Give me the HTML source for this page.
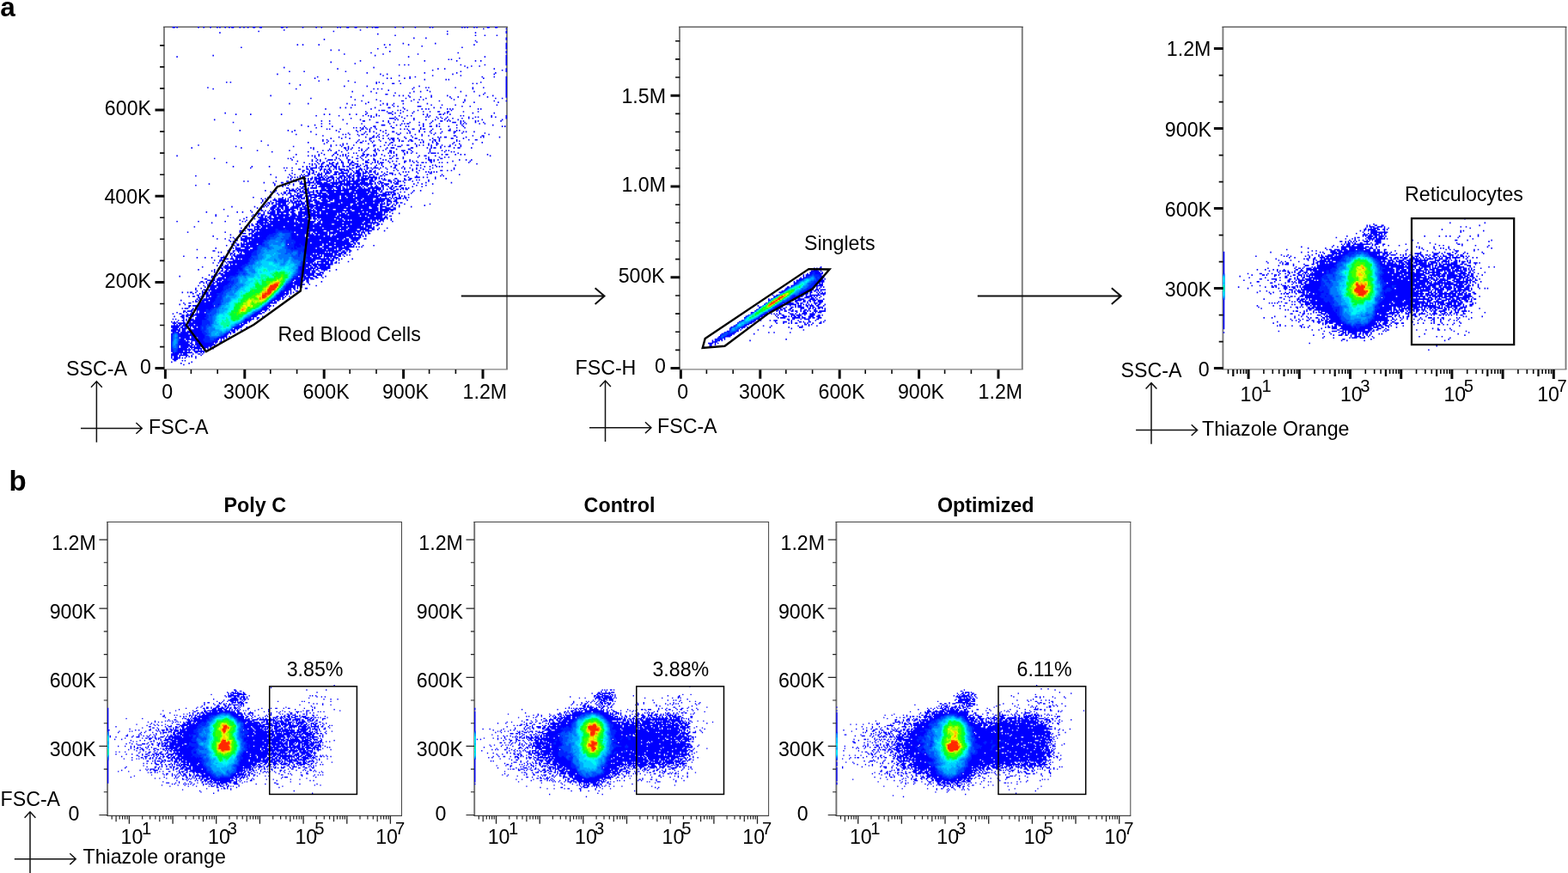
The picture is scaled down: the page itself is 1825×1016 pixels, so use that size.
<!DOCTYPE html>
<html lang="en"><head><meta charset="utf-8"><title>Flow cytometry gating</title>
<style>html,body{margin:0;padding:0;background:#fff}svg{display:block}text{font-family:"Liberation Sans",Arial,Helvetica,sans-serif;fill:#000}</style></head>
<body>
<svg width="1825" height="1016" viewBox="0 0 1825 1016">
<rect width="1825" height="1016" fill="#fff"/>
<path d="M191.0 31.1L191.0 429.9" stroke="#7c7c7c" stroke-width="1.9" fill="none"/>
<path d="M590.0 31.1L590.0 429.9" stroke="#7c7c7c" stroke-width="1.9" fill="none"/>
<path d="M190.1 31.3L590.9 31.3" stroke="#4c4c4c" stroke-width="1.2" fill="none"/>
<path d="M190.1 429.8L590.9 429.8" stroke="#808080" stroke-width="1.2" fill="none"/>
<g transform="translate(191.30 31.88) scale(1.5578 1.5578)" fill="none" stroke-width="1.04">
<path stroke="#0000ff" d="M6 0h2m1 0h1m15 0h1m3 0h1m4 0h1m4 0h1m1 0h1m3 0h1m2 0h1m1 0h2m4 0h1m2 0h1m2 0h1m3 0h2m3 0h2m14 0h2m2 0h1m11 0h1m9 0h1m3 0h1m11 0h1m1 0h1m4 0h2m4 0h2m7 0h1m3 0h1m1 0h3m12 0h1m5 0h1m8 0h1m10 0h1m1 0h1m21 0h1m1 0h1m1 0h1m4 0h1m1 0h1m7 0h2m4 0h2m-11 1h1m16 0h1m-167 1h1m56 0h1m-77 1h1m55 0h1m84 0h1m43 0h1m-215 1h1m190 0h1m22 0h1m-97 1h1m51 0h1m-40 1h1m59 0h1m6 0h1m8 0h1m-63 2h1m8 0h1m59 0h1m-137 1h1m135 0h1m-24 1h1m0 1h1m-56 1h1m23 0h1m52 0h1m-157 1h1m3 0h1m11 0h1m48 0h1m3 0h1m13 0h1m48 0h1m23 0h1m-64 1h1m62 0h1m-199 1h1m107 0h1m56 0h1m32 0h1m-97 1h1m95 0h1m-132 1h1m5 0h1m37 1h1m86 0h1m-102 1h1m64 0h1m35 0h1m-122 1h1m28 0h1m25 0h1m-154 1h1m120 0h1m97 0h1m-247 1h1m172 0h1m56 0h1m15 0h1m-36 1h1m34 0h1m-44 1h1m1 0h1m40 0h1m-110 1h1m47 0h1m23 0h1m13 0h1m3 0h1m18 0h1m-132 1h1m130 0h1m-114 1h1m112 0h1m-81 1h1m3 0h1m2 0h1m38 0h1m17 0h1m15 0h1m-32 1h1m4 0h1m5 0h1m-147 1h1m66 0h1m69 0h1m-98 1h1m74 0h1m4 0h1m36 0h1m8 0h1m-56 1h1m51 0h1m2 0h1m-163 1h1m10 0h1m30 0h1m85 0h1m33 0h1m-105 1h1m42 0h1m23 0h1m28 0h1m-164 1h1m76 0h1m4 0h1m48 0h1m30 0h1m-84 1h1m11 0h1m24 0h1m20 0h1m-108 1h1m68 0h1m3 0h1m49 0h1m8 0h1m8 0h1m-144 1h1m53 0h1m2 0h1m9 0h1m3 0h1m54 0h1m16 0h1m-134 1h1m71 0h1m15 0h1m1 0h1m42 0h1m-141 1h1m21 0h1m37 0h1m79 0h1m-210 1h1m2 0h1m92 0h1m15 0h1m1 0h1m75 0h1m18 0h1m-163 1h1m64 0h1m4 0h1m6 0h2m4 0h1m53 0h1m2 0h1m21 0h1m-155 1h1m153 0h1m-122 1h1m16 0h1m38 0h1m64 0h1m-224 1h1m153 0h1m8 0h1m1 0h1m19 0h1m12 0h1m7 0h1m16 0h1m-220 1h1m61 0h1m57 0h1m2 0h1m2 0h1m22 0h1m44 0h1m24 0h1m-89 1h1m28 0h1m58 0h1m-116 1h1m13 0h1m31 0h1m4 0h1m6 0h1m22 0h1m9 0h1m23 0h1m-98 1h1m13 0h1m10 0h1m55 0h1m15 0h1m-91 1h2m71 0h1m16 0h1m-177 1h1m68 0h1m22 0h1m3 0h1m2 0h1m3 0h1m16 0h1m11 0h1m13 0h1m9 0h1m9 0h1m9 0h1m-117 1h1m43 0h1m7 0h1m7 0h1m13 0h1m5 0h1m21 0h1m13 0h1m-147 1h1m70 0h1m14 0h1m18 0h1m32 0h1m4 0h1m-111 1h1m15 0h1m27 0h1m3 0h1m2 0h1m22 0h1m7 0h1m-78 1h1m13 0h1m15 0h2m5 0h1m20 0h1m18 0h1m21 0h1m8 0h1m-104 1h1m36 0h1m33 0h1m7 0h1m17 0h1m-157 1h1m13 0h1m28 0h1m13 0h1m12 0h1m2 0h1m4 0h1m6 0h1m17 0h1m-57 1h1m1 0h1m18 0h1m4 0h1m3 0h1m28 0h1m7 0h1m9 0h1m30 0h1m-78 1h1m2 0h1m14 0h3m30 0h1m5 0h1m-98 1h1m3 0h1m3 0h1m17 0h1m9 0h2m9 0h1m22 0h1m4 0h1m-87 1h1m33 0h1m24 0h1m12 0h1m2 0h1m1 0h1m13 0h1m1 0h1m1 0h1m18 0h1m1 0h1m-77 1h1m1 0h3m9 0h1m1 0h1m4 0h1m7 0h1m24 0h1m-65 1h1m15 0h1m3 0h1m7 0h1m7 0h1m6 0h1m4 0h1m5 0h2m5 0h2m10 0h1m10 0h1m-190 1h1m105 0h1m15 0h3m2 0h1m3 0h1m8 0h1m23 0h1m1 0h1m18 0h1m15 0h1m-194 1h1m10 0h1m22 0h1m31 0h1m3 0h1m14 0h1m4 0h1m6 0h1m7 0h1m11 0h1m22 0h1m2 0h1m8 0h2m1 0h1m4 0h1m-101 1h1m16 0h1m17 0h1m3 0h1m1 0h1m3 0h1m1 0h1m14 0h1m5 0h1m2 0h1m11 0h1m1 0h1m22 0h1m1 0h1m20 0h1m10 0h1m-102 1h1m1 0h1m15 0h1m4 0h1m17 0h1m1 0h1m5 0h1m2 0h1m4 0h1m15 0h1m4 0h1m1 0h1m9 0h1m2 0h1m7 0h1m-117 1h1m28 0h4m1 0h1m5 0h1m6 0h1m17 0h1m2 0h1m2 0h1m4 0h1m6 0h1m4 0h1m2 0h1m24 0h1m-219 1h1m95 0h1m12 0h1m6 0h1m18 0h1m1 0h1m11 0h1m8 0h1m6 0h1m6 0h1m2 0h1m6 0h1m17 0h1m14 0h1m-136 1h1m5 0h1m24 0h2m13 0h1m3 0h1m10 0h1m21 0h1m5 0h2m3 0h1m1 0h1m7 0h1m1 0h1m8 0h1m1 0h1m16 0h1m-201 1h1m106 0h2m7 0h1m3 0h1m11 0h1m6 0h1m8 0h1m15 0h3m3 0h1m2 0h1m7 0h1m5 0h1m-122 1h1m5 0h1m12 0h1m10 0h1m20 0h1m8 0h1m1 0h1m1 0h2m10 0h1m4 0h1m6 0h1m15 0h1m1 0h1m1 0h1m9 0h1m3 0h1m-138 1h1m9 0h1m49 0h3m8 0h1m2 0h1m13 0h1m2 0h1m9 0h1m14 0h1m3 0h1m22 0h1m-139 1h1m9 0h1m7 0h1m23 0h1m6 0h2m11 0h1m10 0h1m1 0h1m10 0h1m4 0h2m3 0h1m1 0h1m6 0h1m10 0h1m28 0h1m1 0h1m-142 1h1m27 0h1m1 0h1m2 0h1m1 0h1m1 0h1m3 0h1m2 0h1m12 0h2m19 0h1m26 0h1m5 0h1m-104 1h1m1 0h1m7 0h1m15 0h2m2 0h1m1 0h1m4 0h1m17 0h1m2 0h1m1 0h1m3 0h2m4 0h1m1 0h2m5 0h1m5 0h1m6 0h1m-158 1h1m35 0h1m4 0h1m30 0h1m14 0h1m2 0h1m6 0h1m7 0h1m3 0h1m16 0h1m7 0h1m8 0h1m12 0h2m4 0h1m1 0h1m-126 1h1m13 0h1m20 0h1m13 0h1m5 0h1m2 0h1m2 0h1m6 0h1m6 0h2m11 0h1m6 0h1m3 0h1m3 0h1m8 0h1m8 0h2m5 0h1m1 0h1m5 0h1m-95 1h1m11 0h1m8 0h1m6 0h1m7 0h1m2 0h1m4 0h1m1 0h1m15 0h1m2 0h1m3 0h1m9 0h1m5 0h1m16 0h1m-142 1h1m14 0h1m19 0h1m1 0h1m2 0h1m5 0h1m2 0h2m2 0h1m8 0h1m6 0h1m6 0h2m11 0h1m4 0h1m8 0h1m40 0h1m-125 1h1m26 0h1m10 0h1m2 0h1m3 0h1m2 0h1m17 0h1m7 0h1m4 0h1m18 0h2m12 0h1m6 0h2m-109 1h1m4 0h1m14 0h1m4 0h2m1 0h1m1 0h1m18 0h1m5 0h1m18 0h1m1 0h1m2 0h2m7 0h1m6 0h1m10 0h1m1 0h1m11 0h1m-127 1h1m7 0h1m5 0h1m14 0h2m8 0h1m3 0h1m1 0h3m2 0h1m5 0h1m6 0h2m11 0h1m4 0h1m8 0h2m7 0h1m-106 1h1m2 0h1m23 0h1m7 0h1m6 0h1m7 0h1m1 0h2m3 0h1m7 0h2m5 0h1m1 0h1m5 0h1m2 0h2m2 0h1m12 0h1m8 0h1m4 0h2m-162 1h1m45 0h1m3 0h1m3 0h1m17 0h1m3 0h1m1 0h1m3 0h1m1 0h1m4 0h1m9 0h1m3 0h1m1 0h2m3 0h1m1 0h2m7 0h1m6 0h1m1 0h1m2 0h1m12 0h1m1 0h1m-114 1h1m13 0h1m21 0h1m2 0h2m7 0h1m9 0h1m3 0h2m20 0h1m1 0h1m6 0h1m2 0h1m12 0h1m20 0h1m-119 1h1m13 0h1m2 0h1m15 0h1m15 0h1m18 0h1m9 0h1m5 0h2m10 0h1m4 0h1m9 0h1m-206 1h1m51 0h1m46 0h1m3 0h1m2 0h1m1 0h1m7 0h1m14 0h2m6 0h1m2 0h1m2 0h1m1 0h1m4 0h1m3 0h2m5 0h1m1 0h1m2 0h1m3 0h1m1 0h1m3 0h1m3 0h1m5 0h1m3 0h1m3 0h1m-169 1h1m42 0h1m27 0h1m7 0h1m4 0h1m18 0h1m4 0h1m12 0h3m11 0h1m10 0h1m6 0h1m2 0h1m2 0h2m7 0h1m-202 1h1m36 0h1m51 0h1m1 0h1m22 0h2m1 0h1m2 0h1m4 0h1m6 0h1m13 0h1m2 0h3m12 0h2m10 0h1m2 0h1m1 0h2m3 0h1m9 0h1m2 0h2m8 0h1m-119 1h1m11 0h1m11 0h1m1 0h1m1 0h1m7 0h1m3 0h1m5 0h1m1 0h1m5 0h1m7 0h1m8 0h2m14 0h1m-130 1h1m23 0h1m24 0h1m3 0h1m1 0h1m5 0h1m5 0h1m8 0h1m1 0h1m2 0h1m5 0h2m2 0h1m2 0h1m4 0h2m7 0h3m4 0h1m13 0h1m8 0h1m2 0h1m1 0h1m-133 1h1m26 0h1m6 0h1m13 0h1m3 0h1m16 0h1m7 0h1m10 0h2m1 0h1m6 0h1m2 0h1m3 0h1m12 0h1m10 0h1m4 0h1m1 0h1m-100 1h1m9 0h2m8 0h1m3 0h1m1 0h1m4 0h1m9 0h1m8 0h1m1 0h1m1 0h1m7 0h1m1 0h1m2 0h1m3 0h1m8 0h1m1 0h4m1 0h1m14 0h1m-122 1h1m16 0h1m3 0h1m6 0h1m2 0h1m3 0h1m1 0h1m12 0h2m1 0h2m3 0h1m1 0h1m3 0h1m10 0h1m5 0h1m27 0h1m2 0h2m5 0h1m3 0h1m2 0h1m16 0h1m-233 1h1m97 0h1m2 0h1m1 0h1m2 0h1m9 0h1m5 0h1m1 0h1m1 0h1m1 0h1m6 0h1m2 0h2m2 0h1m2 0h1m1 0h2m6 0h1m3 0h1m2 0h1m1 0h1m16 0h1m3 0h2m6 0h1m40 0h1m-148 1h1m15 0h1m15 0h1m7 0h1m3 0h1m5 0h1m3 0h1m19 0h1m7 0h1m10 0h1m7 0h1m7 0h1m3 0h1m2 0h1m-176 1h1m54 0h1m1 0h1m18 0h1m6 0h1m7 0h1m1 0h1m5 0h1m6 0h2m2 0h1m8 0h1m4 0h1m6 0h2m3 0h2m3 0h1m16 0h1m1 0h1m8 0h2m-113 1h1m14 0h1m3 0h1m1 0h1m5 0h4m1 0h1m3 0h1m5 0h2m9 0h1m3 0h1m3 0h2m5 0h1m1 0h1m17 0h1m13 0h3m1 0h1m2 0h1m15 0h1m4 0h1m3 0h1m-131 1h1m10 0h1m2 0h1m2 0h1m4 0h1m10 0h1m4 0h1m2 0h1m3 0h1m5 0h2m5 0h1m1 0h1m7 0h1m2 0h1m2 0h1m5 0h2m2 0h1m1 0h1m2 0h1m9 0h2m1 0h1m13 0h1m12 0h1m-183 1h1m57 0h1m9 0h1m3 0h2m3 0h1m1 0h2m2 0h1m2 0h2m3 0h1m1 0h3m8 0h3m2 0h1m1 0h1m1 0h1m1 0h3m4 0h1m10 0h1m6 0h1m2 0h1m2 0h2m1 0h1m3 0h1m5 0h1m1 0h1m3 0h1m15 0h1m-130 1h1m9 0h1m1 0h1m1 0h1m2 0h1m1 0h2m4 0h3m2 0h2m3 0h1m4 0h2m2 0h3m3 0h1m5 0h1m5 0h1m1 0h1m8 0h1m3 0h1m57 0h1m-124 1h1m2 0h1m3 0h1m3 0h2m2 0h2m1 0h1m4 0h1m4 0h1m1 0h2m2 0h1m1 0h1m3 0h2m6 0h1m3 0h1m9 0h2m10 0h1m3 0h2m1 0h1m8 0h1m1 0h1m14 0h1m-167 1h1m13 0h1m12 0h1m24 0h1m2 0h1m1 0h1m4 0h1m2 0h3m1 0h1m1 0h1m1 0h1m1 0h3m1 0h1m2 0h2m1 0h2m5 0h3m3 0h1m1 0h1m5 0h1m5 0h1m5 0h1m2 0h1m5 0h1m15 0h1m3 0h1m4 0h1m1 0h1m1 0h1m-144 1h1m24 0h1m1 0h1m3 0h1m10 0h1m2 0h5m1 0h1m1 0h1m5 0h1m3 0h2m1 0h1m7 0h1m1 0h2m1 0h1m2 0h1m4 0h2m1 0h1m1 0h4m1 0h1m3 0h1m5 0h2m4 0h1m1 0h1m3 0h1m4 0h1m2 0h1m8 0h1m15 0h1m-117 1h2m4 0h2m1 0h2m5 0h2m1 0h2m1 0h2m2 0h1m1 0h1m1 0h5m1 0h1m1 0h2m5 0h3m1 0h1m1 0h1m3 0h1m4 0h1m5 0h1m6 0h1m5 0h1m5 0h1m2 0h1m4 0h1m4 0h1m17 0h1m-127 1h1m4 0h1m7 0h2m3 0h1m1 0h2m4 0h1m2 0h1m1 0h1m1 0h2m6 0h2m1 0h4m2 0h1m2 0h3m1 0h1m2 0h1m2 0h2m2 0h1m13 0h1m2 0h1m10 0h1m4 0h1m15 0h2m3 0h1m2 0h1m-112 1h1m2 0h1m1 0h1m2 0h1m1 0h1m5 0h1m1 0h2m1 0h1m2 0h3m2 0h2m3 0h1m3 0h1m1 0h3m2 0h1m1 0h2m1 0h2m1 0h2m4 0h1m3 0h1m11 0h1m1 0h1m1 0h1m5 0h1m6 0h1m1 0h1m1 0h1m1 0h1m1 0h1m-109 1h1m11 0h2m1 0h2m3 0h1m1 0h1m2 0h4m3 0h2m1 0h7m2 0h1m2 0h5m1 0h3m1 0h1m4 0h1m1 0h1m4 0h1m3 0h3m4 0h1m13 0h1m8 0h2m-121 1h1m13 0h1m3 0h1m4 0h1m1 0h1m2 0h2m3 0h1m1 0h4m2 0h1m5 0h3m1 0h1m2 0h1m2 0h1m1 0h2m1 0h1m2 0h3m1 0h1m4 0h3m2 0h2m3 0h1m1 0h2m3 0h1m1 0h1m3 0h1m4 0h1m14 0h1m10 0h1m12 0h1m-198 1h1m70 0h1m6 0h1m1 0h1m1 0h3m6 0h2m1 0h1m1 0h1m1 0h1m2 0h2m5 0h4m1 0h3m1 0h2m1 0h4m1 0h4m1 0h1m2 0h1m4 0h2m1 0h1m14 0h2m7 0h1m17 0h1m1 0h1m-126 1h1m8 0h1m2 0h1m1 0h1m1 0h1m1 0h1m1 0h1m6 0h1m1 0h2m1 0h4m1 0h1m1 0h5m1 0h1m1 0h3m1 0h2m1 0h3m1 0h1m2 0h2m1 0h2m1 0h1m1 0h7m1 0h1m21 0h1m4 0h4m2 0h1m2 0h1m5 0h1m-109 1h1m6 0h1m1 0h3m1 0h1m1 0h2m1 0h5m1 0h2m1 0h2m2 0h2m2 0h2m1 0h1m1 0h1m1 0h1m1 0h1m1 0h2m2 0h2m1 0h6m1 0h2m1 0h2m1 0h1m1 0h1m1 0h1m7 0h2m5 0h1m3 0h2m17 0h1m7 0h1m-117 1h1m1 0h1m1 0h1m8 0h1m1 0h1m2 0h2m1 0h7m1 0h2m1 0h1m1 0h1m1 0h1m2 0h4m1 0h1m1 0h2m1 0h9m1 0h3m1 0h1m5 0h3m1 0h2m2 0h1m2 0h1m4 0h2m1 0h2m4 0h1m1 0h1m6 0h1m-139 1h1m2 0h1m20 0h1m7 0h2m2 0h1m1 0h2m1 0h1m1 0h1m4 0h2m2 0h1m1 0h4m4 0h3m2 0h1m1 0h1m1 0h5m1 0h10m1 0h3m3 0h4m3 0h2m5 0h3m2 0h1m1 0h3m1 0h1m6 0h1m11 0h1m-124 1h1m6 0h1m5 0h2m12 0h2m2 0h7m1 0h5m1 0h3m2 0h9m1 0h1m1 0h3m2 0h4m1 0h6m1 0h2m2 0h1m1 0h1m1 0h3m5 0h1m1 0h1m1 0h2m4 0h1m9 0h1m5 0h1m18 0h1m-182 1h1m48 0h1m10 0h1m2 0h1m4 0h5m2 0h1m3 0h1m1 0h10m1 0h5m1 0h25m1 0h1m2 0h1m1 0h1m1 0h4m4 0h3m11 0h1m5 0h1m7 0h1m-178 1h1m58 0h1m4 0h2m1 0h1m1 0h1m3 0h1m7 0h2m1 0h2m1 0h2m1 0h1m2 0h11m1 0h1m1 0h3m1 0h5m1 0h2m1 0h3m1 0h1m1 0h4m1 0h1m3 0h1m3 0h2m1 0h2m3 0h1m5 0h2m1 0h1m8 0h1m6 0h1m-112 1h1m3 0h1m12 0h1m1 0h3m4 0h1m2 0h1m1 0h17m1 0h1m2 0h1m1 0h9m1 0h1m2 0h1m2 0h2m1 0h3m2 0h2m3 0h1m1 0h2m1 0h2m1 0h2m8 0h1m6 0h1m-110 1h1m7 0h2m6 0h1m2 0h2m1 0h1m1 0h1m1 0h5m3 0h3m1 0h5m2 0h4m1 0h2m1 0h1m1 0h6m1 0h3m1 0h1m2 0h10m1 0h1m4 0h2m1 0h1m5 0h2m1 0h1m1 0h1m-90 1h1m1 0h2m1 0h1m1 0h2m2 0h4m9 0h4m1 0h3m1 0h1m2 0h3m1 0h10m1 0h10m1 0h2m1 0h4m1 0h1m2 0h1m2 0h2m2 0h2m1 0h1m1 0h1m1 0h2m-107 1h1m7 0h1m7 0h1m1 0h5m1 0h1m1 0h1m1 0h1m2 0h2m3 0h1m1 0h2m1 0h22m2 0h14m1 0h4m1 0h1m1 0h1m8 0h2m13 0h1m4 0h1m-113 1h1m1 0h2m6 0h2m2 0h1m3 0h2m2 0h5m1 0h5m1 0h2m1 0h2m3 0h6m1 0h4m2 0h4m1 0h3m1 0h8m1 0h7m2 0h2m2 0h7m4 0h1m2 0h1m5 0h1m-102 1h1m2 0h1m1 0h2m1 0h3m4 0h2m3 0h5m2 0h1m2 0h7m1 0h31m1 0h6m3 0h3m1 0h1m1 0h1m1 0h2m1 0h1m9 0h1m15 0h1m-116 1h1m2 0h1m2 0h1m2 0h1m2 0h1m1 0h1m1 0h3m2 0h1m1 0h6m1 0h2m1 0h4m1 0h18m1 0h1m1 0h8m1 0h4m1 0h1m1 0h9m1 0h3m2 0h1m6 0h1m-89 1h3m1 0h5m2 0h5m2 0h19m1 0h3m1 0h7m1 0h17m1 0h4m4 0h1m4 0h1m1 0h1m1 0h1m-114 1h1m10 0h3m8 0h1m4 0h2m1 0h1m2 0h4m1 0h1m2 0h1m1 0h5m2 0h15m1 0h4m1 0h4m1 0h18m1 0h1m3 0h1m2 0h1m1 0h1m1 0h2m1 0h2m2 0h2m1 0h1m-111 1h1m2 0h1m6 0h1m2 0h4m1 0h1m1 0h1m3 0h3m1 0h1m1 0h3m2 0h1m1 0h1m2 0h1m2 0h2m1 0h3m1 0h9m1 0h16m1 0h7m2 0h10m1 0h1m1 0h1m1 0h4m1 0h1m1 0h1m-108 1h1m2 0h1m4 0h3m1 0h6m1 0h1m1 0h1m1 0h1m2 0h1m1 0h1m4 0h4m1 0h3m3 0h5m1 0h3m1 0h16m1 0h3m1 0h8m1 0h8m1 0h3m3 0h2m7 0h1m-109 1h1m1 0h1m3 0h1m3 0h10m1 0h2m1 0h6m2 0h6m1 0h4m2 0h6m3 0h17m1 0h19m2 0h4m1 0h3m-102 1h1m4 0h2m1 0h2m1 0h1m1 0h6m2 0h1m1 0h4m1 0h1m1 0h3m1 0h3m3 0h10m2 0h8m1 0h10m1 0h6m1 0h5m1 0h4m1 0h1m1 0h1m1 0h1m2 0h1m3 0h2m1 0h2m-102 1h1m1 0h1m1 0h1m2 0h4m1 0h3m1 0h1m3 0h1m1 0h7m1 0h5m2 0h17m1 0h8m2 0h7m1 0h11m1 0h4m1 0h3m2 0h1m1 0h1m5 0h1m18 0h1m-124 1h1m1 0h1m3 0h3m1 0h7m4 0h1m1 0h4m1 0h1m1 0h2m1 0h7m1 0h23m1 0h4m1 0h15m1 0h2m3 0h2m2 0h1m1 0h1m2 0h1m18 0h1m-145 1h1m16 0h1m5 0h2m1 0h1m3 0h4m1 0h4m1 0h3m2 0h6m2 0h3m1 0h5m1 0h6m1 0h16m1 0h16m1 0h5m2 0h5m3 0h2m4 0h1m8 0h1m-116 1h1m2 0h1m6 0h4m1 0h2m1 0h2m1 0h3m1 0h6m1 0h2m1 0h4m1 0h2m1 0h10m1 0h30m2 0h5m1 0h2m2 0h4m2 0h2m-129 1h1m27 0h1m6 0h3m1 0h4m1 0h1m1 0h7m2 0h1m1 0h9m1 0h1m1 0h5m2 0h6m2 0h6m2 0h3m1 0h7m1 0h12m1 0h12m-109 1h1m7 0h2m1 0h1m2 0h1m1 0h3m1 0h3m2 0h5m1 0h3m3 0h2m2 0h8m1 0h26m2 0h18m1 0h7m1 0h2m-140 1h1m22 0h1m3 0h1m6 0h1m8 0h1m2 0h1m1 0h4m1 0h9m1 0h3m3 0h10m1 0h5m1 0h16m2 0h1m1 0h11m1 0h2m1 0h6m1 0h4m1 0h3m1 0h1m-100 1h3m2 0h1m2 0h6m1 0h2m1 0h2m2 0h2m2 0h3m2 0h8m1 0h4m1 0h2m1 0h4m1 0h7m1 0h1m1 0h3m1 0h9m1 0h7m1 0h9m1 0h1m5 0h1m4 0h1m-138 1h1m27 0h1m3 0h1m1 0h3m4 0h15m1 0h4m1 0h3m1 0h25m1 0h7m1 0h27m1 0h1m-129 1h1m8 0h1m17 0h1m3 0h1m2 0h2m1 0h2m1 0h2m1 0h3m1 0h8m1 0h11m1 0h2m1 0h19m1 0h17m1 0h3m1 0h6m1 0h5m2 0h1m2 0h2m-109 1h1m4 0h1m3 0h4m1 0h1m1 0h3m2 0h7m1 0h8m1 0h4m2 0h5m1 0h2m1 0h17m1 0h20m1 0h10m1 0h3m-108 1h1m7 0h1m3 0h6m1 0h29m1 0h2m1 0h3m1 0h1m1 0h10m1 0h5m1 0h31m1 0h1m2 0h1m-114 1h1m4 0h1m8 0h8m1 0h1m1 0h4m1 0h11m1 0h11m3 0h1m1 0h1m1 0h13m1 0h4m1 0h2m1 0h1m1 0h14m1 0h3m1 0h1m1 0h3m5 0h1m-161 1h1m15 0h1m19 0h1m12 0h1m1 0h1m8 0h5m1 0h2m1 0h14m1 0h4m1 0h1m1 0h13m2 0h2m1 0h31m1 0h4m1 0h1m1 0h1m2 0h2m1 0h1m6 0h1m-136 1h1m33 0h9m1 0h21m1 0h2m1 0h8m2 0h3m1 0h15m1 0h14m1 0h11m-104 1h1m8 0h1m2 0h2m1 0h3m1 0h1m1 0h34m1 0h13m2 0h12m1 0h12m2 0h1m1 0h1m2 0h2m1 0h1m-100 1h1m1 0h2m2 0h2m1 0h8m1 0h16m1 0h18m1 0h16m1 0h2m1 0h10m1 0h1m1 0h5m3 0h2m-138 1h1m37 0h2m1 0h1m3 0h5m1 0h16m1 0h59m1 0h5m1 0h1m-100 1h1m2 0h2m5 0h1m1 0h2m1 0h4m1 0h25m1 0h8m1 0h6m1 0h12m1 0h5m1 0h13m1 0h5m3 0h1m5 0h1m-105 1h4m1 0h40m1 0h21m1 0h6m1 0h7m2 0h7m2 0h2m2 0h1m-104 1h2m2 0h1m2 0h1m1 0h3m1 0h1m1 0h48m2 0h3m2 0h5m1 0h1m1 0h13m1 0h1m1 0h5m9 0h1m-148 1h1m27 0h1m10 0h1m8 0h2m1 0h29m1 0h9m1 0h1m2 0h2m1 0h8m1 0h20m1 0h2m1 0h3m2 0h1m-95 1h3m2 0h3m1 0h42m1 0h1m1 0h10m1 0h5m1 0h11m1 0h3m1 0h1m1 0h1m1 0h1m2 0h2m-105 1h1m13 0h1m1 0h34m1 0h5m1 0h6m1 0h2m1 0h6m1 0h1m2 0h1m1 0h20m2 0h1m-115 1h1m19 0h1m1 0h4m3 0h5m1 0h34m1 0h13m1 0h4m1 0h16m1 0h1m2 0h2m1 0h1m1 0h1m-102 1h1m1 0h1m2 0h1m2 0h1m2 0h6m1 0h40m1 0h28m2 0h9m-108 1h1m5 0h1m6 0h1m4 0h72m1 0h4m1 0h3m1 0h7m3 0h2m-103 1h1m4 0h2m2 0h5m1 0h1m1 0h51m1 0h16m1 0h4m2 0h5m-96 1h1m1 0h1m7 0h3m1 0h60m1 0h14m1 0h3m1 0h1m-93 1h1m1 0h1m3 0h1m1 0h1m1 0h48m1 0h17m1 0h11m2 0h2m1 0h2m-96 1h1m3 0h2m1 0h12m1 0h22m1 0h25m1 0h2m1 0h19m1 0h1m2 0h1m-100 1h1m5 0h1m1 0h2m1 0h3m1 0h2m1 0h54m1 0h8m1 0h7m1 0h4m1 0h1m6 0h1m7 0h1m-107 1h1m2 0h1m3 0h59m2 0h5m2 0h8m1 0h8m1 0h1m1 0h1m1 0h1m-110 1h1m10 0h1m1 0h1m1 0h4m3 0h4m2 0h47m1 0h4m1 0h10m1 0h8m-114 1h1m23 0h1m4 0h10m1 0h57m1 0h5m1 0h1m1 0h3m2 0h4m5 0h1m-109 1h2m9 0h2m2 0h2m1 0h78m1 0h2m1 0h1m1 0h2m-100 1h1m1 0h1m5 0h1m2 0h1m3 0h1m1 0h1m1 0h61m1 0h1m1 0h1m1 0h5m2 0h4m2 0h1m-90 1h2m1 0h1m3 0h2m2 0h51m1 0h1m1 0h12m1 0h2m1 0h3m1 0h2m-90 1h1m2 0h1m1 0h2m1 0h62m1 0h1m1 0h7m1 0h5m1 0h1m2 0h1m1 0h1m-125 1h1m25 0h1m3 0h1m5 0h1m1 0h57m1 0h4m1 0h3m1 0h9m2 0h2m2 0h1m-111 1h1m5 0h1m4 0h1m6 0h4m4 0h1m2 0h57m1 0h6m2 0h1m1 0h2m1 0h1m1 0h4m-88 1h1m2 0h3m1 0h3m1 0h2m1 0h1m1 0h66m1 0h2m1 0h1m1 0h1m1 0h1m7 0h1m-104 1h1m3 0h4m6 0h62m4 0h4m1 0h5m3 0h1m-90 1h1m3 0h1m1 0h65m2 0h9m1 0h2m2 0h1m8 0h1m-102 1h1m3 0h1m2 0h1m2 0h1m1 0h58m1 0h4m1 0h1m1 0h1m2 0h2m1 0h3m1 0h2m1 0h2m1 0h1m-88 1h1m3 0h1m1 0h1m1 0h2m1 0h55m1 0h16m-87 1h1m3 0h1m1 0h3m1 0h61m1 0h3m1 0h6m1 0h2m-96 1h1m13 0h1m1 0h64m1 0h2m1 0h3m1 0h8m-84 1h1m1 0h2m1 0h61m1 0h6m1 0h10m-99 1h1m11 0h1m2 0h1m2 0h1m2 0h2m1 0h61m1 0h1m1 0h2m2 0h5m6 0h1m-94 1h1m1 0h1m1 0h1m2 0h2m1 0h2m1 0h61m1 0h3m2 0h1m3 0h1m3 0h1m-87 1h1m3 0h1m2 0h65m1 0h3m3 0h3m-79 1h4m1 0h67m1 0h4m1 0h1m-86 1h1m3 0h1m1 0h1m2 0h63m1 0h6m2 0h4m-107 1h1m23 0h2m1 0h1m4 0h57m1 0h5m1 0h2m2 0h3m3 0h1m2 0h1m-93 1h1m6 0h1m1 0h1m2 0h5m1 0h57m1 0h7m2 0h2m3 0h1m-89 1h2m5 0h1m1 0h64m1 0h4m1 0h3m-80 1h3m1 0h2m1 0h4m1 0h53m1 0h7m1 0h2m-81 1h2m2 0h1m2 0h3m1 0h2m1 0h1m1 0h53m1 0h7m2 0h2m9 0h1m-92 1h1m2 0h1m1 0h1m1 0h1m2 0h2m1 0h63m5 0h1m-76 1h1m2 0h2m2 0h57m1 0h5m1 0h2m3 0h1m-84 1h1m3 0h1m2 0h66m1 0h4m10 0h1m-84 1h1m1 0h1m1 0h5m1 0h58m1 0h1m1 0h2m-80 1h1m3 0h1m6 0h4m1 0h56m1 0h2m1 0h1m5 0h2m-84 1h1m5 0h2m1 0h63m2 0h1m-74 1h1m3 0h1m1 0h2m1 0h1m1 0h58m1 0h1m3 0h2m-87 1h1m3 0h1m1 0h2m2 0h1m4 0h5m1 0h56m1 0h2m1 0h1m1 0h1m-76 1h1m4 0h1m1 0h1m1 0h3m1 0h59m1 0h1m-71 1h2m2 0h2m1 0h59m1 0h1m-74 1h1m2 0h2m2 0h1m1 0h3m1 0h3m1 0h54m1 0h1m2 0h1m-69 1h2m1 0h1m2 0h1m1 0h54m1 0h2m-66 1h1m1 0h2m1 0h58m1 0h1m-77 1h1m10 0h1m1 0h1m2 0h5m1 0h49m1 0h2m-65 1h1m1 0h2m2 0h3m1 0h50m1 0h2m-70 1h1m3 0h2m6 0h58m-73 1h1m3 0h1m9 0h54m-61 1h2m1 0h16m1 0h42m1 0h1m-64 1h1m4 0h1m1 0h52m1 0h1m-66 1h1m1 0h3m3 0h1m1 0h55m-58 1h2m2 0h53m1 0h1m-65 1h2m1 0h4m1 0h1m1 0h1m1 0h47m2 0h1m-67 1h1m4 0h1m1 0h1m3 0h1m3 0h1m1 0h4m1 0h41m1 0h2m-69 1h1m4 0h2m4 0h1m1 0h3m1 0h50m-60 1h2m1 0h54m-63 1h1m4 0h3m1 0h2m1 0h3m2 0h45m4 0h1m-61 1h2m3 0h2m3 0h42m1 0h1m2 0h2m-65 1h1m1 0h1m5 0h1m1 0h1m1 0h4m1 0h44m2 0h1m-60 1h1m2 0h2m1 0h1m1 0h47m-60 1h1m1 0h1m1 0h1m4 0h1m2 0h3m1 0h41m1 0h1m-58 1h3m1 0h6m1 0h41m1 0h3m-55 1h1m1 0h1m1 0h2m1 0h3m1 0h4m1 0h33m1 0h3m-55 1h7m1 0h3m1 0h42m-54 1h6m1 0h2m1 0h3m1 0h1m1 0h3m1 0h33m3 0h2m-57 1h4m1 0h1m1 0h4m1 0h2m2 0h29m1 0h4m-51 1h7m1 0h3m3 0h34m1 0h1m2 0h1m-53 1h4m1 0h2m1 0h3m1 0h32m1 0h3m-47 1h5m1 0h38m1 0h2m-48 1h13m1 0h29m1 0h1m-45 1h42m-42 1h14m1 0h27m1 0h1m-44 1h6m1 0h7m1 0h3m2 0h20m1 0h1m-42 1h10m1 0h25m1 0h1m1 0h1m2 0h1m-43 1h11m1 0h1m2 0h20m2 0h1m-38 1h14m1 0h1m2 0h2m1 0h14m1 0h2m-38 1h13m1 0h2m2 0h14m1 0h1m-34 1h14m1 0h2m1 0h15m-33 1h6m1 0h9m1 0h1m1 0h12m1 0h2m-34 1h6m1 0h6m1 0h8m2 0h4m1 0h1m-30 1h12m1 0h1m1 0h1m1 0h6m1 0h2m1 0h1m3 0h1m-32 1h15m1 0h2m2 0h1m1 0h1m-23 1h9m1 0h2m1 0h1m3 0h8m-24 1h15m2 0h2m2 0h1m1 0h1m-25 1h6m1 0h1m1 0h3m4 0h1m3 0h2m1 0h1m-24 1h5m1 0h7m2 0h1m6 0h1m-23 1h1m1 0h3m1 0h1m4 0h1m1 0h1m1 0h1m2 0h1m-19 1h1m1 0h5m1 0h1m1 0h1m7 0h1m-18 1h4m-3 1h2m4 0h1m1 0h1m-11 1h1m14 0h1m-9 1h1m5 0h1m-5 1h1"/>
<path stroke="#0023ff" d="M83 151h2m5 0h1m-8 1h10m1 0h1m-12 1h13m-15 1h14m-17 1h17m-18 1h18m-19 1h19m-19 1h19m-21 1h23m-23 1h24m-25 1h25m-25 1h19m1 0h4m4 0h1m-32 1h27m5 0h1m2 0h1m-37 1h28m1 0h1m3 0h4m-37 1h26m1 0h1m2 0h7m-37 1h35m-37 1h37m-38 1h39m-40 1h41m-41 1h42m-42 1h42m-43 1h42m-43 1h44m-44 1h44m-44 1h43m-44 1h43m-45 1h44m-46 1h45m-46 1h44m-43 1h43m-46 1h1m2 0h43m-46 1h47m-48 1h48m-47 1h46m-48 1h47m-51 1h50m-51 1h50m-51 1h49m-49 1h48m-46 1h46m-47 1h46m-47 1h46m-48 1h47m-48 1h47m-47 1h46m-46 1h46m-47 1h46m-47 1h45m-48 1h47m-46 1h45m-46 1h45m-45 1h45m-46 1h44m-44 1h43m-44 1h42m-43 1h42m-42 1h4m1 0h37m-40 1h38m-39 1h37m-39 1h38m-42 1h2m1 0h38m-41 1h39m-39 1h38m-38 1h36m-36 1h35m-35 1h34m-35 1h34m-33 1h30m-33 1h32m-32 1h31m-31 1h30m-30 1h28m-29 1h28m-28 1h26m-26 1h24m-24 1h23m-22 1h21m-42 1h3m18 0h20m-42 1h4m19 0h17m-40 1h5m19 0h15m-39 1h5m19 0h13m-37 1h5m19 0h10m-34 1h6m17 0h10m-33 1h5m18 0h9m-32 1h5m19 0h6m-31 1h6m-6 1h6m-6 1h6m-6 1h6m-5 1h4m-4 1h4m-4 1h4m-3 1h1"/>
<path stroke="#004bff" d="M85 153h3m-4 1h10m-11 1h11m-12 1h12m-15 1h14m-14 1h14m-16 1h14m-16 1h16m-17 1h17m4 0h1m-21 1h16m-20 1h1m3 0h16m-21 1h22m-22 1h22m-22 1h24m-25 1h26m1 0h4m-31 1h31m2 0h1m-34 1h31m2 0h2m-35 1h31m1 0h3m-39 1h35m1 0h3m-38 1h39m-40 1h1m1 0h38m-41 1h40m-40 1h38m-39 1h39m-39 1h39m-41 1h41m-42 1h40m-41 1h41m-41 1h41m-41 1h41m-44 1h44m-44 1h3m1 0h39m-44 1h44m-45 1h43m-46 1h45m-46 1h45m-45 1h1m1 0h43m-43 1h42m-42 1h41m-44 1h1m1 0h40m-43 1h1m1 0h41m-41 1h40m-42 1h42m-44 1h43m-44 1h42m-43 1h42m-42 1h42m-43 1h41m-44 1h1m2 0h41m-41 1h40m-40 1h38m-39 1h38m-38 1h37m-37 1h36m-36 1h35m-36 1h34m-35 1h34m-37 1h36m-37 1h36m-37 1h35m-36 1h34m-36 1h35m-34 1h1m1 0h30m-32 1h31m-31 1h30m-31 1h28m-27 1h27m-26 1h25m-25 1h23m-25 1h1m1 0h22m-25 1h23m-26 1h1m2 0h21m-24 1h1m2 0h20m-20 1h19m-20 1h19m-18 1h16m-40 1h3m22 0h13m-39 1h4m21 0h13m-38 1h4m23 0h9m-36 1h5m23 0h5m-33 1h5m23 0h3m-31 1h5m-5 1h4m-4 1h4m-4 1h4m-4 1h4m-4 1h4m-4 1h4m-3 1h2m-2 1h2"/>
<path stroke="#0078ff" d="M86 154h2m-3 1h5m-4 1h2m-4 1h5m-6 1h4m-8 1h9m1 0h1m-12 1h9m1 0h2m-13 1h13m-12 1h12m-12 1h12m-12 1h12m-17 1h4m2 0h11m-18 1h19m-19 1h19m-19 1h19m5 0h3m-28 1h19m2 0h2m1 0h4m-29 1h25m1 0h2m-28 1h25m-25 1h26m-26 1h27m-29 1h32m-33 1h35m-35 1h34m-35 1h35m-38 1h37m-39 1h2m1 0h36m-40 1h40m-40 1h39m-38 1h38m-38 1h38m-37 1h36m-41 1h1m3 0h36m-42 1h41m-42 1h42m-41 1h40m-40 1h39m-39 1h38m-39 1h38m-39 1h38m-39 1h1m1 0h36m-39 1h3m1 0h34m-39 1h3m1 0h35m-39 1h38m-39 1h38m-40 1h39m-40 1h39m-39 1h37m-38 1h38m-39 1h38m-38 1h36m-36 1h35m-35 1h34m-35 1h34m-34 1h33m-34 1h32m-33 1h32m-33 1h32m-33 1h32m-32 1h30m-30 1h28m-29 1h28m-29 1h28m-29 1h27m-27 1h25m-25 1h24m-24 1h23m-23 1h22m-22 1h20m-21 1h19m-19 1h18m-20 1h18m-19 1h18m-17 1h16m-16 1h15m-15 1h13m-38 1h1m25 0h10m-37 1h3m23 0h9m-35 1h3m24 0h6m-33 1h2m-2 1h3m-3 1h3m-4 1h4m-4 1h4m-4 1h3m-3 1h3m-2 1h2"/>
<path stroke="#00a5ff" d="M83 160h2m3 1h1m-9 1h1m6 0h3m-11 1h6m2 0h3m-9 1h7m-6 1h6m-13 1h1m4 0h6m-12 1h3m1 0h6m-9 1h10m-11 1h13m-14 1h12m-11 1h11m-11 1h11m8 0h2m-22 1h9m1 0h3m2 0h1m4 0h2m-24 1h11m2 0h5m3 0h3m-26 1h14m1 0h5m2 0h5m-28 1h21m1 0h7m-29 1h19m3 0h9m-33 1h32m-32 1h33m-33 1h33m-38 1h2m4 0h31m-36 1h1m5 0h30m-36 1h3m3 0h29m-34 1h34m-33 1h32m-38 1h1m2 0h34m-39 1h4m1 0h34m-39 1h38m-38 1h37m-37 1h36m-36 1h35m-32 1h31m-31 1h30m-32 1h31m-32 1h32m-33 1h32m-36 1h1m2 0h32m-35 1h1m1 0h32m-33 1h32m-37 1h1m4 0h31m-37 1h36m-36 1h1m2 0h32m-32 1h31m-31 1h30m-31 1h30m-32 1h31m-32 1h30m-32 1h31m-32 1h31m-31 1h1m1 0h28m-31 1h29m-29 1h26m-26 1h25m-27 1h26m-26 1h25m-26 1h24m-24 1h22m-22 1h21m-21 1h20m-21 1h20m-20 1h18m-19 1h17m-17 1h16m-16 1h14m-12 1h12m-12 1h11m-13 1h10m-11 1h7m1 0h2m-10 1h6m-33 1h1m26 0h6m-33 1h1m-1 2h1m-2 1h2m-2 1h2m-2 1h2m-2 1h1"/>
<path stroke="#00d2ff" d="M88 163h1m-7 6h1m-7 1h3m2 0h1m-6 1h4m-4 1h3m-4 1h2m-4 1h3m17 0h1m-22 1h9m11 0h2m-25 1h1m2 0h10m3 0h1m6 0h2m-21 1h13m5 0h2m1 0h3m-25 1h14m4 0h7m-28 1h1m1 0h25m-28 1h27m-27 1h17m1 0h10m-28 1h29m-28 1h27m-28 1h28m-29 1h28m-28 1h28m-33 1h32m-32 1h31m-36 1h1m4 0h30m-35 1h1m3 0h30m-31 1h30m-29 1h29m-30 1h29m-30 1h29m-31 1h30m-31 1h30m-31 1h31m-32 1h31m-32 1h30m-29 1h29m-29 1h28m-29 1h28m-31 1h29m-29 1h28m-29 1h28m-29 1h28m-28 1h27m-29 1h27m-28 1h27m-25 1h24m-24 1h21m-23 1h21m-22 1h21m-24 1h23m-24 1h22m-23 1h22m-22 1h20m-20 1h20m-21 1h19m-18 1h17m-17 1h14m-13 1h12m-15 1h13m-12 1h12m-12 1h11m-8 1h5m-3 1h2m-6 1h1m-2 1h1"/>
<path stroke="#00faf5" d="M78 176h3m-3 1h3m0 1h2m-10 1h1m9 0h1m6 0h3m-21 1h5m11 0h1m1 0h3m-23 1h7m5 0h1m4 0h5m-22 1h1m1 0h6m1 0h15m-24 1h1m2 0h22m-25 1h25m-24 1h23m-26 1h1m2 0h22m-26 1h3m2 0h21m-30 1h29m-29 1h2m1 0h25m-25 1h24m-26 1h26m-27 1h26m-26 1h25m-27 1h27m-28 1h27m-27 1h26m-29 1h2m2 0h24m-29 1h28m-28 1h27m-27 1h26m-26 1h25m-26 1h25m-26 1h25m-28 1h27m-28 1h27m-28 1h26m-26 1h25m-25 1h24m-24 1h23m-24 1h22m-22 1h20m-21 1h19m-19 1h18m-20 1h18m-22 1h3m1 0h16m-21 1h20m-19 1h2m2 0h14m-19 1h18m-17 1h16m-17 1h14m-13 1h11m-11 1h9m-8 1h7m-6 1h6m-7 1h4m-3 1h1"/>
<path stroke="#00ffa0" d="M74 181h2m-2 1h1m1 0h1m6 0h1m3 0h3m-9 1h11m1 0h1m-15 1h15m-22 1h4m4 0h13m-21 1h6m3 0h12m-21 1h2m1 0h18m-26 1h1m4 0h19m-23 1h2m1 0h20m-23 1h2m2 0h18m-23 1h4m1 0h17m-22 1h22m-21 1h20m-22 1h21m-23 1h22m-22 1h21m-21 1h21m-28 1h1m3 0h22m-23 1h22m-25 1h25m-25 1h24m-23 1h22m-25 1h23m-23 1h22m-22 1h21m-24 1h23m-23 1h21m-21 1h20m-20 1h19m-19 1h17m-18 1h15m-16 1h15m-17 1h15m-16 1h15m-14 1h12m-11 1h10m-13 1h1m2 0h9m-12 1h2m1 0h8m-14 1h1m1 0h3m2 0h5m-12 1h2m1 0h3m-7 1h7m-7 1h7m-5 1h4m-4 1h2"/>
<path stroke="#00ff32" d="M83 183h2m1 0h4m-8 1h8m-9 1h1m1 0h9m-10 1h10m-15 1h1m4 0h10m-16 1h14m-17 1h1m2 0h14m-17 1h17m-21 1h1m3 0h16m-21 1h3m2 0h16m-21 1h20m-20 1h19m-18 1h17m-21 1h20m-21 1h20m-21 1h20m-22 1h21m-23 1h22m-22 1h21m-21 1h20m-21 1h20m-21 1h20m-20 1h19m-21 1h19m-21 1h20m-20 1h18m-19 1h18m-18 1h16m-16 1h13m-15 1h14m-14 1h12m-13 1h12m-12 1h10m-9 1h8m-8 1h6m-6 1h6m-5 1h2m-6 4h1"/>
<path stroke="#3cff00" d="M87 185h2m-2 1h2m-6 1h2m1 0h3m-6 1h6m-8 1h8m-13 1h12m-12 1h12m-11 1h10m-11 1h10m-12 1h12m-13 1h12m-12 1h11m-18 1h1m5 0h11m-12 1h11m-14 1h13m-15 1h14m-15 1h14m-16 1h15m-16 1h15m-17 1h16m-17 1h15m-16 1h15m-16 1h14m-15 1h13m-13 1h12m-12 1h9m-10 1h8m-8 1h7m-10 1h1m1 0h7m-7 1h4m-4 1h1"/>
<path stroke="#a0ff00" d="M87 187h1m-2 1h2m-4 1h3m-6 1h5m-7 1h8m-9 1h8m-9 1h9m-10 1h9m-11 1h10m-10 1h10m-11 1h9m-10 1h9m-10 1h9m-11 1h10m-11 1h10m-9 1h8m-14 1h1m1 0h2m3 0h6m-14 1h13m-14 1h4m1 0h7m-14 1h6m2 0h2m-10 1h6m-7 1h8m-9 1h5m2 0h2m-9 1h5m-6 1h5m-5 1h5m-5 1h1"/>
<path stroke="#f0fa00" d="M84 189h1m-2 1h3m-5 1h5m-7 1h7m-8 1h7m-7 1h7m-9 1h8m-8 1h7m-8 1h7m-9 1h8m-9 1h8m-8 1h7m-10 1h9m-8 1h6m-5 1h4m-12 1h2m6 0h3m-12 1h3m3 0h1m-7 1h2m-2 1h2m-5 1h2m1 0h2m1 0h1m-7 1h3m-4 1h3m-4 1h4m-4 1h1m1 0h1"/>
<path stroke="#ffc300" d="M85 190h1m-4 1h4m-6 1h5m-6 1h6m-7 1h6m-7 1h7m-7 1h6m-8 1h6m-8 1h7m-7 1h7m-7 1h6m-7 1h5m-6 1h5m-5 1h3m-15 6h1m-2 1h3m-4 1h3"/>
<path stroke="#ff7300" d="M83 191h3m-5 1h4m-6 1h6m-7 1h6m-6 1h5m-6 1h6m-6 1h4m-6 1h5m-7 1h6m-6 1h5m-5 1h4m-6 1h1m1 0h3m-5 1h1m-14 8h1"/>
<path stroke="#ff2800" d="M82 192h3m-6 1h6m-6 1h5m-6 1h5m-6 1h5m-5 1h3m-3 1h3m-5 1h4m-6 1h3m-3 1h3m-3 1h2"/>
</g>
<path d="M180.5 428.6L191.3 428.6M180.5 328.4L191.3 328.4M180.5 228.2L191.3 228.2M180.5 128.0L191.3 128.0" stroke="#0a0a0a" stroke-width="3.0" fill="none"/>
<path d="M186.1 403.6L191.3 403.6M186.1 378.5L191.3 378.5M186.1 353.5L191.3 353.5M186.1 303.4L191.3 303.4M186.1 278.3L191.3 278.3M186.1 253.3L191.3 253.3M186.1 203.2L191.3 203.2M186.1 178.1L191.3 178.1M186.1 153.1L191.3 153.1M186.1 102.9L191.3 102.9M186.1 77.9L191.3 77.9M186.1 52.9L191.3 52.9" stroke="#0a0a0a" stroke-width="1.6" fill="none"/>
<text x="176.0" y="434.5" font-size="23.2" text-anchor="end">0</text>
<text x="176.0" y="335.1" font-size="23.2" text-anchor="end">200K</text>
<text x="175.6" y="237.4" font-size="23.2" text-anchor="end">400K</text>
<text x="176.0" y="133.9" font-size="23.2" text-anchor="end">600K</text>
<path d="M192.4 429.9L192.4 440.7M284.8 429.9L284.8 440.7M377.2 429.9L377.2 440.7M469.6 429.9L469.6 440.7M562.0 429.9L562.0 440.7" stroke="#0a0a0a" stroke-width="3.0" fill="none"/>
<path d="M222.4 429.9L222.4 435.1M253.2 429.9L253.2 435.1M314.8 429.9L314.8 435.1M345.6 429.9L345.6 435.1M407.2 429.9L407.2 435.1M438.0 429.9L438.0 435.1M499.6 429.9L499.6 435.1M530.4 429.9L530.4 435.1" stroke="#0a0a0a" stroke-width="1.6" fill="none"/>
<text x="194.8" y="463.6" font-size="23.2" text-anchor="middle">0</text>
<text x="287.2" y="463.6" font-size="23.2" text-anchor="middle">300K</text>
<text x="379.6" y="463.6" font-size="23.2" text-anchor="middle">600K</text>
<text x="472.0" y="463.6" font-size="23.2" text-anchor="middle">900K</text>
<text x="564.4" y="463.6" font-size="23.2" text-anchor="middle">1.2M</text>
<path d="M792.4 429.9L792.4 440.7M884.8 429.9L884.8 440.7M977.2 429.9L977.2 440.7M1069.6 429.9L1069.6 440.7M1162.0 429.9L1162.0 440.7" stroke="#0a0a0a" stroke-width="3.0" fill="none"/>
<path d="M822.4 429.9L822.4 435.1M853.2 429.9L853.2 435.1M914.8 429.9L914.8 435.1M945.6 429.9L945.6 435.1M1007.2 429.9L1007.2 435.1M1038.0 429.9L1038.0 435.1M1099.6 429.9L1099.6 435.1M1130.4 429.9L1130.4 435.1" stroke="#0a0a0a" stroke-width="1.6" fill="none"/>
<text x="794.8" y="463.6" font-size="23.2" text-anchor="middle">0</text>
<text x="887.2" y="463.6" font-size="23.2" text-anchor="middle">300K</text>
<text x="979.6" y="463.6" font-size="23.2" text-anchor="middle">600K</text>
<text x="1072.0" y="463.6" font-size="23.2" text-anchor="middle">900K</text>
<text x="1164.4" y="463.6" font-size="23.2" text-anchor="middle">1.2M</text>
<text x="77.0" y="437.1" font-size="23.2">SSC-A</text>
<path d="M112.4 514.8L112.4 443.5M106.0 450.7L112.4 443.8L118.8 450.7M94.0 498.4L165.6 498.4M158.4 492.0L165.3 498.4L158.4 504.8" stroke="#111" stroke-width="1.5" fill="none" stroke-linejoin="miter"/>
<text x="173.0" y="504.9" font-size="23.2">FSC-A</text>
<path d="M216.8 378.5L273.5 280.7L322.7 217.4L354.1 206.4L360.1 252.8L349.8 338.5L295.6 377.7L239.9 409.1Z" fill="none" stroke="#000" stroke-width="2.4" stroke-linejoin="miter"/>
<text x="323.5" y="397.3" font-size="23.2">Red Blood Cells</text>
<path d="M536.8 344.6L704.0 344.6M692.6 335.2L703.5 344.6L692.6 354.0" stroke="#111" stroke-width="2.0" fill="none" stroke-linejoin="miter"/>
<path d="M791.0 31.1L791.0 429.9" stroke="#7c7c7c" stroke-width="1.9" fill="none"/>
<path d="M1189.8 31.1L1189.8 429.9" stroke="#7c7c7c" stroke-width="1.9" fill="none"/>
<path d="M790.1 31.3L1190.7 31.3" stroke="#4c4c4c" stroke-width="1.2" fill="none"/>
<path d="M790.1 429.8L1190.7 429.8" stroke="#808080" stroke-width="1.2" fill="none"/>
<g transform="translate(791.30 31.88) scale(1.5570 1.5578)" fill="none" stroke-width="1.04">
<path stroke="#0000ff" d="M105 179h1m-6 1h1m1 0h1m1 0h2m-6 1h3m1 0h1m-7 1h6m1 0h1m-9 1h8m1 0h1m-12 1h1m1 0h10m-15 1h1m1 0h12m-14 1h1m1 0h14m-18 1h1m1 0h16m-19 1h18m1 0h1m-22 1h21m-23 1h1m1 0h21m-23 1h20m1 0h1m-22 1h18m1 0h3m-24 1h24m-27 1h2m1 0h18m1 0h1m2 0h1m1 0h1m-29 1h21m2 0h1m1 0h1m-27 1h22m1 0h3m1 0h4m-33 1h20m1 0h2m1 0h2m1 0h1m1 0h1m-32 1h22m1 0h2m3 0h1m1 0h1m1 0h1m1 0h1m-34 1h17m1 0h3m1 0h1m5 0h1m1 0h4m-40 1h1m2 0h18m1 0h2m1 0h1m2 0h8m2 0h1m-38 1h19m1 0h2m2 0h5m1 0h1m1 0h1m2 0h1m-36 1h20m3 0h4m1 0h2m1 0h1m2 0h1m-39 1h1m1 0h19m1 0h5m4 0h4m1 0h1m4 0h1m-42 1h19m1 0h5m1 0h2m2 0h2m1 0h3m1 0h4m-41 1h16m4 0h2m4 0h2m1 0h1m1 0h1m2 0h1m2 0h4m-43 1h15m1 0h5m2 0h2m1 0h2m3 0h1m4 0h3m1 0h2m-43 1h14m1 0h9m1 0h1m1 0h1m1 0h1m1 0h1m1 0h1m1 0h1m2 0h1m1 0h2m3 0h1m-51 1h1m3 0h15m5 0h1m3 0h1m1 0h3m3 0h2m1 0h3m2 0h2m3 0h1m-49 1h16m1 0h1m2 0h1m3 0h2m1 0h1m1 0h5m2 0h1m1 0h1m1 0h2m2 0h4m-48 1h14m1 0h2m1 0h2m3 0h2m6 0h3m3 0h2m1 0h1m1 0h1m1 0h2m1 0h1m1 0h1m-52 1h14m1 0h2m1 0h2m1 0h1m2 0h2m1 0h1m5 0h1m2 0h2m1 0h1m3 0h2m6 0h1m-53 1h14m2 0h1m1 0h1m3 0h2m3 0h2m1 0h2m2 0h1m1 0h2m1 0h1m1 0h1m2 0h3m1 0h5m-56 1h13m1 0h1m6 0h1m6 0h1m5 0h1m4 0h3m4 0h1m1 0h1m1 0h3m-53 1h13m2 0h1m1 0h1m1 0h1m1 0h2m6 0h3m1 0h1m2 0h1m1 0h4m2 0h4m-50 1h14m6 0h1m1 0h1m2 0h2m5 0h3m1 0h4m2 0h1m3 0h4m2 0h2m1 0h1m-58 1h13m10 0h1m4 0h3m1 0h1m1 0h1m1 0h2m1 0h2m1 0h1m4 0h4m2 0h3m-57 1h12m1 0h1m11 0h1m1 0h4m5 0h6m1 0h3m2 0h2m1 0h2m2 0h3m-58 1h12m20 0h2m2 0h2m4 0h1m2 0h4m5 0h2m-58 1h11m3 0h1m6 0h1m2 0h3m8 0h1m1 0h1m4 0h1m7 0h1m4 0h1m6 0h1m-65 1h12m15 0h1m5 0h3m3 0h1m5 0h2m1 0h1m3 0h2m7 0h1m1 0h1m-65 1h11m18 0h1m4 0h1m3 0h1m1 0h1m2 0h2m5 0h1m1 0h1m3 0h1m4 0h2m-64 1h10m41 0h2m1 0h1m1 0h1m-59 1h10m12 0h1m5 0h1m19 0h1m2 0h1m4 0h1m5 0h1m-65 1h11m1 0h1m16 0h1m13 0h1m7 0h3m-55 1h8m1 0h1m36 0h1m-47 1h7m1 0h1m12 0h1m33 0h1m-58 1h9m-11 1h9m24 0h1m3 0h1m11 0h1m-52 1h10m14 0h1m-26 1h9m-10 1h9m-10 1h6m-8 1h6m1 0h1m45 0h1m-56 1h1m1 0h4m1 0h1m20 0h1m-29 1h4m-7 1h4m1 0h1m1 0h1m-7 1h2m2 0h1m-5 1h2m-6 1h1"/>
<path stroke="#0023ff" d="M99 183h2m-2 1h2m-3 1h6m-9 1h10m-11 1h11m-13 1h14m-16 1h13m-15 1h16m-17 1h14m1 0h3m-19 1h15m-17 1h16m-17 1h17m-19 1h16m-18 1h16m-17 1h16m-18 1h15m-16 1h14m-15 1h15m-17 1h13m-15 1h14m-15 1h14m-16 1h15m-16 1h14m-15 1h12m-14 1h11m-12 1h11m-13 1h11m-12 1h11m-12 1h11m-13 1h11m-12 1h11m-13 1h10m-12 1h10m-11 1h10m-11 1h9m-10 1h9m-10 1h8m-10 1h8m-10 1h9m-10 1h8m-9 1h7m-9 1h8m-9 1h6m-7 1h6m-6 1h5m-8 1h6m-8 1h6m-7 1h4m-5 1h4m-5 1h4m-6 1h3m-3 1h2"/>
<path stroke="#004bff" d="M99 185h1m-3 1h4m-6 1h6m2 0h1m-11 1h9m-11 1h11m-13 1h11m-12 1h11m-12 1h11m-13 1h12m-13 1h12m-15 1h14m-15 1h13m-14 1h13m-15 1h13m-15 1h14m-15 1h11m1 0h2m-15 1h10m-12 1h12m-14 1h13m-14 1h12m-14 1h11m-12 1h11m-12 1h10m-12 1h10m-11 1h10m-12 1h11m-12 1h10m-12 1h10m-11 1h9m-11 1h9m-10 1h9m-11 1h9m-10 1h9m-10 1h8m-9 1h8m-10 1h8m-9 1h7m-9 1h7m-7 1h5m-7 1h6m-8 1h6m-6 1h5m-6 1h5m-8 1h2m1 0h2m-6 1h3m-5 1h4m-4 1h2m-2 1h1"/>
<path stroke="#0078ff" d="M99 186h1m-3 1h4m-8 1h8m-9 1h8m-10 1h8m-9 1h7m-8 1h8m-10 1h10m-12 1h11m-13 1h12m-14 1h11m-12 1h11m-13 1h12m-14 1h13m-14 1h10m-11 1h10m-12 1h11m-13 1h11m-12 1h11m-13 1h10m-11 1h10m-11 1h9m-11 1h9m-10 1h9m-10 1h9m-11 1h9m-10 1h9m-11 1h8m-9 1h8m-10 1h8m-9 1h8m-9 1h7m-9 1h7m-7 1h5m-7 1h6m-8 1h7m-8 1h5m-6 1h5m-6 1h4m-6 1h4m-5 1h4m-4 1h2m-9 4h1"/>
<path stroke="#00a5ff" d="M98 187h2m-6 1h6m-7 1h5m-7 1h6m-7 1h5m-6 1h6m-9 1h8m-9 1h7m-10 1h9m-10 1h9m-11 1h10m-11 1h9m-11 1h9m-11 1h9m-10 1h9m-11 1h10m-11 1h9m-11 1h9m-10 1h9m-10 1h8m-10 1h8m-9 1h8m-10 1h8m-9 1h8m-9 1h7m-9 1h8m-9 1h7m-9 1h7m-8 1h7m-9 1h7m-8 1h6m-7 1h6m-7 1h5m-6 1h4m-7 1h5m-6 1h5m-5 1h3m-4 1h1m-4 1h2m-2 1h2"/>
<path stroke="#00d2ff" d="M94 189h3m-4 1h3m-6 1h5m-6 1h5m-7 1h5m-7 1h7m-9 1h7m-9 1h7m-8 1h7m-9 1h8m-10 1h8m-9 1h8m-10 1h9m-10 1h8m-10 1h9m-11 1h8m-9 1h8m-9 1h8m-10 1h8m-9 1h7m-9 1h8m-9 1h8m-9 1h7m-8 1h6m-8 1h6m-7 1h6m-8 1h6m-7 1h6m-8 1h6m-7 1h5m-5 1h3m-6 2h2m-4 1h2m-3 1h2"/>
<path stroke="#00faf5" d="M95 189h1m-2 1h1m-4 1h2m-3 1h3m-5 1h4m-6 1h5m-7 1h6m-8 1h5m-7 1h6m-7 1h6m-8 1h7m-9 1h7m-8 1h7m-9 1h8m-10 1h8m-9 1h7m-9 1h8m-9 1h7m-8 1h7m-9 1h7m-8 1h7m-8 1h6m-8 1h6m-7 1h5m-7 1h5m-6 1h5m-6 1h5m-7 1h5m-6 1h4m-5 1h3m-4 1h1m-6 3h1"/>
<path stroke="#00ffa0" d="M91 192h1m-3 1h2m-4 1h3m-5 1h3m-6 1h4m-6 1h6m-7 1h6m-8 1h6m-8 1h7m-8 1h7m-9 1h7m-9 1h8m-9 1h7m-9 1h7m-8 1h7m-8 1h6m-7 1h6m-8 1h6m-7 1h6m-7 1h5m-7 1h5m-6 1h4m-5 1h3m-5 1h4m-5 1h3m-4 1h2m-3 1h1"/>
<path stroke="#00ff32" d="M89 194h1m-7 2h3m-5 1h4m-6 1h5m-7 1h6m-8 1h7m-8 1h6m-7 1h6m-8 1h6m-8 1h7m-8 1h6m-8 1h7m-8 1h6m-7 1h5m-7 1h6m-7 1h5m-6 1h4m-5 1h3m-5 1h3m-4 1h3m-3 1h1m-3 1h1m-3 1h1"/>
<path stroke="#3cff00" d="M82 197h3m-5 1h3m-5 1h4m-6 1h5m-7 1h6m-7 1h5m-7 1h6m-7 1h5m-7 1h5m-6 1h5m-6 1h4m-5 1h4m-5 1h3m-5 1h3m-3 1h1"/>
<path stroke="#a0ff00" d="M79 199h2m-4 1h3m-5 1h4m-5 1h3m-5 1h4m-6 1h4m-5 1h4m-6 1h4m-5 1h4m-5 1h3m-3 1h2"/>
<path stroke="#f0fa00" d="M80 199h1m-4 1h3m-5 1h3m-4 1h3m-4 1h3m-5 1h3m-5 1h3m-4 1h3m-4 1h2m-3 1h2"/>
<path stroke="#ffc300" d="M78 200h1m-4 1h3m-4 1h3m-4 1h2m-4 1h2m-4 1h3m-4 1h3m-4 1h2m-3 1h2"/>
<path stroke="#ff7300" d="M78 200h1m-3 1h2m-4 1h3m-4 1h2m-4 1h2m-4 1h3m-4 1h3m-4 1h2m-3 1h1"/>
<path stroke="#ff2800" d="M76 201h1m-3 1h2m-3 1h2m-3 1h1m-3 1h1m-3 1h2m-3 1h1"/>
</g>
<path d="M780.5 428.6L791.3 428.6M780.5 322.8L791.3 322.8M780.5 217.0L791.3 217.0M780.5 111.2L791.3 111.2" stroke="#0a0a0a" stroke-width="3.0" fill="none"/>
<path d="M786.1 407.4L791.3 407.4M786.1 386.3L791.3 386.3M786.1 365.1L791.3 365.1M786.1 344.0L791.3 344.0M786.1 301.6L791.3 301.6M786.1 280.5L791.3 280.5M786.1 259.3L791.3 259.3M786.1 238.2L791.3 238.2M786.1 195.8L791.3 195.8M786.1 174.7L791.3 174.7M786.1 153.5L791.3 153.5M786.1 132.4L791.3 132.4M786.1 90.0L791.3 90.0M786.1 68.9L791.3 68.9M786.1 47.7L791.3 47.7" stroke="#0a0a0a" stroke-width="1.6" fill="none"/>
<text x="775.0" y="434.2" font-size="23.2" text-anchor="end">0</text>
<text x="773.8" y="328.7" font-size="23.2" text-anchor="end">500K</text>
<text x="775.0" y="223.4" font-size="23.2" text-anchor="end">1.0M</text>
<text x="775.0" y="119.5" font-size="23.2" text-anchor="end">1.5M</text>
<text x="669.5" y="436.4" font-size="23.2">FSC-H</text>
<path d="M704.5 514.0L704.5 442.8M698.1 450.0L704.5 443.1L710.9 450.0M686.0 497.7L758.2 497.7M751.0 491.3L757.9 497.7L751.0 504.1" stroke="#111" stroke-width="1.5" fill="none" stroke-linejoin="miter"/>
<text x="765.0" y="503.9" font-size="23.2">FSC-A</text>
<path d="M817.7 405L820.7 393.9L941.3 313.1L965.5 313.5L945.5 336.4L894.2 364.9L843.5 402.8Z" fill="none" stroke="#000" stroke-width="2.4" stroke-linejoin="miter"/>
<text x="936.0" y="291.4" font-size="23.2">Singlets</text>
<path d="M1137.8 344.6L1305.2 344.6M1293.8 335.2L1304.7 344.6L1293.8 354.0" stroke="#111" stroke-width="2.0" fill="none" stroke-linejoin="miter"/>
<path d="M1423.4 31.1L1423.4 429.9" stroke="#7c7c7c" stroke-width="1.9" fill="none"/>
<path d="M1822.5 31.1L1822.5 429.9" stroke="#7c7c7c" stroke-width="1.9" fill="none"/>
<path d="M1422.5 31.3L1823.4 31.3" stroke="#4c4c4c" stroke-width="1.2" fill="none"/>
<path d="M1422.5 429.8L1823.4 429.8" stroke="#808080" stroke-width="1.2" fill="none"/>
<g transform="translate(1423.70 31.88) scale(1.5582 1.5578)" fill="none" stroke-width="1.04">
<path stroke="#0000ff" d="M180 143h1m-12 3h1m25 0h1m-84 1h1m-6 1h1m1 0h1m3 0h2m3 0h2m71 0h1m-85 1h1m1 0h4m2 0h4m1 0h1m56 0h1m3 0h1m-76 1h1m3 0h1m1 0h4m4 0h1m2 0h1m60 0h1m-80 1h2m1 0h6m1 0h2m2 0h2m1 0h1m40 0h1m-62 1h1m2 0h1m2 0h1m1 0h5m5 0h1m56 0h1m1 0h1m14 0h1m-91 1h1m5 0h13m54 0h1m-79 1h1m5 0h1m2 0h1m1 0h5m1 0h3m1 0h2m-18 1h4m1 0h2m1 0h5m1 0h1m1 0h1m69 0h1m-99 1h1m11 0h1m1 0h1m1 0h4m1 0h2m1 0h4m1 0h1m28 0h1m10 0h1m4 0h1m2 0h1m6 0h1m7 0h1m5 0h1m-107 1h1m13 0h1m1 0h2m5 0h4m1 0h3m1 0h3m1 0h1m54 0h1m-85 1h1m4 0h1m1 0h1m7 0h1m1 0h5m1 0h7m1 0h1m63 0h1m-93 1h1m3 0h1m2 0h1m2 0h1m2 0h1m1 0h1m1 0h1m1 0h5m23 0h1m31 0h2m7 0h1m17 0h1m-114 1h2m2 0h1m1 0h1m1 0h1m1 0h1m1 0h1m5 0h4m4 0h5m80 0h1m-108 1h1m1 0h2m1 0h1m1 0h1m3 0h2m3 0h1m2 0h1m3 0h4m27 0h1m8 0h1m19 0h1m-87 1h1m1 0h1m1 0h3m2 0h13m1 0h1m1 0h3m3 0h2m15 0h1m21 0h1m16 0h2m1 0h1m-97 1h1m6 0h1m2 0h3m1 0h2m2 0h5m6 0h1m1 0h1m5 0h1m3 0h1m7 0h1m29 0h1m2 0h1m13 0h1m9 0h1m9 0h1m-141 1h1m22 0h1m3 0h1m2 0h17m1 0h3m1 0h1m3 0h1m1 0h1m27 0h1m1 0h1m10 0h1m10 0h1m28 0h1m-135 1h1m12 0h1m11 0h4m2 0h13m2 0h3m2 0h1m31 0h1m1 0h1m8 0h1m4 0h1m1 0h1m3 0h1m31 0h1m-154 1h1m29 0h1m1 0h2m2 0h4m1 0h5m1 0h5m1 0h5m1 0h4m2 0h2m1 0h2m3 0h2m15 0h1m11 0h1m8 0h1m7 0h1m2 0h1m2 0h1m14 0h1m2 0h1m-125 1h1m2 0h1m10 0h4m1 0h4m1 0h20m2 0h2m1 0h2m3 0h1m7 0h1m7 0h1m15 0h1m20 0h3m11 0h1m-188 1h1m34 0h1m22 0h1m4 0h1m8 0h1m1 0h1m5 0h5m1 0h33m1 0h3m2 0h1m14 0h1m6 0h1m8 0h1m4 0h1m3 0h1m5 0h1m2 0h1m5 0h1m12 0h1m-194 1h1m68 0h1m5 0h1m5 0h7m1 0h28m2 0h4m1 0h1m4 0h1m6 0h1m3 0h1m2 0h5m9 0h4m2 0h1m3 0h3m3 0h1m5 0h1m2 0h1m11 0h1m-195 1h1m42 0h1m4 0h1m14 0h1m2 0h1m4 0h1m1 0h1m4 0h5m1 0h1m1 0h29m1 0h1m2 0h2m1 0h2m1 0h4m3 0h1m1 0h1m1 0h1m2 0h1m5 0h1m1 0h2m2 0h2m1 0h1m2 0h3m4 0h1m3 0h4m3 0h1m1 0h2m-179 1h1m23 0h1m20 0h1m1 0h1m2 0h1m10 0h1m2 0h1m6 0h1m1 0h2m1 0h6m1 0h37m1 0h2m11 0h1m3 0h1m2 0h1m1 0h3m2 0h2m3 0h1m2 0h2m2 0h1m1 0h1m1 0h3m2 0h1m1 0h1m2 0h1m2 0h3m1 0h1m1 0h1m-184 1h1m48 0h1m3 0h1m10 0h1m3 0h1m3 0h4m1 0h2m1 0h42m2 0h2m2 0h3m1 0h2m1 0h3m3 0h2m1 0h1m1 0h1m2 0h1m1 0h1m2 0h1m2 0h3m1 0h1m1 0h1m2 0h4m1 0h6m2 0h1m2 0h1m3 0h1m2 0h1m-190 1h1m38 0h1m20 0h1m1 0h2m3 0h2m4 0h1m1 0h48m2 0h1m1 0h2m1 0h1m3 0h3m2 0h7m1 0h1m2 0h1m1 0h5m1 0h1m2 0h3m2 0h2m1 0h1m3 0h1m7 0h1m-182 1h1m40 0h1m8 0h1m12 0h1m3 0h1m1 0h1m2 0h5m1 0h2m1 0h37m1 0h2m2 0h4m2 0h1m1 0h4m2 0h5m1 0h10m5 0h4m2 0h3m1 0h1m1 0h1m2 0h2m1 0h1m5 0h1m1 0h1m-185 1h1m31 0h1m10 0h1m2 0h1m9 0h1m10 0h1m2 0h12m2 0h38m1 0h2m1 0h2m1 0h5m1 0h2m1 0h2m1 0h1m1 0h6m1 0h2m2 0h5m1 0h1m2 0h6m3 0h3m1 0h1m1 0h3m1 0h1m1 0h1m-185 1h1m32 0h1m8 0h1m1 0h1m2 0h2m18 0h1m1 0h2m1 0h4m1 0h1m1 0h40m1 0h1m1 0h5m1 0h1m2 0h4m1 0h5m1 0h3m1 0h6m1 0h1m1 0h5m1 0h1m1 0h1m2 0h1m1 0h1m1 0h5m3 0h2m3 0h2m2 0h3m1 0h1m-192 1h1m43 0h1m1 0h3m3 0h1m7 0h1m5 0h2m2 0h1m1 0h49m1 0h8m1 0h1m1 0h3m1 0h5m2 0h8m1 0h4m2 0h1m1 0h2m1 0h11m2 0h2m1 0h2m6 0h1m-189 1h1m40 0h1m10 0h1m8 0h3m6 0h65m1 0h1m1 0h7m2 0h8m1 0h1m1 0h2m1 0h4m2 0h4m1 0h5m5 0h3m-185 1h1m53 0h1m5 0h1m5 0h1m1 0h1m1 0h54m1 0h19m2 0h1m1 0h7m1 0h1m1 0h1m1 0h9m1 0h10m4 0h1m2 0h1m10 0h1m3 0h1m-203 1h1m32 0h1m19 0h1m2 0h2m1 0h1m2 0h4m1 0h60m2 0h6m2 0h5m1 0h1m2 0h3m1 0h2m2 0h1m1 0h5m2 0h6m1 0h3m1 0h4m1 0h3m1 0h1m1 0h1m6 0h1m-193 1h1m24 0h1m5 0h1m5 0h1m2 0h1m4 0h1m8 0h2m2 0h1m3 0h8m1 0h57m1 0h3m1 0h4m1 0h5m1 0h4m2 0h3m1 0h4m1 0h11m1 0h1m1 0h3m1 0h1m1 0h3m1 0h1m1 0h1m1 0h1m-188 1h1m33 0h1m5 0h1m1 0h1m1 0h3m1 0h1m4 0h1m3 0h3m2 0h1m2 0h1m1 0h61m1 0h2m1 0h5m1 0h2m1 0h1m2 0h6m1 0h1m1 0h1m2 0h2m1 0h5m1 0h1m1 0h3m1 0h8m1 0h2m2 0h1m1 0h1m-187 1h1m40 0h1m6 0h2m1 0h1m1 0h1m2 0h2m2 0h3m3 0h1m1 0h6m1 0h48m1 0h4m1 0h14m1 0h3m2 0h3m1 0h9m3 0h2m1 0h5m1 0h1m2 0h4m2 0h2m2 0h1m7 0h1m-196 1h1m17 0h1m8 0h2m4 0h1m2 0h1m5 0h1m3 0h1m2 0h1m5 0h2m2 0h1m1 0h1m1 0h1m1 0h69m1 0h15m1 0h3m2 0h2m1 0h4m1 0h3m1 0h5m2 0h7m1 0h1m1 0h2m3 0h1m-191 1h1m20 0h1m7 0h2m1 0h1m5 0h2m1 0h1m6 0h1m3 0h2m2 0h3m1 0h1m1 0h1m1 0h62m1 0h5m1 0h4m1 0h13m3 0h8m1 0h3m1 0h8m1 0h2m1 0h2m1 0h2m1 0h2m6 0h1m-194 1h1m11 0h1m25 0h1m7 0h2m2 0h1m4 0h1m2 0h1m1 0h1m1 0h3m1 0h1m1 0h67m1 0h12m2 0h2m1 0h1m1 0h1m1 0h2m1 0h6m1 0h12m1 0h3m1 0h3m2 0h1m-190 1h1m18 0h1m11 0h1m10 0h1m3 0h2m5 0h1m1 0h1m3 0h2m3 0h66m1 0h12m1 0h8m1 0h4m2 0h1m1 0h1m2 0h1m2 0h7m2 0h5m1 0h2m2 0h2m-188 1h1m26 0h2m7 0h4m9 0h2m2 0h1m1 0h2m2 0h1m1 0h5m1 0h66m1 0h13m2 0h5m1 0h3m1 0h2m1 0h4m1 0h3m2 0h6m1 0h1m1 0h2m1 0h1m1 0h1m1 0h1m2 0h1m-192 1h1m14 0h1m17 0h1m5 0h1m2 0h1m5 0h2m4 0h1m1 0h5m1 0h6m1 0h1m1 0h55m1 0h11m1 0h14m1 0h1m2 0h3m1 0h7m3 0h2m1 0h3m2 0h1m1 0h5m2 0h2m-190 1h1m24 0h2m11 0h1m9 0h2m1 0h1m1 0h1m2 0h3m2 0h2m1 0h81m1 0h8m1 0h1m2 0h1m1 0h4m1 0h1m1 0h3m2 0h11m1 0h1m1 0h2m4 0h1m-193 1h1m19 0h1m14 0h2m9 0h1m5 0h1m1 0h1m1 0h3m1 0h2m2 0h58m1 0h20m1 0h7m1 0h4m1 0h15m2 0h6m1 0h2m1 0h1m3 0h1m-189 1h1m40 0h1m1 0h1m7 0h1m6 0h2m1 0h90m1 0h1m1 0h8m1 0h1m1 0h10m1 0h3m1 0h2m1 0h1m2 0h1m3 0h1m-191 1h1m20 0h1m5 0h1m8 0h1m1 0h2m4 0h3m1 0h1m5 0h2m1 0h1m2 0h87m1 0h4m1 0h6m2 0h3m1 0h2m1 0h2m2 0h8m2 0h3m1 0h1m3 0h1m-191 1h1m10 0h1m19 0h1m4 0h2m1 0h1m5 0h3m1 0h1m1 0h3m1 0h1m1 0h1m1 0h83m1 0h12m1 0h3m2 0h2m1 0h7m1 0h1m1 0h6m1 0h3m6 0h1m-191 1h1m17 0h1m22 0h1m3 0h3m4 0h2m4 0h1m1 0h68m1 0h19m1 0h1m1 0h4m2 0h4m1 0h3m1 0h5m1 0h2m1 0h3m2 0h4m1 0h1m5 0h1m3 0h1m1 0h1m-198 1h1m45 0h1m2 0h3m2 0h1m1 0h1m1 0h86m1 0h1m1 0h8m1 0h1m1 0h7m2 0h3m2 0h2m1 0h9m1 0h1m-186 1h1m26 0h1m4 0h1m9 0h1m8 0h1m1 0h1m1 0h3m1 0h2m1 0h81m1 0h10m1 0h1m2 0h1m1 0h4m3 0h1m2 0h8m1 0h2m2 0h2m-185 1h1m24 0h1m8 0h1m2 0h1m8 0h1m2 0h1m1 0h1m1 0h1m2 0h5m1 0h2m1 0h81m1 0h2m4 0h3m1 0h2m1 0h4m1 0h2m2 0h3m1 0h2m1 0h1m1 0h2m1 0h1m4 0h2m-188 1h1m34 0h1m7 0h1m1 0h1m1 0h2m5 0h1m4 0h2m1 0h1m1 0h3m1 0h82m1 0h3m1 0h2m1 0h2m1 0h13m1 0h4m1 0h2m1 0h2m2 0h2m-189 1h1m57 0h88m1 0h2m2 0h8m1 0h4m1 0h2m1 0h2m1 0h3m1 0h4m1 0h5m-185 1h1m45 0h1m1 0h1m1 0h2m1 0h1m3 0h3m1 0h68m1 0h21m1 0h1m1 0h1m1 0h8m1 0h11m3 0h7m5 0h1m-192 1h1m41 0h2m5 0h1m6 0h1m4 0h57m1 0h23m2 0h1m1 0h1m2 0h2m2 0h3m2 0h2m1 0h1m1 0h4m2 0h3m2 0h10m2 0h1m-187 1h1m29 0h1m14 0h1m9 0h2m1 0h3m1 0h1m1 0h1m1 0h74m1 0h13m1 0h2m1 0h1m1 0h3m3 0h4m1 0h2m1 0h3m1 0h4m1 0h1m1 0h1m1 0h2m-189 1h1m48 0h1m5 0h1m1 0h3m1 0h1m2 0h5m1 0h65m1 0h10m3 0h1m2 0h4m3 0h2m2 0h4m1 0h1m1 0h5m1 0h2m2 0h3m2 0h1m-186 1h1m40 0h1m1 0h1m7 0h1m1 0h1m2 0h2m1 0h5m1 0h61m1 0h7m1 0h16m1 0h3m2 0h8m3 0h8m1 0h2m2 0h2m1 0h2m-186 1h1m33 0h1m1 0h1m1 0h1m1 0h1m5 0h2m9 0h1m3 0h66m1 0h14m1 0h10m1 0h3m1 0h1m1 0h5m1 0h5m1 0h2m1 0h4m7 0h1m1 0h1m-189 1h1m50 0h1m1 0h1m4 0h2m1 0h4m1 0h58m1 0h22m1 0h2m1 0h2m1 0h1m1 0h1m1 0h1m1 0h1m1 0h4m1 0h4m1 0h2m1 0h3m1 0h1m4 0h3m-187 1h1m24 0h1m11 0h1m4 0h1m2 0h1m12 0h1m3 0h1m2 0h1m1 0h2m1 0h3m1 0h45m1 0h17m1 0h7m1 0h1m1 0h11m2 0h1m1 0h1m2 0h3m1 0h7m2 0h1m1 0h1m2 0h2m-186 1h1m25 0h1m23 0h1m3 0h2m1 0h1m1 0h1m3 0h2m1 0h60m1 0h2m1 0h4m1 0h1m1 0h3m1 0h8m1 0h2m1 0h9m1 0h1m1 0h1m1 0h4m1 0h3m2 0h5m-182 1h1m27 0h1m13 0h1m12 0h1m7 0h5m1 0h57m1 0h2m2 0h1m1 0h8m1 0h4m2 0h1m1 0h1m1 0h1m1 0h2m1 0h2m1 0h4m1 0h2m1 0h1m2 0h1m1 0h2m1 0h3m1 0h1m10 0h1m-192 1h1m45 0h1m1 0h1m13 0h1m1 0h2m2 0h58m1 0h3m1 0h4m1 0h1m1 0h2m1 0h2m1 0h3m1 0h3m3 0h1m1 0h1m1 0h2m4 0h3m1 0h1m3 0h2m1 0h2m3 0h1m-181 1h1m51 0h1m1 0h2m4 0h1m1 0h1m4 0h1m3 0h1m1 0h51m1 0h1m1 0h1m1 0h2m1 0h3m2 0h1m1 0h1m2 0h1m1 0h2m3 0h1m1 0h1m3 0h1m1 0h2m2 0h5m4 0h1m2 0h1m1 0h1m2 0h4m1 0h1m-184 1h1m56 0h1m2 0h1m6 0h1m1 0h1m1 0h3m2 0h46m2 0h8m1 0h1m2 0h1m1 0h3m3 0h1m3 0h1m3 0h1m4 0h2m3 0h1m2 0h2m2 0h2m2 0h3m3 0h1m5 0h1m9 0h1m-196 1h1m49 0h2m7 0h2m2 0h1m1 0h1m7 0h4m1 0h37m1 0h12m2 0h1m5 0h3m1 0h1m1 0h2m2 0h5m3 0h1m1 0h4m3 0h3m1 0h1m1 0h1m2 0h1m1 0h1m4 0h2m-181 1h1m55 0h1m2 0h1m10 0h3m2 0h1m1 0h1m1 0h38m1 0h5m3 0h1m1 0h2m1 0h1m6 0h1m2 0h3m2 0h1m5 0h1m2 0h1m1 0h1m3 0h2m1 0h1m1 0h1m1 0h1m1 0h1m3 0h1m2 0h2m-179 1h1m37 0h1m7 0h1m6 0h1m4 0h1m3 0h1m10 0h1m2 0h45m1 0h4m2 0h1m2 0h1m2 0h1m2 0h2m4 0h2m6 0h1m27 0h1m1 0h1m11 0h1m-194 1h1m29 0h1m5 0h1m16 0h1m9 0h1m1 0h1m3 0h2m3 0h2m1 0h1m1 0h44m3 0h1m5 0h1m1 0h1m2 0h1m9 0h1m5 0h3m1 0h1m2 0h1m2 0h2m9 0h1m1 0h1m8 0h1m-186 1h1m49 0h1m5 0h1m2 0h1m4 0h1m6 0h1m1 0h1m1 0h1m1 0h2m1 0h43m3 0h2m1 0h1m3 0h1m3 0h1m4 0h1m3 0h1m1 0h1m7 0h2m4 0h1m1 0h1m4 0h1m5 0h1m7 0h1m-184 1h1m50 0h1m2 0h1m2 0h1m4 0h2m2 0h2m3 0h1m1 0h2m1 0h2m1 0h45m1 0h1m2 0h1m3 0h1m12 0h1m4 0h1m4 0h1m1 0h1m4 0h1m5 0h1m3 0h1m1 0h1m-175 1h1m39 0h1m15 0h1m10 0h1m2 0h3m3 0h38m1 0h1m1 0h1m2 0h3m3 0h2m13 0h1m15 0h1m4 0h1m13 0h1m-177 1h1m36 0h1m33 0h1m2 0h1m1 0h2m1 0h3m2 0h31m1 0h1m2 0h4m2 0h1m2 0h3m2 0h2m10 0h1m3 0h1m5 0h1m1 0h1m5 0h1m8 0h1m4 0h1m-178 1h1m41 0h1m16 0h1m14 0h1m1 0h1m6 0h5m1 0h26m1 0h2m1 0h3m2 0h1m4 0h1m12 0h1m17 0h2m2 0h1m2 0h1m3 0h1m-172 1h1m39 0h1m1 0h1m3 0h1m4 0h1m5 0h2m5 0h1m13 0h1m2 0h1m1 0h2m1 0h27m1 0h5m2 0h3m1 0h1m8 0h1m41 0h1m-177 1h1m57 0h1m1 0h1m2 0h1m12 0h1m1 0h2m1 0h4m3 0h23m1 0h4m2 0h2m3 0h1m5 0h1m-130 1h1m72 0h1m7 0h4m2 0h25m3 0h3m3 0h1m34 0h1m3 0h1m8 0h1m-104 1h1m4 0h1m13 0h2m2 0h17m2 0h3m1 0h1m1 0h2m4 0h1m1 0h2m20 0h1m6 0h1m8 0h2m3 0h1m4 0h1m-130 1h1m33 0h1m5 0h4m2 0h3m1 0h1m1 0h17m1 0h2m6 0h1m1 0h1m50 0h1m8 0h1m-182 1h1m78 0h1m6 0h1m2 0h3m1 0h7m2 0h1m1 0h5m1 0h1m72 0h1m-110 1h1m5 0h1m7 0h2m1 0h1m1 0h1m2 0h4m1 0h2m1 0h1m1 0h2m2 0h1m5 0h1m1 0h1m31 0h1m24 0h1m-109 1h1m14 0h1m3 0h3m2 0h2m2 0h1m2 0h2m1 0h1m2 0h1m2 0h1m1 0h1m70 0h1m-106 1h1m19 0h1m2 0h5m2 0h1m2 0h1m2 0h1m34 0h1m12 0h1m3 0h1m-90 1h1m7 0h1m11 0h1m1 0h4m2 0h4m6 0h1m56 0h1m-81 1h2m19 0h1m57 0h1m-81 1h1m3 0h1m12 0h1m59 0h1m-102 2h1m94 2h1m-7 3h1"/>
<path stroke="#0023ff" d="M101 166h1m-4 1h7m-11 1h14m-15 1h16m-18 1h18m-20 1h22m-22 1h23m-24 1h27m-28 1h29m-31 1h32m-32 1h32m-33 1h33m-34 1h35m-34 1h35m-38 1h40m-41 1h39m-42 1h2m1 0h39m-42 1h2m1 0h40m-120 1h1m76 0h43m-120 1h1m74 0h44m-119 1h1m73 0h44m-118 1h1m72 0h46m-119 1h1m72 0h46m-119 1h1m72 0h47m-120 1h1m72 0h47m-120 1h1m72 0h49m-122 1h1m72 0h49m-122 1h1m72 0h48m5 0h3m-129 1h1m71 0h48m6 0h2m-128 1h1m71 0h47m3 0h3m-125 1h1m70 0h49m1 0h5m-126 1h1m71 0h2m1 0h50m-125 1h1m74 0h45m1 0h1m-122 1h1m68 0h1m3 0h4m1 0h42m-120 1h1m72 0h47m-120 1h1m71 0h4m1 0h44m-121 1h1m72 0h45m1 0h2m-121 1h1m74 0h45m-45 1h44m-43 1h2m1 0h39m-38 1h37m-37 1h36m-35 1h35m-35 1h36m-35 1h35m-35 1h2m1 0h30m-32 1h1m1 0h29m-30 1h30m-29 1h29m-29 1h29m-28 1h27m-26 1h26m-26 1h26m-25 1h23m-23 1h22m-20 1h19m-17 1h16m-13 1h11m-10 1h2m1 0h3m-2 1h1"/>
<path stroke="#004bff" d="M99 168h1m1 0h4m-7 1h10m-12 1h13m-18 1h3m1 0h15m-19 1h21m-22 1h23m-22 1h23m-26 1h27m-29 1h30m-31 1h31m-31 1h32m-32 1h32m-32 1h32m-33 1h33m-33 1h34m-36 1h37m-37 1h36m-118 1h1m76 0h5m1 0h34m-117 1h1m77 0h4m1 0h34m-117 1h1m77 0h39m-117 1h1m73 0h1m4 0h38m-117 1h1m73 0h4m1 0h39m-118 1h1m74 0h2m3 0h38m-118 1h1m75 0h3m1 0h38m-118 1h1m75 0h43m-119 1h1m74 0h1m1 0h42m-119 1h1m77 0h41m-119 1h1m77 0h41m-119 1h1m78 0h40m-119 1h1m78 0h40m-119 1h1m78 0h39m-118 1h1m78 0h39m-118 1h1m79 0h39m-119 1h1m80 0h37m-118 1h1m81 0h36m-118 1h1m81 0h35m-35 1h34m-33 1h33m-33 1h33m-34 1h33m-32 1h31m-27 1h26m-26 1h27m-27 1h26m-26 1h26m-26 1h26m-26 1h26m-26 1h26m-25 1h24m-24 1h24m-24 1h23m-22 1h21m-19 1h18m-17 1h16m-13 1h4m4 0h3m-10 1h1"/>
<path stroke="#0078ff" d="M103 169h2m-6 1h8m-9 1h11m-16 1h1m1 0h16m-19 1h20m-20 1h21m-21 1h22m-26 1h26m-25 1h26m-26 1h26m-28 1h28m-29 1h30m-30 1h30m-31 1h31m-32 1h33m-33 1h32m-116 1h1m84 0h31m-116 1h1m83 0h32m-116 1h1m83 0h32m-116 1h1m83 0h32m-116 1h1m79 0h2m2 0h32m-116 1h1m80 0h36m-117 1h1m81 0h35m-117 1h1m81 0h35m-117 1h1m81 0h36m-118 1h1m80 0h37m-118 1h1m79 0h38m-118 1h1m79 0h38m-118 1h1m79 0h38m-118 1h1m79 0h37m-117 1h1m79 0h37m-117 1h1m81 0h35m-117 1h1m81 0h2m2 0h30m-116 1h1m82 0h32m-32 1h31m-30 1h30m-29 1h30m-29 1h29m-29 1h28m-26 1h25m-24 1h24m-24 1h24m-24 1h24m-24 1h23m-23 1h23m-23 1h23m-23 1h18m2 0h2m-21 1h21m-20 1h19m-18 1h16m-14 1h14m-15 1h7m2 0h6m-12 1h2m5 0h2m-9 1h1"/>
<path stroke="#00a5ff" d="M100 170h1m1 0h3m-6 1h7m-8 1h11m-14 1h16m-16 1h17m-18 1h18m-20 1h21m-23 1h24m-24 1h24m-23 1h23m-23 1h24m-26 1h26m-28 1h28m-28 1h28m-29 1h28m-27 1h27m-114 1h1m88 0h26m-115 1h1m87 0h27m-115 1h1m87 0h27m-115 1h1m85 0h29m-115 1h1m84 0h30m-115 1h1m85 0h29m-115 1h1m85 0h31m-117 1h1m85 0h31m-117 1h1m83 0h33m-117 1h1m84 0h30m-115 1h1m84 0h30m-115 1h1m84 0h31m-116 1h1m85 0h30m-116 1h1m85 0h30m-116 1h1m86 0h28m-115 1h1m87 0h26m-114 1h1m87 0h25m-25 1h25m-25 1h25m-24 1h25m-26 1h26m-26 1h24m-20 1h20m-19 1h19m-22 1h22m-22 1h22m-22 1h21m-21 1h1m1 0h15m1 0h3m-18 1h13m-12 1h9m1 0h2m-11 1h8m-8 1h12m-12 1h3m5 0h3m-3 1h1"/>
<path stroke="#00d2ff" d="M102 171h2m-5 1h9m-11 1h13m-14 1h15m-16 1h17m-18 1h18m-20 1h21m-21 1h21m-21 1h22m-22 1h22m-22 1h22m-25 1h25m-26 1h25m-24 1h24m-24 1h25m-114 1h1m90 0h23m-114 1h1m90 0h24m-115 1h1m88 0h26m-115 1h1m89 0h24m-114 1h1m88 0h25m-114 1h1m86 0h27m-114 1h1m86 0h27m-114 1h1m87 0h1m1 0h25m-115 1h1m86 0h28m-115 1h1m86 0h27m-114 1h1m86 0h27m-114 1h1m87 0h27m-115 1h1m87 0h27m-115 1h1m87 0h26m-114 1h1m88 0h25m-114 1h1m88 0h25m-25 1h24m-23 1h23m-22 1h22m-22 1h22m-21 1h21m-20 1h18m-18 1h18m-17 1h15m-15 1h13m-16 1h1m2 0h13m-13 1h13m-12 1h8m1 0h2m-11 1h7m-7 1h4m1 1h1"/>
<path stroke="#00faf5" d="M100 172h5m-6 1h9m-11 1h13m-14 1h14m-15 1h17m-19 1h19m-20 1h20m-19 1h19m-18 1h18m-18 1h19m-23 1h23m-24 1h24m-23 1h23m-22 1h22m-21 1h21m-113 1h1m91 0h22m-114 1h1m91 0h22m-114 1h1m90 0h23m-114 1h1m90 0h22m-22 1h22m-113 1h1m90 0h22m-113 1h1m91 0h22m-114 1h1m90 0h22m-113 1h1m89 0h23m-113 1h1m88 0h24m-113 1h1m88 0h25m-114 1h1m89 0h24m-114 1h1m88 0h25m-114 1h1m89 0h23m-23 1h23m-20 1h19m-18 1h18m-18 1h18m-18 1h13m1 0h3m-17 1h13m-12 1h12m-12 1h11m-10 1h10m-10 1h4m2 0h4m-9 1h3m1 0h3m1 0h1m-9 1h5m-6 1h4m-4 1h3"/>
<path stroke="#00ffa0" d="M100 173h3m1 0h1m1 0h1m-9 1h10m-11 1h12m-13 1h14m-15 1h16m-18 1h18m-18 1h18m-17 1h17m-17 1h18m-18 1h18m-21 1h1m1 0h19m-21 1h1m1 0h19m-19 1h19m-19 1h18m-18 1h19m-19 1h20m-20 1h20m-21 1h20m-20 1h20m-20 1h21m-113 1h1m91 0h21m-113 1h1m91 0h21m-113 1h1m91 0h20m-112 1h1m90 0h21m-112 1h1m91 0h21m-22 1h22m-22 1h22m-23 1h23m-22 1h21m-18 1h18m-17 1h16m-16 1h15m-15 1h11m-10 1h9m-9 1h4m1 0h4m-9 1h4m-3 1h2"/>
<path stroke="#00ff32" d="M101 173h1m-4 1h9m-9 1h10m-11 1h12m-13 1h15m-15 1h15m-15 1h14m-15 1h15m-15 1h15m-16 1h17m-17 1h17m-17 1h17m-17 1h17m-18 1h17m-17 1h18m-18 1h19m-18 1h18m-18 1h17m-19 1h19m-19 1h20m-19 1h19m-19 1h19m-20 1h20m-20 1h20m-19 1h19m-19 1h19m-20 1h19m-19 1h19m-17 1h16m-15 1h15m-14 1h14m-14 1h10m-10 1h9m-7 1h7m-8 1h3"/>
<path stroke="#3cff00" d="M100 175h2m-3 1h7m-8 1h8m-8 1h8m-8 1h9m-10 1h11m-11 1h11m-12 1h13m-14 1h15m-14 1h13m-13 1h12m-12 1h12m-11 1h11m-10 1h10m-10 1h11m-12 1h13m-14 1h14m-15 1h15m-15 1h16m-17 1h17m-17 1h17m-18 1h18m-17 1h17m-16 1h15m-15 1h14m-12 1h12m-12 1h12m-12 1h11m-10 1h7m-5 1h1"/>
<path stroke="#a0ff00" d="M102 178h3m-5 1h6m-7 1h8m-8 1h8m-7 1h6m-7 1h7m-7 1h7m-7 1h8m-8 1h8m-6 1h6m-6 1h4m-4 1h4m-6 1h9m-10 1h10m-11 1h11m-12 1h12m-12 1h14m-15 1h14m-13 1h14m-14 1h14m-14 1h13m-12 1h11m-10 1h10m-9 1h8m-4 1h2"/>
<path stroke="#f0fa00" d="M103 178h1m-4 1h5m-4 1h5m-6 1h1m1 0h4m-6 1h5m-5 1h3m1 0h1m-5 1h4m1 0h1m-6 1h5m-4 1h4m-3 1h2m-2 1h2m-2 1h1m-4 1h2m2 0h1m2 0h1m-9 1h10m-11 1h11m-11 1h10m-9 1h9m-9 1h8m-9 1h12m-12 1h12m-12 1h12m-11 1h10m-8 1h6m-5 1h5"/>
<path stroke="#ffc300" d="M103 178h1m-1 1h2m-1 1h1m-3 1h1m2 0h1m-5 3h2m-2 1h3m-5 6h2m1 0h2m1 0h2m-9 1h9m-8 1h8m-8 1h7m-8 1h8m-8 1h9m-9 1h10m-10 1h10m-9 1h8m-7 1h6m-3 1h2"/>
<path stroke="#ff7300" d="M104 180h1m-6 11h2m-2 1h2m2 0h1m2 0h1m-8 1h7m-6 1h6m-7 1h6m-7 1h7m-7 1h10m-9 1h8m-6 1h6m-7 1h5m-1 1h1"/>
<path stroke="#ff2800" d="M99 192h2m-1 1h2m1 0h2m-5 1h6m-7 1h6m-7 1h7m-7 1h8m1 0h1m-8 1h7m-6 1h5m-5 1h4"/>
</g>
<path d="M1412.9 428.6L1423.7 428.6M1412.9 335.6L1423.7 335.6M1412.9 242.6L1423.7 242.6M1412.9 149.6L1423.7 149.6M1412.9 56.6L1423.7 56.6" stroke="#0a0a0a" stroke-width="3.0" fill="none"/>
<path d="M1418.7 397.6L1423.7 397.6M1418.7 366.6L1423.7 366.6M1418.7 304.6L1423.7 304.6M1418.7 273.6L1423.7 273.6M1418.7 211.6L1423.7 211.6M1418.7 180.6L1423.7 180.6M1418.7 118.6L1423.7 118.6M1418.7 87.6L1423.7 87.6" stroke="#0a0a0a" stroke-width="1.6" fill="none"/>
<text x="1407.6" y="438.4" font-size="23.2" text-anchor="end">0</text>
<text x="1410.0" y="345.1" font-size="23.2" text-anchor="end">300K</text>
<text x="1410.0" y="251.8" font-size="23.2" text-anchor="end">600K</text>
<text x="1410.0" y="158.5" font-size="23.2" text-anchor="end">900K</text>
<text x="1409.4" y="65.2" font-size="23.2" text-anchor="end">1.2M</text>
<path d="M1453.1 429.9L1453.1 440.9M1512.3 429.9L1512.3 440.9M1571.5 429.9L1571.5 440.9M1630.7 429.9L1630.7 440.9M1689.9 429.9L1689.9 440.9M1749.1 429.9L1749.1 440.9M1808.3 429.9L1808.3 440.9" stroke="#0a0a0a" stroke-width="3.0" fill="none"/>
<path d="M1435.3 429.9L1435.3 437.9M1494.5 429.9L1494.5 437.9M1553.7 429.9L1553.7 437.9M1612.9 429.9L1612.9 437.9M1672.1 429.9L1672.1 437.9M1731.3 429.9L1731.3 437.9M1790.5 429.9L1790.5 437.9" stroke="#0a0a0a" stroke-width="2.2" fill="none"/>
<path d="M1429.5 429.9L1429.5 434.9M1440.0 429.9L1440.0 434.9M1443.9 429.9L1443.9 434.9M1447.4 429.9L1447.4 434.9M1450.4 429.9L1450.4 434.9M1470.9 429.9L1470.9 434.9M1481.3 429.9L1481.3 434.9M1488.7 429.9L1488.7 434.9M1499.2 429.9L1499.2 434.9M1503.1 429.9L1503.1 434.9M1506.6 429.9L1506.6 434.9M1509.6 429.9L1509.6 434.9M1530.1 429.9L1530.1 434.9M1540.5 429.9L1540.5 434.9M1547.9 429.9L1547.9 434.9M1558.4 429.9L1558.4 434.9M1562.3 429.9L1562.3 434.9M1565.8 429.9L1565.8 434.9M1568.8 429.9L1568.8 434.9M1589.3 429.9L1589.3 434.9M1599.7 429.9L1599.7 434.9M1607.1 429.9L1607.1 434.9M1617.6 429.9L1617.6 434.9M1621.5 429.9L1621.5 434.9M1625.0 429.9L1625.0 434.9M1628.0 429.9L1628.0 434.9M1648.5 429.9L1648.5 434.9M1658.9 429.9L1658.9 434.9M1666.3 429.9L1666.3 434.9M1676.8 429.9L1676.8 434.9M1680.7 429.9L1680.7 434.9M1684.2 429.9L1684.2 434.9M1687.2 429.9L1687.2 434.9M1707.7 429.9L1707.7 434.9M1718.1 429.9L1718.1 434.9M1725.5 429.9L1725.5 434.9M1736.0 429.9L1736.0 434.9M1739.9 429.9L1739.9 434.9M1743.4 429.9L1743.4 434.9M1746.4 429.9L1746.4 434.9M1766.9 429.9L1766.9 434.9M1777.3 429.9L1777.3 434.9M1784.7 429.9L1784.7 434.9M1795.2 429.9L1795.2 434.9M1799.1 429.9L1799.1 434.9M1802.6 429.9L1802.6 434.9M1805.6 429.9L1805.6 434.9" stroke="#0a0a0a" stroke-width="1.6" fill="none"/>
<text x="1443.6" y="467.0" font-size="23.2">10<tspan dy="-11.1" dx="-0.8" font-size="20.2">1</tspan></text>
<text x="1559.9" y="467.0" font-size="23.2">10<tspan dy="-11.1" dx="-2.4" font-size="20.2">3</tspan></text>
<text x="1680.4" y="467.0" font-size="23.2">10<tspan dy="-11.1" dx="-2.4" font-size="20.2">5</tspan></text>
<text x="1789.2" y="467.0" font-size="23.2">10<tspan dy="-11.1" dx="-2.4" font-size="20.2">7</tspan></text>
<text x="1304.5" y="438.8" font-size="23.2">SSC-A</text>
<path d="M1340.0 516.7L1340.0 445.4M1333.6 452.6L1340.0 445.7L1346.4 452.6M1322.1 500.6L1393.9 500.6M1386.7 494.2L1393.6 500.6L1386.7 507.0" stroke="#111" stroke-width="1.5" fill="none" stroke-linejoin="miter"/>
<text x="1399.0" y="506.6" font-size="23.2">Thiazole Orange</text>
<rect x="1643.0" y="254.2" width="119.2" height="146.9" fill="none" stroke="#000" stroke-width="2.2"/>
<text x="1635.0" y="234.0" font-size="23.2">Reticulocytes</text>
<path d="M125.1 607.5L125.1 949.2" stroke="#707070" stroke-width="1.9" fill="none"/>
<path d="M467.5 607.5L467.5 949.2" stroke="#444" stroke-width="1.0" fill="none"/>
<path d="M124.2 607.5L468.0 607.5" stroke="#444" stroke-width="1.0" fill="none"/>
<path d="M124.2 949.4L468.0 949.4" stroke="#444" stroke-width="1.3" fill="none"/>
<g transform="translate(125.00 608.17) scale(1.3371 1.3348)" fill="none" stroke-width="1.04">
<path stroke="#0000ff" d="M197 142h1m-56 2h1m-33 2h2m61 0h1m16 0h1m-80 1h2m2 0h2m-13 1h1m3 0h2m1 0h1m1 0h1m4 0h1m63 0h1m-78 1h1m1 0h1m1 0h8m1 0h2m-30 1h1m14 0h1m1 0h3m3 0h8m-19 1h1m2 0h10m3 0h1m4 0h1m52 0h1m1 0h1m2 0h1m-79 1h1m1 0h3m2 0h2m1 0h2m1 0h4m1 0h1m60 0h1m3 0h1m2 0h1m-82 1h5m2 0h2m1 0h2m1 0h1m53 0h1m-84 1h1m14 0h7m1 0h2m1 0h3m1 0h1m65 0h1m5 0h1m5 0h1m-100 1h1m3 0h9m3 0h1m1 0h1m-25 1h1m4 0h1m3 0h1m2 0h3m1 0h1m1 0h1m1 0h2m1 0h1m29 0h1m20 0h1m1 0h1m22 0h1m-111 1h1m2 0h2m8 0h1m1 0h1m8 0h4m1 0h5m2 0h2m53 0h1m-92 1h1m7 0h1m4 0h2m2 0h1m1 0h1m2 0h1m1 0h1m5 0h1m1 0h3m60 0h1m2 0h1m4 0h1m-104 1h1m8 0h1m2 0h1m4 0h2m2 0h3m1 0h5m1 0h2m1 0h1m48 0h1m19 0h1m6 0h1m-113 1h1m12 0h3m4 0h2m1 0h1m4 0h1m3 0h1m1 0h1m1 0h1m58 0h1m-100 1h1m2 0h1m4 0h2m2 0h1m3 0h3m2 0h2m1 0h1m1 0h2m1 0h1m2 0h2m1 0h1m1 0h1m39 0h1m22 0h1m1 0h1m-181 1h1m67 0h1m8 0h1m5 0h2m1 0h2m2 0h1m1 0h3m1 0h6m1 0h2m1 0h2m2 0h3m1 0h1m7 0h2m10 0h1m7 0h1m3 0h2m5 0h1m3 0h2m12 0h1m8 0h1m-181 1h1m61 0h1m21 0h1m6 0h4m1 0h4m1 0h3m2 0h1m1 0h1m2 0h1m1 0h1m1 0h1m6 0h1m8 0h1m8 0h1m22 0h1m14 0h1m18 0h1m-198 1h1m47 0h1m10 0h1m14 0h1m2 0h2m5 0h2m1 0h14m1 0h5m1 0h1m1 0h1m1 0h3m3 0h1m1 0h1m7 0h1m11 0h1m11 0h1m17 0h1m2 0h3m2 0h1m23 0h1m-203 1h1m74 0h2m5 0h1m1 0h3m2 0h1m1 0h5m1 0h14m2 0h2m9 0h1m11 0h1m3 0h1m6 0h1m2 0h1m3 0h1m3 0h1m5 0h3m1 0h1m4 0h1m9 0h1m1 0h1m2 0h1m-189 1h1m53 0h1m16 0h1m2 0h1m3 0h2m1 0h3m1 0h27m1 0h4m2 0h1m3 0h4m15 0h1m6 0h1m9 0h2m4 0h1m7 0h1m2 0h1m2 0h1m-180 1h1m45 0h1m19 0h1m2 0h1m4 0h1m3 0h1m1 0h1m2 0h2m1 0h32m1 0h1m2 0h2m2 0h1m13 0h1m1 0h1m7 0h1m1 0h1m3 0h2m1 0h2m2 0h1m6 0h2m1 0h1m-174 1h1m48 0h1m8 0h1m1 0h1m10 0h2m1 0h1m1 0h2m2 0h1m1 0h32m2 0h2m2 0h1m3 0h1m1 0h1m4 0h1m6 0h1m2 0h2m11 0h1m2 0h2m2 0h3m3 0h1m5 0h1m4 0h2m2 0h1m-183 1h1m47 0h2m13 0h1m2 0h1m1 0h1m2 0h1m1 0h1m2 0h1m1 0h41m2 0h2m2 0h1m2 0h1m8 0h1m1 0h1m7 0h2m2 0h1m1 0h2m1 0h3m1 0h1m2 0h3m1 0h1m1 0h4m6 0h1m9 0h1m-190 1h1m49 0h1m8 0h1m6 0h1m6 0h1m1 0h3m1 0h40m1 0h2m4 0h1m5 0h1m2 0h1m5 0h1m2 0h4m2 0h3m1 0h1m2 0h2m1 0h4m4 0h1m1 0h6m1 0h2m1 0h2m1 0h1m1 0h1m5 0h1m-192 1h1m15 0h1m13 0h1m34 0h1m1 0h2m1 0h1m1 0h1m1 0h7m1 0h37m1 0h1m1 0h2m1 0h1m4 0h2m1 0h1m1 0h1m1 0h2m2 0h2m1 0h1m1 0h1m1 0h1m1 0h2m1 0h1m1 0h2m1 0h2m3 0h5m4 0h3m1 0h2m1 0h1m7 0h3m-190 1h1m52 0h1m4 0h2m9 0h3m1 0h1m1 0h49m2 0h5m1 0h14m1 0h1m3 0h1m2 0h6m1 0h7m1 0h2m3 0h3m1 0h2m2 0h1m4 0h1m-188 1h1m40 0h1m8 0h1m1 0h1m1 0h1m1 0h1m3 0h1m9 0h58m8 0h1m1 0h2m1 0h2m1 0h3m1 0h5m1 0h4m3 0h1m2 0h2m1 0h1m1 0h3m2 0h1m1 0h3m2 0h2m-183 1h1m34 0h1m5 0h1m2 0h1m2 0h1m9 0h1m1 0h1m1 0h1m1 0h1m2 0h1m1 0h5m2 0h2m1 0h43m1 0h4m1 0h5m2 0h3m1 0h2m1 0h1m2 0h1m1 0h3m1 0h4m1 0h1m1 0h4m1 0h1m1 0h1m1 0h7m2 0h1m4 0h1m3 0h2m-186 1h1m37 0h1m17 0h1m9 0h2m1 0h4m1 0h2m1 0h43m1 0h12m1 0h1m3 0h5m1 0h6m1 0h5m1 0h3m1 0h1m2 0h7m2 0h1m3 0h3m1 0h2m4 0h1m2 0h1m-191 1h1m24 0h1m11 0h1m2 0h1m2 0h1m6 0h1m9 0h3m2 0h66m1 0h2m1 0h9m2 0h2m1 0h1m1 0h9m1 0h1m3 0h2m1 0h2m1 0h3m1 0h1m1 0h1m1 0h3m3 0h1m2 0h1m-189 1h1m33 0h1m6 0h1m2 0h1m2 0h1m4 0h1m2 0h1m7 0h7m1 0h66m3 0h8m1 0h2m1 0h1m1 0h3m1 0h8m1 0h2m1 0h3m1 0h1m2 0h1m2 0h2m1 0h1m3 0h1m5 0h1m1 0h1m-196 1h1m6 0h1m28 0h2m12 0h1m2 0h3m3 0h2m1 0h1m1 0h3m2 0h56m1 0h16m1 0h1m1 0h6m2 0h3m2 0h7m1 0h8m1 0h1m1 0h7m2 0h2m4 0h1m-193 1h1m29 0h1m8 0h2m2 0h1m7 0h1m5 0h1m1 0h3m3 0h2m1 0h58m1 0h6m1 0h2m1 0h1m1 0h4m2 0h4m2 0h2m1 0h1m2 0h4m1 0h1m3 0h1m2 0h4m1 0h3m3 0h1m2 0h1m5 0h1m3 0h1m-194 1h1m18 0h1m17 0h1m6 0h1m6 0h2m1 0h2m1 0h1m1 0h1m3 0h1m1 0h57m1 0h4m1 0h7m1 0h4m1 0h1m1 0h1m1 0h3m1 0h4m1 0h3m1 0h1m1 0h1m5 0h9m1 0h1m1 0h5m1 0h1m3 0h2m-190 1h2m22 0h1m2 0h1m8 0h2m4 0h1m1 0h1m2 0h3m1 0h2m2 0h2m1 0h4m1 0h5m1 0h49m1 0h9m1 0h7m1 0h1m2 0h1m1 0h2m2 0h5m1 0h11m2 0h2m1 0h6m2 0h1m4 0h2m1 0h1m-185 1h1m9 0h1m8 0h1m1 0h1m11 0h1m9 0h1m1 0h1m2 0h1m4 0h3m2 0h4m1 0h95m1 0h4m2 0h8m2 0h2m1 0h1m1 0h1m1 0h1m2 0h1m4 0h1m4 0h1m-196 1h1m8 0h1m19 0h1m2 0h1m6 0h1m6 0h1m1 0h4m1 0h1m1 0h1m1 0h2m2 0h66m1 0h14m1 0h2m1 0h2m1 0h1m1 0h1m1 0h1m1 0h14m1 0h5m1 0h3m2 0h2m6 0h1m-190 1h1m27 0h1m13 0h1m3 0h1m1 0h1m8 0h2m1 0h5m1 0h62m1 0h10m1 0h5m1 0h6m1 0h8m1 0h2m1 0h1m1 0h1m1 0h9m1 0h2m1 0h2m1 0h2m3 0h1m-191 1h1m16 0h1m9 0h1m1 0h1m7 0h1m2 0h1m1 0h1m9 0h1m2 0h1m1 0h3m1 0h1m1 0h83m1 0h12m1 0h3m1 0h6m2 0h8m7 0h1m-188 1h1m1 0h1m13 0h2m4 0h1m4 0h1m3 0h1m2 0h1m1 0h1m4 0h1m7 0h1m2 0h1m1 0h3m1 0h6m1 0h57m1 0h3m1 0h15m1 0h3m1 0h7m2 0h4m1 0h4m2 0h2m1 0h1m2 0h4m1 0h2m4 0h2m1 0h1m-188 1h1m1 0h1m4 0h1m13 0h1m3 0h3m7 0h1m3 0h1m1 0h1m4 0h3m2 0h1m1 0h12m1 0h78m1 0h10m1 0h3m1 0h1m1 0h13m1 0h7m4 0h1m-188 1h1m14 0h1m14 0h1m2 0h2m1 0h3m2 0h2m1 0h2m4 0h1m2 0h2m1 0h83m1 0h3m1 0h7m2 0h2m2 0h1m1 0h1m1 0h1m1 0h3m2 0h5m1 0h3m1 0h2m3 0h1m1 0h1m-186 1h1m5 0h1m5 0h1m23 0h2m4 0h1m1 0h1m1 0h1m3 0h7m1 0h96m1 0h3m1 0h8m2 0h2m1 0h3m1 0h2m1 0h4m3 0h1m-187 1h1m19 0h1m7 0h1m3 0h1m7 0h1m5 0h1m2 0h4m2 0h5m1 0h66m1 0h7m1 0h14m1 0h4m1 0h12m1 0h8m3 0h1m1 0h1m2 0h2m10 0h1m-198 1h1m21 0h1m2 0h1m11 0h2m1 0h1m6 0h1m4 0h3m1 0h86m1 0h9m1 0h1m1 0h2m1 0h17m1 0h2m1 0h1m1 0h1m1 0h4m3 0h1m2 0h1m-194 1h1m18 0h1m15 0h1m7 0h1m1 0h1m1 0h1m1 0h4m1 0h6m1 0h76m1 0h9m1 0h5m1 0h3m1 0h5m1 0h1m1 0h4m1 0h5m1 0h7m1 0h1m1 0h1m-188 1h1m15 0h1m4 0h1m3 0h1m4 0h3m1 0h1m3 0h2m4 0h2m1 0h2m1 0h2m2 0h13m2 0h88m1 0h4m1 0h1m2 0h2m1 0h6m1 0h4m4 0h1m-185 1h1m25 0h4m6 0h1m2 0h1m3 0h2m2 0h1m1 0h2m1 0h1m1 0h11m1 0h74m1 0h1m1 0h7m1 0h3m1 0h2m1 0h5m2 0h3m1 0h1m1 0h9m1 0h5m1 0h1m-188 1h1m8 0h1m5 0h1m4 0h1m2 0h1m11 0h1m8 0h1m2 0h11m1 0h68m1 0h7m1 0h7m1 0h2m1 0h8m1 0h1m1 0h2m1 0h7m1 0h3m1 0h3m1 0h2m1 0h2m1 0h3m3 0h1m-190 1h1m19 0h1m2 0h1m2 0h1m1 0h1m4 0h1m1 0h1m2 0h1m12 0h1m2 0h8m1 0h76m2 0h10m1 0h16m1 0h2m1 0h5m2 0h5m1 0h1m5 0h1m1 0h1m-194 1h1m19 0h1m4 0h2m2 0h2m3 0h1m5 0h3m3 0h1m1 0h1m1 0h11m1 0h71m1 0h10m1 0h4m2 0h1m1 0h4m2 0h2m1 0h2m1 0h7m1 0h8m1 0h2m3 0h1m-188 1h1m17 0h1m4 0h1m4 0h1m1 0h2m4 0h1m3 0h1m2 0h2m3 0h2m1 0h1m1 0h1m1 0h2m1 0h75m1 0h2m1 0h21m1 0h4m1 0h1m1 0h6m1 0h2m3 0h1m1 0h1m1 0h4m8 0h1m-195 1h1m24 0h1m5 0h1m9 0h1m8 0h1m1 0h1m1 0h2m1 0h77m1 0h11m1 0h10m1 0h8m1 0h2m1 0h3m1 0h5m4 0h1m-184 1h1m6 0h1m2 0h1m4 0h1m12 0h1m4 0h1m2 0h2m2 0h1m2 0h1m2 0h2m4 0h1m2 0h1m2 0h1m1 0h2m1 0h58m1 0h18m1 0h1m1 0h2m1 0h1m1 0h1m1 0h5m2 0h3m1 0h4m2 0h8m1 0h3m1 0h1m-181 1h1m26 0h1m7 0h2m4 0h2m2 0h2m4 0h2m4 0h84m1 0h6m1 0h8m1 0h1m2 0h2m2 0h2m1 0h8m1 0h1m1 0h3m-182 1h1m6 0h1m8 0h1m4 0h1m8 0h1m2 0h2m4 0h2m1 0h3m1 0h3m1 0h1m2 0h5m1 0h65m1 0h26m1 0h1m1 0h2m2 0h1m2 0h1m1 0h4m2 0h3m1 0h4m3 0h1m-181 1h1m24 0h2m3 0h1m4 0h2m1 0h1m1 0h1m1 0h1m1 0h1m3 0h1m3 0h2m1 0h2m2 0h1m1 0h4m1 0h63m1 0h9m1 0h1m1 0h1m1 0h3m1 0h13m1 0h5m1 0h2m2 0h7m1 0h1m4 0h1m1 0h1m2 0h1m-191 1h1m11 0h1m14 0h1m4 0h3m5 0h1m2 0h1m2 0h1m1 0h2m1 0h2m2 0h1m1 0h2m2 0h63m1 0h5m1 0h8m2 0h1m1 0h3m1 0h2m1 0h13m1 0h1m1 0h3m1 0h3m1 0h4m1 0h1m1 0h2m2 0h2m1 0h1m2 0h1m2 0h1m-195 1h1m20 0h1m7 0h2m2 0h1m3 0h1m1 0h1m2 0h1m2 0h1m2 0h1m3 0h3m1 0h3m1 0h3m1 0h66m1 0h7m1 0h5m2 0h2m1 0h2m1 0h4m1 0h2m1 0h1m1 0h1m2 0h2m2 0h6m1 0h1m1 0h3m-181 1h1m13 0h1m10 0h1m1 0h1m3 0h1m1 0h1m2 0h2m1 0h1m2 0h1m1 0h3m6 0h1m1 0h2m1 0h76m1 0h2m1 0h4m1 0h5m1 0h2m1 0h7m1 0h1m2 0h4m1 0h1m1 0h6m1 0h1m1 0h1m1 0h1m2 0h1m6 0h1m-192 1h1m20 0h1m19 0h1m5 0h1m1 0h2m4 0h2m2 0h2m1 0h3m1 0h57m1 0h10m1 0h6m1 0h4m1 0h3m1 0h1m2 0h3m1 0h7m1 0h7m5 0h1m3 0h1m1 0h1m-185 1h1m33 0h2m3 0h1m1 0h1m1 0h3m1 0h2m1 0h1m1 0h3m1 0h1m1 0h3m1 0h1m1 0h4m1 0h54m1 0h16m1 0h3m1 0h6m1 0h1m1 0h1m1 0h5m1 0h4m4 0h2m1 0h1m1 0h5m-180 1h1m40 0h1m4 0h2m1 0h1m8 0h4m2 0h63m1 0h5m2 0h5m1 0h6m2 0h1m1 0h2m1 0h1m3 0h4m3 0h4m1 0h3m1 0h2m3 0h1m2 0h1m3 0h1m8 0h1m-196 1h1m30 0h1m2 0h1m3 0h1m2 0h2m3 0h1m8 0h1m2 0h1m2 0h1m1 0h1m2 0h2m1 0h2m1 0h7m1 0h50m3 0h2m2 0h2m1 0h1m3 0h4m2 0h2m1 0h4m1 0h1m2 0h1m2 0h5m1 0h4m3 0h2m2 0h1m-182 1h1m41 0h3m2 0h1m2 0h1m2 0h2m1 0h1m1 0h1m1 0h1m1 0h1m1 0h7m1 0h6m1 0h51m1 0h2m3 0h2m2 0h3m1 0h3m1 0h1m2 0h5m1 0h2m3 0h1m2 0h1m1 0h5m2 0h2m1 0h1m7 0h1m1 0h1m-188 1h1m30 0h1m15 0h1m3 0h1m4 0h1m3 0h5m1 0h2m1 0h56m1 0h3m1 0h1m1 0h2m1 0h1m3 0h3m3 0h1m10 0h2m2 0h1m1 0h1m3 0h1m1 0h1m7 0h1m2 0h1m1 0h1m-182 1h1m15 0h1m17 0h1m6 0h2m2 0h1m1 0h1m3 0h1m2 0h2m1 0h2m4 0h1m1 0h4m2 0h2m1 0h44m1 0h7m1 0h1m1 0h1m1 0h4m1 0h1m1 0h2m2 0h1m1 0h1m1 0h1m4 0h1m1 0h2m3 0h1m2 0h4m5 0h2m3 0h1m1 0h1m1 0h1m-180 1h1m14 0h1m25 0h1m2 0h1m10 0h1m1 0h1m2 0h2m2 0h3m1 0h5m1 0h51m1 0h1m1 0h1m3 0h1m3 0h1m8 0h2m1 0h1m2 0h3m5 0h1m1 0h1m4 0h2m4 0h2m4 0h2m-180 1h1m32 0h1m1 0h1m1 0h4m3 0h1m1 0h1m4 0h3m3 0h1m1 0h2m2 0h3m1 0h6m1 0h8m1 0h35m1 0h1m1 0h1m1 0h4m4 0h1m2 0h1m1 0h2m1 0h1m2 0h2m13 0h1m2 0h2m9 0h1m4 0h1m-177 1h1m11 0h1m15 0h1m5 0h1m2 0h1m2 0h4m13 0h1m4 0h1m4 0h3m2 0h48m1 0h1m1 0h2m1 0h2m1 0h1m3 0h1m9 0h1m6 0h2m2 0h1m9 0h1m5 0h1m1 0h1m3 0h2m2 0h1m-181 1h1m8 0h1m8 0h1m22 0h1m3 0h1m2 0h1m4 0h2m5 0h1m1 0h1m1 0h3m2 0h1m1 0h47m1 0h2m1 0h1m2 0h1m1 0h1m5 0h1m2 0h2m1 0h1m1 0h1m3 0h1m4 0h1m2 0h1m4 0h1m15 0h1m4 0h1m1 0h1m4 0h1m-187 1h1m34 0h1m1 0h2m2 0h1m1 0h1m18 0h2m1 0h1m2 0h2m4 0h2m1 0h38m1 0h1m1 0h2m2 0h3m3 0h1m1 0h1m4 0h1m2 0h1m1 0h1m5 0h1m7 0h1m13 0h1m4 0h1m10 0h1m2 0h1m-188 1h1m47 0h1m2 0h2m3 0h1m4 0h1m1 0h1m2 0h2m3 0h1m3 0h1m2 0h1m2 0h3m1 0h27m1 0h6m1 0h1m2 0h1m1 0h2m5 0h1m16 0h1m7 0h1m1 0h1m13 0h2m-175 1h1m37 0h1m10 0h1m1 0h1m4 0h1m1 0h1m1 0h1m3 0h1m1 0h3m2 0h2m2 0h1m1 0h3m2 0h39m1 0h2m3 0h2m22 0h2m7 0h1m7 0h2m10 0h1m2 0h1m1 0h1m1 0h1m-188 1h1m22 0h1m32 0h1m2 0h1m2 0h1m2 0h2m1 0h1m2 0h2m1 0h1m1 0h37m1 0h2m1 0h1m1 0h1m1 0h1m1 0h1m3 0h1m2 0h1m6 0h1m2 0h1m28 0h1m9 0h1m-180 1h1m19 0h1m28 0h1m9 0h1m1 0h1m6 0h2m4 0h1m1 0h1m3 0h1m1 0h6m1 0h21m1 0h4m1 0h4m1 0h1m30 0h1m1 0h3m24 0h1m-182 1h1m40 0h1m3 0h1m5 0h1m6 0h1m1 0h1m4 0h1m3 0h1m1 0h1m1 0h1m1 0h1m1 0h1m1 0h2m1 0h2m2 0h25m1 0h1m2 0h2m1 0h1m3 0h1m3 0h1m24 0h1m21 0h1m-174 1h1m64 0h2m1 0h1m1 0h1m1 0h1m4 0h1m3 0h2m1 0h5m1 0h17m1 0h1m2 0h2m2 0h1m5 0h1m3 0h1m1 0h1m10 0h1m5 0h1m14 0h1m7 0h1m-168 1h1m59 0h1m8 0h1m6 0h1m1 0h1m2 0h1m2 0h3m2 0h2m1 0h18m2 0h1m1 0h1m1 0h1m7 0h2m21 0h1m28 0h1m2 0h1m-180 1h1m47 0h1m13 0h1m8 0h2m9 0h2m1 0h1m1 0h5m1 0h2m1 0h1m1 0h10m2 0h3m2 0h1m3 0h1m1 0h1m37 0h1m-160 1h1m50 0h3m5 0h1m2 0h1m4 0h1m5 0h1m4 0h1m3 0h1m4 0h1m2 0h1m1 0h12m2 0h2m1 0h4m4 0h1m27 0h2m-91 1h1m1 0h1m7 0h1m1 0h1m1 0h1m1 0h1m2 0h1m7 0h1m1 0h2m1 0h2m1 0h1m3 0h3m1 0h2m2 0h2m5 0h4m15 0h1m7 0h1m9 0h2m18 0h1m14 0h1m-136 1h1m13 0h1m5 0h1m6 0h1m8 0h1m6 0h1m2 0h1m1 0h1m1 0h2m2 0h1m1 0h1m1 0h1m8 0h1m65 0h1m4 0h1m-132 1h1m15 0h1m6 0h1m10 0h1m1 0h3m2 0h1m2 0h3m3 0h2m1 0h1m1 0h1m4 0h1m37 0h1m-58 1h2m4 0h1m2 0h1m7 0h1m36 0h1m-64 1h1m12 0h1m1 0h2m1 0h1m2 0h1m-43 1h1m30 0h1m10 0h1m-28 1h1m15 0h1m65 0h1m-82 1h1m10 1h1m85 0h1"/>
<path stroke="#0023ff" d="M98 166h9m-12 1h13m-18 1h19m-21 1h22m-22 1h24m-24 1h26m-28 1h28m-28 1h31m-35 1h2m1 0h33m-37 1h38m-40 1h40m-40 1h40m-41 1h41m-41 1h41m-42 1h43m-45 1h43m1 0h2m-121 1h1m74 0h47m-122 1h1m74 0h48m-123 1h1m76 0h45m-122 1h1m70 0h1m1 0h47m-120 1h1m70 0h2m1 0h47m-121 1h1m73 0h47m-121 1h1m73 0h45m-119 1h1m72 0h46m-119 1h1m72 0h46m2 0h1m-122 1h1m73 0h47m-121 1h1m70 0h2m4 0h44m-121 1h1m70 0h51m-122 1h1m70 0h50m2 0h1m-124 1h1m69 0h1m2 0h49m1 0h1m-124 1h1m68 0h1m6 0h45m2 0h1m-124 1h1m74 0h47m-122 1h1m73 0h48m-122 1h1m72 0h48m-121 1h1m72 0h2m2 0h42m-119 1h1m72 0h2m2 0h41m-118 1h1m73 0h44m-118 1h1m73 0h43m-117 1h1m72 0h1m2 0h41m-117 1h1m76 0h1m1 0h1m1 0h37m-118 1h1m81 0h36m-118 1h1m79 0h36m-34 1h34m-34 1h33m-33 1h33m-32 1h32m-32 1h32m-31 1h29m-28 1h28m-27 1h27m-27 1h26m-26 1h27m-26 1h25m-23 1h21m-20 1h19m-18 1h17m-16 1h15m-13 1h4"/>
<path stroke="#004bff" d="M100 166h2m-5 1h10m-12 1h13m-16 1h17m-19 1h21m-22 1h24m-24 1h24m-26 1h27m-27 1h29m-30 1h32m-32 1h32m-37 1h1m3 0h33m-36 1h35m-36 1h37m-39 1h39m-39 1h39m-40 1h38m-116 1h1m78 0h37m-116 1h1m78 0h38m1 0h1m-119 1h1m78 0h40m-119 1h1m74 0h2m2 0h38m-117 1h1m74 0h1m3 0h38m-117 1h1m77 0h39m-117 1h1m76 0h41m-118 1h1m76 0h41m-118 1h1m77 0h40m-118 1h1m77 0h42m-120 1h1m78 0h41m-120 1h1m78 0h40m-119 1h1m78 0h40m-119 1h1m78 0h40m-119 1h1m77 0h42m-120 1h1m76 0h43m-120 1h1m77 0h40m-118 1h1m77 0h40m-118 1h1m77 0h39m-117 1h1m78 0h37m-116 1h1m81 0h34m-116 1h1m80 0h34m-115 1h1m82 0h32m-115 1h1m82 0h32m-31 1h31m-30 1h29m-30 1h30m-30 1h30m-30 1h30m-29 1h26m-25 1h26m-25 1h25m-25 1h25m-25 1h25m-22 1h22m-22 1h21m-20 1h17m-15 1h14m-13 1h6m1 0h6m-11 1h2"/>
<path stroke="#0078ff" d="M99 167h4m1 0h2m-10 1h11m-13 1h14m-15 1h17m-19 1h20m-20 1h21m-22 1h23m-26 1h26m-25 1h28m-28 1h28m-28 1h28m-29 1h29m-32 1h32m-33 1h32m-32 1h2m1 0h29m-33 1h33m-115 1h1m81 0h33m-115 1h1m79 0h35m-115 1h1m79 0h35m-115 1h1m80 0h34m-115 1h1m81 0h2m1 0h30m-115 1h1m77 0h1m7 0h30m-116 1h1m77 0h3m5 0h31m-117 1h1m77 0h4m2 0h33m-117 1h1m78 0h38m-117 1h1m78 0h38m-117 1h1m78 0h37m-116 1h1m79 0h37m-117 1h1m81 0h35m-117 1h1m82 0h35m-118 1h1m83 0h33m-117 1h1m78 0h1m4 0h1m1 0h31m-117 1h1m79 0h37m-117 1h1m79 0h36m-116 1h1m81 0h33m-115 1h1m85 0h29m-115 1h1m85 0h28m-114 1h1m83 0h29m-29 1h2m1 0h26m-25 1h25m-25 1h25m-25 1h26m-27 1h26m-27 1h27m-27 1h24m-23 1h22m-20 1h21m-20 1h21m-21 1h19m-18 1h19m-18 1h12m1 0h4m-17 1h12m2 0h2m-14 1h11m-10 1h4m2 0h4m-10 1h1"/>
<path stroke="#00a5ff" d="M98 168h4m1 0h3m-10 1h11m-13 1h15m-16 1h17m-18 1h19m-20 1h21m-22 1h23m-24 1h24m-24 1h26m-26 1h26m-27 1h27m-28 1h27m-26 1h26m-26 1h26m-30 1h1m4 0h25m-30 1h1m3 0h26m-29 1h1m1 0h27m-114 1h1m81 0h1m4 0h27m-114 1h1m86 0h27m-114 1h1m86 0h27m-114 1h1m86 0h26m-113 1h1m86 0h27m-114 1h1m85 0h29m-115 1h1m85 0h30m-116 1h1m80 0h3m1 0h31m-116 1h1m79 0h36m-116 1h1m80 0h3m1 0h31m-116 1h1m84 0h31m-116 1h1m84 0h31m-116 1h1m86 0h29m-116 1h1m86 0h29m-116 1h1m87 0h27m-115 1h1m87 0h26m-114 1h1m87 0h26m-114 1h1m86 0h27m-114 1h1m87 0h25m-113 1h1m87 0h24m-23 1h23m-23 1h24m-23 1h22m-22 1h21m-21 1h21m-21 1h21m-20 1h18m-19 1h18m-18 1h18m-17 1h17m-17 1h17m-16 1h12m2 0h1m-14 1h2m2 0h6m-4 1h4m-2 1h2"/>
<path stroke="#00d2ff" d="M99 169h7m-10 1h11m-13 1h16m-17 1h18m-18 1h18m-19 1h20m-21 1h21m-22 1h23m-23 1h23m-24 1h25m-25 1h25m-25 1h24m-24 1h24m-24 1h25m-24 1h23m-24 1h24m-25 1h24m-112 1h1m88 0h24m-113 1h1m88 0h24m-113 1h1m88 0h24m-113 1h1m87 0h25m-113 1h1m87 0h26m-114 1h1m87 0h27m-115 1h1m87 0h27m-115 1h1m81 0h1m5 0h27m-115 1h1m86 0h28m-115 1h1m86 0h28m-115 1h1m86 0h28m-115 1h1m87 0h27m-115 1h1m87 0h27m-115 1h1m88 0h25m-114 1h1m89 0h24m-114 1h1m89 0h23m-113 1h1m88 0h24m-113 1h1m88 0h23m-22 1h22m-22 1h21m-20 1h1m2 0h17m-17 1h16m-17 1h17m-17 1h17m-18 1h2m2 0h12m-15 1h13m-11 1h10m-10 1h7m1 0h1m-6 1h1m-1 1h1m0 1h1m0 1h1m0 1h1"/>
<path stroke="#00faf5" d="M104 169h1m-4 1h4m-10 1h11m-12 1h16m-16 1h17m-17 1h17m-18 1h19m-21 1h21m-22 1h23m-23 1h23m-22 1h22m-22 1h22m-23 1h22m-22 1h23m-22 1h21m-22 1h21m-21 1h22m-22 1h22m-112 1h1m90 0h21m-112 1h1m90 0h21m-112 1h1m90 0h21m-112 1h1m89 0h23m-24 1h25m-25 1h25m-25 1h25m-114 1h1m88 0h25m-114 1h1m87 0h27m-27 1h27m-115 1h1m88 0h25m-114 1h1m88 0h25m-114 1h1m89 0h23m-113 1h1m90 0h22m-113 1h1m91 0h20m-112 1h1m90 0h21m-21 1h21m-21 1h17m1 0h2m-16 1h13m1 0h2m-16 1h12m-11 1h10m-10 1h9m-8 1h9m-6 1h5m-4 1h1m1 0h1"/>
<path stroke="#00ffa0" d="M103 170h1m-3 1h5m-11 1h13m-13 1h15m-16 1h16m-16 1h17m-19 1h19m-20 1h21m-20 1h20m-19 1h19m-19 1h19m-20 1h20m-21 1h21m-20 1h19m-20 1h19m-19 1h19m-18 1h19m-19 1h19m-19 1h19m-19 1h19m-20 1h21m-22 1h23m-23 1h23m-23 1h23m-23 1h24m-24 1h24m-24 1h23m-23 1h23m-113 1h1m90 0h22m-113 1h1m91 0h21m-113 1h1m91 0h20m-112 1h1m92 0h19m-112 1h1m92 0h19m-20 1h16m2 0h1m-16 1h13m-12 1h10m-10 1h10m-9 1h4m1 0h3m-8 1h4m2 0h1"/>
<path stroke="#00ff32" d="M102 171h3m-5 1h6m-11 1h13m-13 1h15m-16 1h16m-17 1h18m-19 1h20m-20 1h20m-19 1h18m-18 1h18m-18 1h18m-18 1h18m-19 1h18m-18 1h17m-17 1h17m-17 1h17m-16 1h17m-17 1h18m-18 1h18m-18 1h18m-19 1h20m-20 1h20m-21 1h21m-21 1h22m-22 1h22m-22 1h21m-21 1h21m-20 1h20m-19 1h18m-18 1h18m-17 1h17m-17 1h15m-15 1h14m-12 1h11m-11 1h4m1 0h5m-9 1h3m3 0h2m-8 1h3m-2 1h1"/>
<path stroke="#3cff00" d="M101 173h4m-8 1h9m-10 1h10m-10 1h11m-11 1h12m1 0h2m-16 1h15m-15 1h14m-14 1h15m-15 1h14m-15 1h14m-14 1h13m-13 1h14m-14 1h14m-14 1h14m-12 1h12m-12 1h13m-13 1h14m-13 1h13m-16 1h16m-16 1h17m-17 1h16m-16 1h16m-17 1h17m-16 1h16m-16 1h16m-16 1h16m-15 1h14m-14 1h13m-13 1h13m-12 1h2m1 0h8m-7 1h5"/>
<path stroke="#a0ff00" d="M99 175h5m-6 1h7m-7 1h8m-8 1h10m-11 1h10m-11 1h11m-10 1h9m-7 1h6m-6 1h6m-6 1h7m-7 1h7m-6 1h6m-7 1h7m-8 1h8m-8 1h8m-8 1h11m-11 1h10m-13 1h13m-13 1h13m-13 1h13m-13 1h13m-13 1h13m-13 1h13m-13 1h13m-12 1h12m-12 1h11m-8 1h5m-3 1h1"/>
<path stroke="#f0fa00" d="M100 175h1m-2 1h5m-5 1h6m-6 1h7m-9 1h1m1 0h8m-10 1h9m-7 1h7m-7 1h6m-5 1h4m-4 1h3m-3 1h3m-3 1h4m-4 1h5m-6 1h6m-6 1h5m-5 1h5m2 0h2m-9 1h9m-11 1h11m-12 1h11m-11 1h11m-11 1h12m-12 1h12m-12 1h11m-11 1h11m-10 1h10m-8 1h6m-4 1h1"/>
<path stroke="#ffc300" d="M100 176h2m-2 1h5m-5 1h6m-6 1h6m-8 1h8m-7 1h6m-6 1h4m-2 1h2m-2 1h1m-1 2h1m-1 1h1m-1 1h2m-3 1h3m-4 1h4m-4 1h8m-9 1h9m-10 1h10m-11 1h10m-10 1h11m-11 1h11m-11 1h11m-11 1h11m-9 1h7m-5 1h3"/>
<path stroke="#ff7300" d="M100 177h4m-3 1h4m-4 1h5m-6 1h4m-4 1h3m-3 1h3m-2 1h1m-2 6h1m-1 1h3m-4 1h4m2 0h1m-7 1h8m-9 1h9m-10 1h9m-9 1h9m-9 1h10m-11 1h11m-8 1h8m-8 1h3"/>
<path stroke="#ff2800" d="M102 177h2m-3 1h3m-3 1h3m1 0h1m-6 1h3m-3 1h3m-2 1h2m-2 1h1m-2 7h3m-4 1h4m2 0h1m-7 1h7m-8 1h8m-9 1h8m-8 1h9m-9 1h9m-9 1h9m-7 1h7m-6 1h1"/>
</g>
<path d="M115.4 948.5L125.0 948.5M115.4 868.4L125.0 868.4M115.4 788.3L125.0 788.3M115.4 708.2L125.0 708.2M115.4 628.1L125.0 628.1" stroke="#222" stroke-width="1.2" fill="none"/>
<path d="M120.8 921.8L125.0 921.8M120.8 895.1L125.0 895.1M120.8 841.7L125.0 841.7M120.8 815.0L125.0 815.0M120.8 761.6L125.0 761.6M120.8 734.9L125.0 734.9M120.8 681.5L125.0 681.5M120.8 654.8L125.0 654.8" stroke="#222" stroke-width="1.1" fill="none"/>
<path d="M150.4 949.2L150.4 958.8M201.1 949.2L201.1 958.8M251.7 949.2L251.7 958.8M302.4 949.2L302.4 958.8M353.1 949.2L353.1 958.8M403.8 949.2L403.8 958.8M454.4 949.2L454.4 958.8" stroke="#222" stroke-width="1.3" fill="none"/>
<path d="M135.1 949.2L135.1 956.2M185.8 949.2L185.8 956.2M236.5 949.2L236.5 956.2M287.2 949.2L287.2 956.2M337.8 949.2L337.8 956.2M388.5 949.2L388.5 956.2M439.2 949.2L439.2 956.2" stroke="#222" stroke-width="1.2" fill="none"/>
<path d="M130.2 949.2L130.2 953.6M139.2 949.2L139.2 953.6M142.6 949.2L142.6 953.6M145.5 949.2L145.5 953.6M148.1 949.2L148.1 953.6M165.7 949.2L165.7 953.6M174.6 949.2L174.6 953.6M180.9 949.2L180.9 953.6M189.8 949.2L189.8 953.6M193.2 949.2L193.2 953.6M196.2 949.2L196.2 953.6M198.8 949.2L198.8 953.6M216.3 949.2L216.3 953.6M225.2 949.2L225.2 953.6M231.6 949.2L231.6 953.6M240.5 949.2L240.5 953.6M243.9 949.2L243.9 953.6M246.8 949.2L246.8 953.6M249.4 949.2L249.4 953.6M267.0 949.2L267.0 953.6M275.9 949.2L275.9 953.6M282.2 949.2L282.2 953.6M291.2 949.2L291.2 953.6M294.6 949.2L294.6 953.6M297.5 949.2L297.5 953.6M300.1 949.2L300.1 953.6M317.7 949.2L317.7 953.6M326.6 949.2L326.6 953.6M332.9 949.2L332.9 953.6M341.8 949.2L341.8 953.6M345.2 949.2L345.2 953.6M348.2 949.2L348.2 953.6M350.8 949.2L350.8 953.6M368.3 949.2L368.3 953.6M377.3 949.2L377.3 953.6M383.6 949.2L383.6 953.6M392.5 949.2L392.5 953.6M395.9 949.2L395.9 953.6M398.8 949.2L398.8 953.6M401.4 949.2L401.4 953.6M419.0 949.2L419.0 953.6M427.9 949.2L427.9 953.6M434.3 949.2L434.3 953.6M443.2 949.2L443.2 953.6M446.6 949.2L446.6 953.6M449.5 949.2L449.5 953.6M452.1 949.2L452.1 953.6" stroke="#222" stroke-width="1.2" fill="none"/>
<text x="111.8" y="879.9" font-size="23.2" text-anchor="end">300K</text>
<text x="111.8" y="799.8" font-size="23.2" text-anchor="end">600K</text>
<text x="111.8" y="719.7" font-size="23.2" text-anchor="end">900K</text>
<text x="111.8" y="639.6" font-size="23.2" text-anchor="end">1.2M</text>
<text x="92.4" y="954.8" font-size="23.2" text-anchor="end">0</text>
<text x="140.6" y="981.7" font-size="23.2">10<tspan dy="-11.1" dx="-1.4" font-size="20.2">1</tspan></text>
<text x="242.0" y="981.7" font-size="23.2">10<tspan dy="-11.1" dx="-3.0" font-size="20.2">3</tspan></text>
<text x="343.4" y="981.7" font-size="23.2">10<tspan dy="-11.1" dx="-3.0" font-size="20.2">5</tspan></text>
<text x="437.2" y="981.7" font-size="23.2">10<tspan dy="-11.1" dx="-3.0" font-size="20.2">7</tspan></text>
<text x="296.8" y="595.7" font-size="23.3" text-anchor="middle" font-weight="bold">Poly C</text>
<rect x="313.7" y="798.8" width="101.7" height="125.6" fill="none" stroke="#000" stroke-width="1.5"/>
<text x="366.6" y="787.1" font-size="23.2" text-anchor="middle">3.85%</text>
<path d="M552.2 607.5L552.2 949.2" stroke="#707070" stroke-width="1.9" fill="none"/>
<path d="M894.6 607.5L894.6 949.2" stroke="#444" stroke-width="1.0" fill="none"/>
<path d="M551.3 607.5L895.1 607.5" stroke="#444" stroke-width="1.0" fill="none"/>
<path d="M551.3 949.4L895.1 949.4" stroke="#444" stroke-width="1.3" fill="none"/>
<g transform="translate(552.10 608.17) scale(1.3371 1.3348)" fill="none" stroke-width="1.04">
<path stroke="#0000ff" d="M187 143h1m-77 3h1m1 0h1m1 0h1m2 0h2m1 0h1m-12 1h1m3 0h1m-7 1h1m1 0h1m3 0h1m2 0h1m1 0h3m-20 1h1m4 0h3m1 0h8m-13 1h2m1 0h3m1 0h1m3 0h1m1 0h2m1 0h1m58 0h1m6 0h1m-85 1h2m1 0h2m2 0h6m1 0h1m1 0h1m1 0h1m15 0h1m29 0h1m9 0h1m-96 1h1m20 0h1m1 0h6m1 0h7m2 0h1m54 0h2m-88 1h1m4 0h1m8 0h5m1 0h9m1 0h1m1 0h1m24 0h1m14 0h1m8 0h1m4 0h1m1 0h1m-75 1h1m2 0h3m1 0h4m1 0h4m64 0h1m-83 1h1m4 0h1m1 0h4m1 0h1m1 0h4m34 0h1m12 0h1m4 0h1m1 0h1m3 0h1m-94 1h1m10 0h1m1 0h1m2 0h1m1 0h1m2 0h1m1 0h2m1 0h3m5 0h1m1 0h1m55 0h1m8 0h1m4 0h1m-107 1h1m6 0h1m4 0h1m2 0h1m4 0h1m2 0h3m1 0h1m1 0h2m1 0h1m22 0h1m5 0h1m8 0h1m16 0h1m6 0h1m15 0h1m-112 1h1m7 0h1m2 0h2m7 0h1m2 0h1m1 0h2m1 0h2m1 0h3m2 0h1m20 0h1m4 0h1m18 0h1m3 0h1m2 0h1m1 0h1m1 0h1m14 0h1m2 0h1m-112 1h1m4 0h1m2 0h1m2 0h2m2 0h1m6 0h2m1 0h1m1 0h1m4 0h2m2 0h1m19 0h1m1 0h1m15 0h1m9 0h1m3 0h1m20 0h1m-100 1h3m1 0h2m1 0h1m6 0h1m1 0h1m1 0h2m1 0h1m3 0h1m38 0h1m2 0h1m16 0h1m10 0h1m-108 1h1m12 0h2m1 0h6m2 0h1m1 0h2m1 0h2m3 0h1m1 0h2m53 0h2m11 0h1m15 0h1m-203 1h1m78 0h1m2 0h1m1 0h1m1 0h1m1 0h2m1 0h5m1 0h1m2 0h3m1 0h3m3 0h2m4 0h1m43 0h1m2 0h1m3 0h1m7 0h1m4 0h2m3 0h1m7 0h1m-194 1h1m40 0h1m30 0h1m14 0h2m1 0h1m1 0h1m2 0h3m2 0h8m2 0h1m1 0h1m2 0h1m3 0h1m13 0h1m7 0h1m3 0h2m1 0h1m2 0h3m6 0h1m5 0h1m2 0h2m5 0h1m2 0h2m8 0h1m4 0h1m-114 1h1m2 0h3m1 0h1m2 0h1m1 0h2m1 0h17m2 0h1m1 0h1m2 0h2m5 0h1m7 0h1m2 0h1m1 0h1m8 0h1m9 0h1m7 0h1m4 0h1m12 0h1m4 0h1m-191 1h1m77 0h2m1 0h1m2 0h2m1 0h7m2 0h6m1 0h10m2 0h2m4 0h3m8 0h1m4 0h1m13 0h1m4 0h1m2 0h1m18 0h1m3 0h1m17 0h1m-201 1h1m43 0h1m29 0h1m3 0h1m1 0h1m1 0h1m2 0h32m1 0h1m1 0h1m2 0h3m1 0h1m14 0h1m5 0h1m1 0h1m1 0h1m1 0h2m10 0h1m1 0h2m3 0h1m2 0h1m3 0h2m1 0h2m6 0h1m-192 1h1m28 0h1m25 0h1m9 0h1m6 0h4m3 0h1m3 0h1m1 0h32m1 0h3m1 0h2m1 0h1m1 0h1m9 0h1m2 0h1m1 0h2m2 0h1m4 0h1m2 0h1m2 0h3m2 0h1m1 0h1m2 0h2m1 0h1m2 0h1m1 0h1m1 0h1m10 0h1m1 0h1m-191 1h1m50 0h1m3 0h1m2 0h1m7 0h1m2 0h1m3 0h1m1 0h1m1 0h1m1 0h40m1 0h2m5 0h1m3 0h1m3 0h1m5 0h2m2 0h3m3 0h4m1 0h3m2 0h2m1 0h1m1 0h1m1 0h5m1 0h2m5 0h1m-182 1h1m44 0h1m1 0h1m6 0h1m3 0h1m6 0h1m2 0h1m1 0h1m3 0h2m2 0h1m1 0h4m1 0h36m1 0h3m3 0h1m2 0h2m2 0h1m3 0h2m1 0h1m3 0h3m2 0h1m1 0h2m3 0h2m1 0h1m1 0h1m3 0h1m1 0h2m1 0h4m1 0h3m8 0h2m-190 1h1m37 0h1m12 0h1m1 0h1m15 0h3m1 0h1m1 0h9m1 0h3m1 0h34m1 0h1m1 0h1m1 0h1m1 0h1m1 0h1m5 0h1m6 0h4m1 0h1m1 0h1m1 0h3m1 0h1m1 0h2m1 0h2m1 0h2m2 0h2m1 0h6m1 0h2m6 0h2m-190 1h1m59 0h2m4 0h1m2 0h2m1 0h5m1 0h6m1 0h44m1 0h2m2 0h2m1 0h3m1 0h5m1 0h1m1 0h5m1 0h14m1 0h2m1 0h1m1 0h4m1 0h1m1 0h1m1 0h1m1 0h1m-187 1h1m44 0h2m6 0h1m4 0h1m3 0h1m2 0h4m2 0h2m1 0h2m1 0h51m1 0h3m1 0h1m1 0h2m1 0h1m1 0h3m1 0h3m2 0h19m1 0h10m1 0h1m5 0h1m-187 1h1m40 0h1m7 0h1m4 0h1m5 0h4m1 0h1m2 0h1m3 0h3m1 0h5m1 0h38m4 0h1m4 0h3m1 0h2m1 0h1m1 0h1m1 0h4m1 0h8m2 0h1m1 0h2m1 0h1m1 0h1m1 0h6m1 0h11m1 0h1m3 0h2m5 0h1m4 0h1m-200 1h1m27 0h1m3 0h1m10 0h1m6 0h1m2 0h1m5 0h1m5 0h1m2 0h2m3 0h57m2 0h3m1 0h3m1 0h4m2 0h9m1 0h15m1 0h3m2 0h3m1 0h2m1 0h1m1 0h1m2 0h1m17 0h1m-208 1h1m19 0h1m6 0h1m17 0h1m2 0h2m6 0h2m4 0h1m1 0h1m1 0h14m1 0h43m1 0h2m1 0h7m2 0h8m1 0h11m1 0h5m1 0h3m1 0h1m1 0h4m1 0h2m1 0h7m1 0h2m14 0h1m-203 1h1m39 0h2m1 0h1m1 0h1m5 0h2m11 0h1m1 0h8m1 0h52m1 0h11m1 0h3m1 0h9m2 0h16m1 0h6m1 0h2m2 0h4m-187 1h1m33 0h1m2 0h1m1 0h2m4 0h2m3 0h1m8 0h1m1 0h2m2 0h1m2 0h3m1 0h57m1 0h4m1 0h14m1 0h10m1 0h3m1 0h2m1 0h11m1 0h2m1 0h3m-186 1h1m27 0h1m15 0h1m3 0h1m1 0h1m3 0h4m2 0h2m2 0h65m1 0h13m1 0h2m1 0h7m1 0h5m1 0h13m1 0h3m1 0h5m1 0h3m5 0h1m-194 1h1m34 0h1m7 0h1m2 0h2m2 0h2m3 0h3m1 0h3m1 0h2m1 0h5m1 0h69m1 0h5m1 0h8m1 0h6m1 0h14m1 0h8m4 0h1m6 0h1m-199 1h1m6 0h1m5 0h1m11 0h1m9 0h1m7 0h1m1 0h1m2 0h1m2 0h1m7 0h2m1 0h4m1 0h60m1 0h13m1 0h1m1 0h17m1 0h1m1 0h4m1 0h1m1 0h8m2 0h3m3 0h1m12 0h1m-201 1h1m15 0h1m6 0h1m7 0h1m2 0h1m9 0h1m16 0h6m3 0h58m1 0h21m1 0h26m1 0h3m1 0h2m1 0h1m10 0h1m-197 1h1m19 0h1m1 0h1m3 0h1m2 0h1m7 0h1m1 0h1m1 0h2m3 0h1m1 0h3m2 0h2m1 0h1m2 0h2m3 0h87m1 0h27m1 0h1m1 0h1m2 0h1m1 0h1m4 0h1m4 0h1m-198 1h1m17 0h1m4 0h1m14 0h2m3 0h3m1 0h1m2 0h1m4 0h5m3 0h95m1 0h1m1 0h18m1 0h4m2 0h2m2 0h3m5 0h1m-199 1h1m30 0h3m2 0h2m1 0h1m1 0h1m11 0h1m5 0h81m1 0h37m1 0h8m-187 1h1m14 0h1m23 0h1m2 0h2m4 0h2m1 0h2m1 0h1m1 0h1m1 0h1m1 0h1m1 0h66m1 0h6m1 0h2m1 0h24m1 0h4m1 0h8m1 0h2m1 0h2m1 0h2m-186 1h1m19 0h1m4 0h1m2 0h1m2 0h1m4 0h1m4 0h1m3 0h1m3 0h1m3 0h1m1 0h1m1 0h2m1 0h13m1 0h58m1 0h5m2 0h36m1 0h6m2 0h4m-189 1h1m25 0h1m6 0h1m1 0h1m1 0h1m1 0h2m2 0h1m1 0h3m1 0h2m1 0h4m1 0h2m1 0h1m1 0h2m1 0h106m1 0h13m1 0h1m2 0h2m1 0h1m-193 1h1m7 0h1m7 0h1m3 0h1m2 0h1m2 0h1m9 0h1m2 0h1m1 0h3m1 0h1m1 0h5m1 0h4m1 0h11m1 0h90m1 0h5m1 0h7m1 0h6m1 0h5m1 0h1m1 0h1m-191 1h1m1 0h1m2 0h1m14 0h1m6 0h1m2 0h1m5 0h2m8 0h1m1 0h2m2 0h2m1 0h65m1 0h46m2 0h11m1 0h8m1 0h1m-191 1h1m24 0h1m5 0h2m3 0h1m1 0h2m2 0h1m4 0h1m1 0h2m1 0h4m1 0h2m1 0h85m1 0h18m1 0h6m1 0h3m2 0h2m1 0h1m2 0h4m-187 1h1m30 0h1m4 0h1m6 0h1m9 0h3m1 0h3m1 0h1m1 0h88m1 0h2m1 0h22m1 0h7m1 0h2m1 0h2m-191 1h1m21 0h2m2 0h1m3 0h1m2 0h1m1 0h1m3 0h1m4 0h1m3 0h1m2 0h13m1 0h60m1 0h24m1 0h1m1 0h23m1 0h1m1 0h5m-184 1h1m31 0h1m6 0h1m1 0h1m3 0h1m3 0h1m1 0h1m1 0h13m1 0h78m1 0h15m1 0h9m1 0h16m-188 1h1m12 0h1m3 0h1m6 0h1m2 0h1m1 0h1m1 0h1m6 0h2m1 0h1m1 0h1m3 0h3m1 0h2m1 0h4m1 0h2m1 0h122m1 0h4m6 0h1m-196 1h1m13 0h1m8 0h1m9 0h1m8 0h1m4 0h1m2 0h9m1 0h6m1 0h83m1 0h36m1 0h2m4 0h1m-195 1h1m7 0h1m19 0h1m10 0h2m4 0h2m1 0h1m1 0h1m2 0h5m1 0h7m1 0h97m1 0h17m1 0h7m-190 1h1m18 0h1m8 0h1m1 0h1m7 0h2m1 0h1m2 0h1m1 0h1m3 0h1m2 0h109m1 0h12m1 0h5m1 0h3m6 0h1m10 0h1m-203 1h1m14 0h1m2 0h1m1 0h1m5 0h2m4 0h1m2 0h1m7 0h1m9 0h1m2 0h3m3 0h12m1 0h97m1 0h12m1 0h2m2 0h1m-191 1h1m5 0h1m23 0h1m3 0h1m2 0h1m1 0h1m2 0h1m1 0h1m3 0h1m1 0h4m1 0h1m2 0h9m1 0h64m1 0h3m1 0h13m1 0h10m1 0h24m2 0h2m-190 1h1m27 0h1m6 0h1m4 0h1m4 0h4m1 0h1m2 0h3m1 0h71m1 0h9m1 0h29m1 0h10m1 0h5m2 0h1m1 0h1m3 0h1m-194 1h1m10 0h1m4 0h1m11 0h1m2 0h1m2 0h1m4 0h1m7 0h2m1 0h7m1 0h1m1 0h6m1 0h81m1 0h8m1 0h14m1 0h6m1 0h2m1 0h2m1 0h1m4 0h1m-192 1h1m18 0h1m4 0h1m9 0h2m1 0h2m1 0h1m6 0h3m2 0h1m2 0h69m1 0h10m1 0h24m2 0h3m1 0h6m1 0h14m2 0h1m-190 1h1m19 0h1m17 0h1m1 0h2m3 0h1m3 0h1m3 0h4m2 0h4m1 0h1m1 0h1m1 0h56m1 0h15m1 0h7m1 0h16m1 0h1m1 0h7m1 0h1m1 0h1m1 0h5m1 0h2m-188 1h1m15 0h1m4 0h1m3 0h2m4 0h1m3 0h3m2 0h1m1 0h1m4 0h1m3 0h1m3 0h1m1 0h3m1 0h1m2 0h62m1 0h16m1 0h2m1 0h2m1 0h33m4 0h1m2 0h1m-191 1h1m11 0h1m2 0h1m19 0h1m1 0h2m6 0h1m1 0h3m2 0h2m1 0h11m1 0h2m1 0h51m1 0h7m1 0h17m1 0h2m1 0h19m1 0h7m4 0h2m1 0h1m4 0h1m3 0h1m-195 1h1m21 0h1m7 0h1m7 0h1m6 0h1m2 0h1m2 0h1m2 0h2m4 0h1m1 0h2m1 0h54m1 0h15m1 0h14m1 0h10m1 0h4m1 0h3m1 0h4m2 0h5m1 0h2m2 0h2m-189 1h1m31 0h1m3 0h2m14 0h1m1 0h6m1 0h2m1 0h4m1 0h82m1 0h4m1 0h4m1 0h6m1 0h5m1 0h1m1 0h1m1 0h2m3 0h1m1 0h2m2 0h1m-191 1h1m13 0h1m1 0h1m23 0h1m5 0h1m6 0h1m3 0h3m2 0h5m1 0h56m1 0h22m1 0h4m1 0h7m1 0h2m1 0h1m1 0h7m1 0h6m1 0h3m1 0h1m-186 1h1m33 0h3m3 0h1m4 0h1m4 0h1m2 0h1m2 0h1m1 0h1m4 0h3m2 0h61m2 0h1m1 0h4m1 0h1m1 0h11m1 0h2m1 0h1m1 0h6m1 0h10m1 0h4m1 0h2m7 0h1m-190 1h1m25 0h1m5 0h1m10 0h1m2 0h1m1 0h1m2 0h1m1 0h2m1 0h2m2 0h6m2 0h4m1 0h46m1 0h1m1 0h8m1 0h1m1 0h10m1 0h6m1 0h11m1 0h3m1 0h7m1 0h1m2 0h7m-185 1h1m27 0h2m9 0h1m1 0h1m4 0h1m2 0h1m6 0h2m5 0h1m2 0h7m1 0h59m1 0h3m1 0h1m1 0h11m1 0h5m3 0h5m1 0h2m1 0h1m3 0h1m1 0h3m1 0h1m1 0h2m-183 1h1m18 0h1m7 0h1m3 0h2m10 0h1m1 0h1m3 0h3m1 0h1m3 0h1m1 0h4m1 0h1m4 0h2m1 0h55m1 0h2m1 0h1m1 0h3m1 0h4m1 0h8m1 0h1m2 0h4m3 0h1m2 0h3m1 0h1m2 0h2m1 0h1m1 0h2m3 0h1m1 0h2m-185 1h1m30 0h1m8 0h1m1 0h1m4 0h1m3 0h1m6 0h2m1 0h1m1 0h1m1 0h4m1 0h1m1 0h5m1 0h46m2 0h3m1 0h1m1 0h1m1 0h1m1 0h1m1 0h2m1 0h1m1 0h5m3 0h8m2 0h5m2 0h3m4 0h2m1 0h2m2 0h1m3 0h1m1 0h1m-189 1h1m19 0h1m15 0h1m6 0h3m3 0h1m3 0h1m10 0h3m1 0h3m1 0h4m1 0h2m1 0h32m1 0h13m4 0h2m1 0h2m3 0h3m3 0h2m2 0h1m1 0h1m2 0h4m1 0h1m2 0h1m1 0h2m6 0h5m6 0h1m5 0h1m-189 1h1m28 0h1m1 0h1m1 0h2m3 0h1m1 0h3m3 0h1m1 0h1m3 0h2m1 0h1m4 0h2m3 0h2m1 0h1m1 0h4m2 0h42m1 0h7m1 0h5m3 0h1m1 0h1m4 0h1m1 0h1m2 0h3m2 0h1m6 0h2m5 0h1m2 0h2m1 0h2m7 0h1m4 0h1m2 0h1m-190 1h1m37 0h2m3 0h1m1 0h1m3 0h2m5 0h1m2 0h3m1 0h2m1 0h1m3 0h1m2 0h6m1 0h1m2 0h38m1 0h3m1 0h3m3 0h2m7 0h1m4 0h1m1 0h1m1 0h2m4 0h1m1 0h2m3 0h1m2 0h1m7 0h1m5 0h1m-181 1h1m25 0h1m28 0h1m1 0h2m2 0h2m2 0h3m2 0h1m1 0h1m1 0h4m1 0h40m1 0h5m1 0h2m1 0h4m1 0h2m3 0h1m2 0h2m3 0h1m7 0h2m4 0h1m2 0h3m10 0h1m-178 1h1m40 0h1m1 0h2m5 0h1m2 0h3m4 0h2m2 0h1m4 0h2m1 0h1m2 0h5m1 0h42m1 0h3m5 0h3m5 0h2m8 0h1m1 0h2m7 0h1m1 0h1m1 0h1m4 0h1m1 0h1m2 0h1m9 0h1m6 0h1m-193 1h1m25 0h1m18 0h1m5 0h1m13 0h2m5 0h1m1 0h6m1 0h7m1 0h29m2 0h6m2 0h1m3 0h1m1 0h1m3 0h1m1 0h2m2 0h1m11 0h2m6 0h1m3 0h2m1 0h1m2 0h2m1 0h1m7 0h1m-186 1h1m23 0h1m4 0h1m13 0h1m1 0h1m5 0h2m5 0h1m1 0h3m5 0h1m2 0h1m2 0h1m3 0h1m3 0h35m1 0h1m1 0h1m1 0h2m1 0h2m2 0h1m11 0h1m6 0h1m4 0h1m7 0h1m-162 1h1m27 0h1m8 0h1m17 0h1m3 0h1m1 0h1m5 0h2m1 0h1m3 0h2m1 0h2m3 0h4m1 0h28m1 0h2m1 0h1m1 0h2m7 0h2m2 0h1m1 0h1m23 0h2m2 0h1m9 0h1m2 0h1m3 0h1m3 0h1m-186 1h1m44 0h2m3 0h1m6 0h1m5 0h1m1 0h1m3 0h1m7 0h4m2 0h3m1 0h34m3 0h2m4 0h1m23 0h1m7 0h1m7 0h1m6 0h1m7 0h1m-186 1h1m53 0h2m1 0h2m1 0h1m1 0h3m2 0h1m9 0h1m3 0h2m2 0h27m1 0h6m4 0h1m4 0h1m6 0h1m10 0h1m33 0h1m-181 1h1m35 0h1m4 0h1m9 0h1m9 0h1m1 0h1m2 0h1m1 0h1m10 0h1m1 0h2m3 0h8m1 0h14m2 0h3m4 0h1m24 0h2m1 0h1m6 0h2m3 0h1m14 0h1m-174 1h1m48 0h1m7 0h2m4 0h1m1 0h1m1 0h1m1 0h1m4 0h1m4 0h1m1 0h1m2 0h3m2 0h22m1 0h1m1 0h1m9 0h1m1 0h1m3 0h1m11 0h1m2 0h1m12 0h1m16 0h1m6 0h1m-183 1h1m37 0h1m29 0h1m1 0h1m2 0h1m4 0h1m2 0h4m1 0h3m1 0h17m1 0h1m1 0h4m2 0h1m1 0h1m2 0h1m28 0h1m1 0h1m6 0h3m13 0h1m-118 1h1m16 0h1m7 0h1m4 0h1m2 0h2m2 0h5m1 0h5m1 0h2m2 0h1m3 0h2m40 0h1m-158 1h1m75 0h1m8 0h1m5 0h1m1 0h1m1 0h1m1 0h1m1 0h2m2 0h5m1 0h2m6 0h2m18 0h1m-69 1h1m8 0h1m10 0h1m1 0h1m3 0h5m3 0h6m1 0h1m3 0h1m59 0h1m-130 1h1m46 0h1m1 0h2m2 0h2m2 0h1m1 0h1m1 0h1m1 0h1m2 0h1m1 0h1m3 0h1m3 0h1m6 0h1m25 0h1m-98 1h1m17 0h2m16 0h1m1 0h4m7 0h1m2 0h1m47 0h1m2 0h1m-98 1h1m5 0h1m8 0h1m2 0h2m8 0h2m12 0h1m5 0h1m6 0h1m40 0h1m-68 1h1m12 0h1m-22 1h1m7 0h1m6 0h1m8 0h1m30 0h1m-33 2h1m-43 1h1m45 0h1m-15 2h1"/>
<path stroke="#0023ff" d="M96 166h13m-16 1h17m-18 1h20m-22 1h23m-24 1h25m-26 1h27m-28 1h29m-30 1h31m-32 1h33m-34 1h35m-35 1h37m-37 1h37m-41 1h2m2 0h37m-45 1h1m1 0h42m-45 1h45m-43 1h46m-123 1h1m75 0h48m-124 1h1m74 0h48m-123 1h1m72 0h50m-123 1h1m71 0h50m-122 1h1m73 0h48m-122 1h1m73 0h48m11 0h2m-135 1h1m73 0h49m5 0h1m5 0h2m-136 1h1m70 0h1m2 0h46m1 0h2m4 0h1m6 0h2m-136 1h1m69 0h2m2 0h50m-124 1h1m74 0h49m-124 1h1m68 0h2m4 0h46m-121 1h1m68 0h2m5 0h47m-123 1h1m75 0h49m7 0h1m-133 1h1m73 0h54m3 0h3m-134 1h1m72 0h50m8 0h3m-134 1h1m72 0h49m-122 1h1m72 0h1m1 0h46m-121 1h1m73 0h46m10 0h1m-131 1h1m72 0h47m2 0h2m6 0h2m-132 1h1m72 0h47m1 0h2m-123 1h1m72 0h47m1 0h1m-122 1h1m72 0h45m-118 1h1m73 0h2m2 0h40m-118 1h1m78 0h38m-117 1h1m79 0h37m-36 1h38m-35 1h32m-32 1h32m-32 1h31m-31 1h32m-32 1h32m-32 1h31m-30 1h27m-24 1h25m-24 1h24m-24 1h25m-24 1h23m-23 1h23m-21 1h19m-18 1h14m-13 1h11m-8 1h2"/>
<path stroke="#004bff" d="M101 166h3m-8 1h13m-16 1h2m1 0h15m-19 1h20m-22 1h23m-24 1h25m-25 1h26m-27 1h28m-29 1h30m-31 1h31m-32 1h33m-33 1h33m-33 1h33m-33 1h33m-34 1h34m-34 1h34m-40 1h1m2 0h38m-119 1h1m75 0h3m1 0h39m-119 1h1m74 0h44m-119 1h1m74 0h44m-119 1h1m74 0h1m1 0h43m-120 1h1m75 0h44m-120 1h1m76 0h42m-119 1h1m76 0h42m-119 1h1m76 0h43m-120 1h1m75 0h44m-120 1h1m76 0h43m-120 1h1m76 0h42m-119 1h1m77 0h42m-120 1h1m75 0h44m-120 1h1m74 0h46m-121 1h1m75 0h45m-121 1h1m76 0h43m-120 1h1m77 0h41m-119 1h1m77 0h1m2 0h38m-119 1h1m80 0h38m-119 1h1m83 0h34m-118 1h1m80 0h2m1 0h33m-117 1h1m79 0h4m1 0h31m-116 1h1m79 0h2m4 0h29m-115 1h1m80 0h1m3 0h30m-30 1h30m-30 1h30m-30 1h29m-28 1h28m-27 1h27m-26 1h25m-25 1h23m-22 1h22m-22 1h22m-21 1h22m-22 1h22m-21 1h21m-21 1h19m-18 1h15m-13 1h11m-9 1h4"/>
<path stroke="#0078ff" d="M101 167h5m-9 1h12m-13 1h15m-18 1h19m-21 1h22m-23 1h24m-25 1h26m-27 1h28m-28 1h28m-28 1h29m-29 1h29m-29 1h29m-31 1h32m-32 1h32m-32 1h32m-33 1h33m-118 1h1m81 0h1m2 0h33m-118 1h1m81 0h35m-117 1h1m81 0h35m-117 1h1m78 0h39m-118 1h1m81 0h36m-118 1h1m81 0h36m-118 1h1m80 0h37m-118 1h1m80 0h38m-119 1h1m80 0h38m-119 1h1m78 0h40m-119 1h1m79 0h2m2 0h35m-119 1h1m79 0h2m2 0h34m-118 1h1m83 0h34m-118 1h1m83 0h34m-118 1h1m83 0h34m-118 1h1m83 0h33m-117 1h1m83 0h34m-118 1h1m82 0h35m-118 1h1m84 0h33m-118 1h1m85 0h30m-116 1h1m85 0h30m-116 1h1m86 0h28m-115 1h1m85 0h28m-28 1h28m-28 1h28m-28 1h3m1 0h24m-28 1h28m-27 1h26m-25 1h23m-22 1h21m-19 1h19m-19 1h17m1 0h1m-20 1h20m-20 1h21m-18 1h18m-18 1h9m4 0h4m-16 1h3m2 0h4m-8 1h2m3 0h2m-6 1h1m4 0h1"/>
<path stroke="#00a5ff" d="M102 167h1m-3 1h6m-8 1h11m-13 1h14m-16 1h17m-21 1h23m-23 1h24m-25 1h25m-25 1h26m-26 1h27m-27 1h27m-27 1h27m-27 1h28m-29 1h29m-29 1h29m-29 1h29m-29 1h28m-116 1h1m87 0h28m-116 1h1m84 0h1m3 0h27m-116 1h1m84 0h2m2 0h28m-117 1h1m84 0h32m-117 1h1m85 0h31m-117 1h1m84 0h32m-117 1h1m82 0h1m1 0h32m-117 1h1m83 0h33m-117 1h1m86 0h30m-117 1h1m86 0h30m-117 1h1m86 0h30m-117 1h1m84 0h31m-116 1h1m84 0h32m-117 1h1m85 0h31m-117 1h1m85 0h1m1 0h29m-117 1h1m85 0h30m-116 1h1m85 0h2m1 0h27m-116 1h1m87 0h27m-115 1h1m86 0h28m-115 1h1m87 0h27m-115 1h1m88 0h23m-112 1h1m88 0h24m-23 1h23m-22 1h19m1 0h2m-22 1h19m1 0h2m-22 1h19m-19 1h19m-18 1h17m-17 1h17m-17 1h15m-15 1h15m-15 1h15m-11 1h10m-9 1h1m1 0h2"/>
<path stroke="#00d2ff" d="M102 168h3m-4 1h5m-7 1h10m-13 1h14m-15 1h17m-22 1h23m-23 1h23m-23 1h24m-24 1h25m-25 1h25m-24 1h24m-25 1h26m-27 1h27m-27 1h27m-27 1h26m-26 1h25m-24 1h25m-115 1h1m89 0h25m-115 1h1m89 0h26m-116 1h1m90 0h25m-116 1h1m90 0h25m-116 1h1m90 0h24m-115 1h1m89 0h26m-116 1h1m87 0h28m-116 1h1m87 0h27m-115 1h1m87 0h27m-115 1h1m88 0h26m-115 1h1m89 0h25m-115 1h1m89 0h25m-115 1h1m90 0h24m-115 1h1m90 0h24m-115 1h1m90 0h24m-115 1h1m90 0h23m-114 1h1m91 0h22m-114 1h1m90 0h21m1 0h1m-114 1h1m90 0h20m-111 1h1m90 0h20m-19 1h18m-19 1h17m-17 1h17m-16 1h4m1 0h11m-14 1h14m-13 1h13m-13 1h12m-12 1h12m-12 1h11m-8 1h1m1 0h6m-5 1h1m2 0h1"/>
<path stroke="#00faf5" d="M102 169h3m-4 1h7m-11 1h12m-13 1h13m-14 1h16m-17 1h18m-19 1h20m-21 1h22m-22 1h22m-23 1h23m-23 1h24m-24 1h24m-25 1h25m-25 1h24m-24 1h24m-23 1h23m-23 1h24m-23 1h23m-115 1h1m91 0h22m-114 1h1m91 0h21m-113 1h1m91 0h22m-114 1h1m91 0h22m-114 1h1m91 0h23m-115 1h1m91 0h23m-24 1h24m-115 1h1m89 0h24m-114 1h1m90 0h23m-114 1h1m92 0h21m-114 1h1m92 0h21m-114 1h1m91 0h21m-113 1h1m91 0h21m-113 1h1m92 0h18m-111 1h1m92 0h17m-110 1h1m93 0h17m-111 1h1m93 0h1m2 0h13m-13 1h13m-14 1h12m-13 1h12m-9 1h7m-4 1h4m-3 1h4m-3 1h3m-2 1h2"/>
<path stroke="#00ffa0" d="M102 170h1m-3 1h8m-12 1h13m-13 1h14m-15 1h16m-17 1h18m-18 1h19m-20 1h20m-21 1h21m-21 1h21m-21 1h21m-21 1h22m-21 1h20m-20 1h20m-19 1h19m-19 1h19m-19 1h20m-21 1h20m-20 1h20m-20 1h19m-19 1h19m-19 1h19m1 0h1m-21 1h19m-20 1h22m-22 1h21m-113 1h1m92 0h20m-113 1h1m92 0h21m-114 1h1m93 0h19m-20 1h20m-20 1h18m-111 1h1m93 0h16m-16 1h16m-13 1h13m-13 1h12m-11 1h10m-8 1h7m-4 1h1"/>
<path stroke="#00ff32" d="M102 171h5m-8 1h9m-11 1h12m-13 1h15m-16 1h16m-16 1h17m-18 1h18m-19 1h19m-19 1h19m-20 1h21m-20 1h20m-19 1h19m-18 1h17m-17 1h17m-17 1h17m-17 1h17m-18 1h18m-18 1h18m-18 1h16m-16 1h18m-18 1h17m-18 1h18m-18 1h18m-18 1h19m-18 1h19m-19 1h19m-19 1h18m-18 1h18m-17 1h16m-16 1h15m-15 1h1m1 0h12m-11 1h11m-11 1h10m-9 1h8"/>
<path stroke="#3cff00" d="M100 173h2m1 0h4m-8 1h9m-11 1h12m-13 1h14m-15 1h15m-15 1h16m-17 1h17m-17 1h17m-15 1h16m-16 1h15m-15 1h15m-14 1h13m-11 1h11m-11 1h10m-11 1h11m-13 1h12m-13 1h13m-13 1h13m-12 1h13m-13 1h13m-14 1h15m-15 1h15m-15 1h16m-15 1h15m-15 1h15m-15 1h14m-12 1h11m-10 1h9m-9 1h9m-7 1h1m3 0h3"/>
<path stroke="#a0ff00" d="M104 174h2m-7 1h8m-9 1h11m-12 1h12m-11 1h12m-12 1h12m-13 1h14m-14 1h13m-13 1h13m-12 1h11m-9 1h8m-8 1h8m-8 1h8m-8 1h7m-8 1h8m-8 1h8m-8 1h8m-9 1h9m-9 1h10m-10 1h10m-11 1h11m-11 1h11m-10 1h10m1 0h1m-12 1h10m-9 1h9m-9 1h7m-6 1h6"/>
<path stroke="#f0fa00" d="M100 175h1m2 0h3m-7 1h8m-8 1h8m-8 1h10m-11 1h12m-12 1h12m-12 1h11m-11 1h11m-10 1h9m-8 1h7m-6 1h6m-6 1h4m-4 1h4m-5 1h6m-6 1h4m-4 1h6m-6 1h7m-8 1h8m-9 1h9m-9 1h9m-9 1h9m-9 1h9m-6 1h6m-6 1h5m-5 1h4m-4 1h3"/>
<path stroke="#ffc300" d="M100 176h1m2 0h3m-6 1h7m-8 1h9m-9 1h10m-10 1h11m-12 1h11m-11 1h8m1 0h2m-8 1h6m-6 1h6m-6 1h4m1 0h1m-6 1h3m-1 1h1m-3 1h1m1 0h1m-1 1h1m-3 1h3m-3 1h5m-5 1h6m-8 1h8m-8 1h8m-8 1h7m-5 1h5m-5 1h5m-5 1h4m-3 1h3"/>
<path stroke="#ff7300" d="M103 176h3m-6 1h6m-7 1h8m-8 1h10m-10 1h10m-9 1h9m-8 1h4m-4 1h4m-4 1h4m1 0h1m-6 1h4m-4 1h3m-3 5h4m-3 1h5m-8 1h2m1 0h5m-8 1h8m-8 1h6m-3 1h3m-3 1h4m-4 1h3m-3 1h2"/>
<path stroke="#ff2800" d="M104 176h1m-2 1h3m-7 1h7m-7 1h7m-6 1h8m-7 1h7m-6 1h3m-4 1h4m-4 1h4m-4 1h3m-2 6h2m-2 1h5m-5 1h4m-6 1h5m-4 1h3m-2 1h3m-3 1h4m-3 1h2m-2 1h1"/>
</g>
<path d="M542.5 948.5L552.1 948.5M542.5 868.4L552.1 868.4M542.5 788.3L552.1 788.3M542.5 708.2L552.1 708.2M542.5 628.1L552.1 628.1" stroke="#222" stroke-width="1.2" fill="none"/>
<path d="M547.9 921.8L552.1 921.8M547.9 895.1L552.1 895.1M547.9 841.7L552.1 841.7M547.9 815.0L552.1 815.0M547.9 761.6L552.1 761.6M547.9 734.9L552.1 734.9M547.9 681.5L552.1 681.5M547.9 654.8L552.1 654.8" stroke="#222" stroke-width="1.1" fill="none"/>
<path d="M577.5 949.2L577.5 958.8M628.2 949.2L628.2 958.8M678.8 949.2L678.8 958.8M729.5 949.2L729.5 958.8M780.2 949.2L780.2 958.8M830.9 949.2L830.9 958.8M881.5 949.2L881.5 958.8" stroke="#222" stroke-width="1.3" fill="none"/>
<path d="M562.2 949.2L562.2 956.2M612.9 949.2L612.9 956.2M663.6 949.2L663.6 956.2M714.3 949.2L714.3 956.2M764.9 949.2L764.9 956.2M815.6 949.2L815.6 956.2M866.3 949.2L866.3 956.2" stroke="#222" stroke-width="1.2" fill="none"/>
<path d="M557.3 949.2L557.3 953.6M566.3 949.2L566.3 953.6M569.7 949.2L569.7 953.6M572.6 949.2L572.6 953.6M575.2 949.2L575.2 953.6M592.8 949.2L592.8 953.6M601.7 949.2L601.7 953.6M608.0 949.2L608.0 953.6M616.9 949.2L616.9 953.6M620.3 949.2L620.3 953.6M623.3 949.2L623.3 953.6M625.9 949.2L625.9 953.6M643.4 949.2L643.4 953.6M652.3 949.2L652.3 953.6M658.7 949.2L658.7 953.6M667.6 949.2L667.6 953.6M671.0 949.2L671.0 953.6M673.9 949.2L673.9 953.6M676.5 949.2L676.5 953.6M694.1 949.2L694.1 953.6M703.0 949.2L703.0 953.6M709.3 949.2L709.3 953.6M718.3 949.2L718.3 953.6M721.7 949.2L721.7 953.6M724.6 949.2L724.6 953.6M727.2 949.2L727.2 953.6M744.8 949.2L744.8 953.6M753.7 949.2L753.7 953.6M760.0 949.2L760.0 953.6M768.9 949.2L768.9 953.6M772.3 949.2L772.3 953.6M775.3 949.2L775.3 953.6M777.9 949.2L777.9 953.6M795.4 949.2L795.4 953.6M804.4 949.2L804.4 953.6M810.7 949.2L810.7 953.6M819.6 949.2L819.6 953.6M823.0 949.2L823.0 953.6M825.9 949.2L825.9 953.6M828.5 949.2L828.5 953.6M846.1 949.2L846.1 953.6M855.0 949.2L855.0 953.6M861.4 949.2L861.4 953.6M870.3 949.2L870.3 953.6M873.7 949.2L873.7 953.6M876.6 949.2L876.6 953.6M879.2 949.2L879.2 953.6" stroke="#222" stroke-width="1.2" fill="none"/>
<text x="538.9" y="879.9" font-size="23.2" text-anchor="end">300K</text>
<text x="538.9" y="799.8" font-size="23.2" text-anchor="end">600K</text>
<text x="538.9" y="719.7" font-size="23.2" text-anchor="end">900K</text>
<text x="538.9" y="639.6" font-size="23.2" text-anchor="end">1.2M</text>
<text x="519.5" y="954.8" font-size="23.2" text-anchor="end">0</text>
<text x="567.7" y="981.7" font-size="23.2">10<tspan dy="-11.1" dx="-1.4" font-size="20.2">1</tspan></text>
<text x="669.1" y="981.7" font-size="23.2">10<tspan dy="-11.1" dx="-3.0" font-size="20.2">3</tspan></text>
<text x="770.5" y="981.7" font-size="23.2">10<tspan dy="-11.1" dx="-3.0" font-size="20.2">5</tspan></text>
<text x="864.3" y="981.7" font-size="23.2">10<tspan dy="-11.1" dx="-3.0" font-size="20.2">7</tspan></text>
<text x="721.0" y="595.7" font-size="23.3" text-anchor="middle" font-weight="bold">Control</text>
<rect x="740.8" y="798.8" width="101.7" height="125.6" fill="none" stroke="#000" stroke-width="1.5"/>
<text x="792.3" y="787.1" font-size="23.2" text-anchor="middle">3.88%</text>
<path d="M973.4 607.5L973.4 949.2" stroke="#707070" stroke-width="1.9" fill="none"/>
<path d="M1315.8 607.5L1315.8 949.2" stroke="#444" stroke-width="1.0" fill="none"/>
<path d="M972.5 607.5L1316.3 607.5" stroke="#444" stroke-width="1.0" fill="none"/>
<path d="M972.5 949.4L1316.3 949.4" stroke="#444" stroke-width="1.3" fill="none"/>
<g transform="translate(973.30 608.17) scale(1.3371 1.3348)" fill="none" stroke-width="1.04">
<path stroke="#0000ff" d="M174 142h1m3 3h1m5 0h1m-74 1h1m78 0h1m-83 1h2m0 1h1m1 0h4m1 0h1m76 0h1m-90 1h1m3 0h2m1 0h1m2 0h1m2 0h2m38 0h1m45 0h1m-99 1h1m1 0h1m1 0h2m2 0h2m1 0h2m1 0h2m51 0h1m-72 1h1m2 0h1m1 0h1m1 0h7m1 0h1m2 0h1m31 0h1m-49 1h10m1 0h2m1 0h1m2 0h1m32 0h1m18 0h2m2 0h1m2 0h1m7 0h1m9 0h1m-93 1h3m2 0h1m1 0h2m1 0h2m1 0h1m2 0h1m54 0h1m12 0h1m8 0h1m-96 1h1m2 0h10m1 0h3m50 0h1m-69 1h1m2 0h11m2 0h2m36 0h1m8 0h1m2 0h1m8 0h1m3 0h1m2 0h1m-98 1h1m17 0h4m2 0h4m1 0h4m46 0h1m5 0h2m12 0h2m-91 1h1m5 0h11m1 0h1m58 0h1m1 0h2m6 0h1m2 0h1m-99 1h2m2 0h2m2 0h1m2 0h3m6 0h2m1 0h8m24 0h1m7 0h1m22 0h1m3 0h2m14 0h1m-129 1h1m23 0h2m2 0h1m10 0h1m1 0h1m1 0h1m1 0h1m1 0h2m2 0h2m1 0h1m19 0h1m15 0h1m8 0h1m20 0h1m2 0h1m-103 1h1m1 0h1m2 0h3m1 0h1m4 0h2m2 0h1m1 0h2m2 0h6m20 0h1m15 0h1m14 0h1m3 0h1m10 0h2m2 0h1m2 0h1m6 0h1m-200 1h1m86 0h1m3 0h1m1 0h1m1 0h3m2 0h5m1 0h2m2 0h3m1 0h1m22 0h1m19 0h1m11 0h1m1 0h1m1 0h1m9 0h1m1 0h2m-108 1h1m2 0h1m2 0h1m2 0h1m1 0h3m1 0h2m1 0h1m1 0h3m1 0h1m1 0h1m1 0h2m1 0h1m2 0h1m1 0h2m14 0h1m27 0h1m13 0h1m1 0h1m-105 1h1m8 0h1m3 0h1m7 0h4m1 0h1m1 0h4m1 0h3m4 0h3m8 0h2m9 0h1m17 0h1m12 0h1m7 0h4m1 0h2m2 0h1m4 0h1m-187 1h1m78 0h3m4 0h2m2 0h4m1 0h12m1 0h2m1 0h2m1 0h1m3 0h1m11 0h1m3 0h1m11 0h1m2 0h1m7 0h1m10 0h1m12 0h1m4 0h2m5 0h1m2 0h1m18 0h1m-152 1h1m12 0h1m1 0h4m1 0h11m1 0h10m1 0h9m2 0h1m22 0h1m1 0h1m4 0h1m1 0h1m6 0h1m6 0h1m4 0h1m2 0h1m20 0h1m1 0h1m-196 1h1m72 0h1m3 0h4m2 0h3m1 0h1m1 0h4m1 0h3m1 0h17m5 0h2m9 0h2m9 0h1m13 0h1m4 0h1m2 0h5m5 0h1m-175 1h1m49 0h1m21 0h1m5 0h2m1 0h1m1 0h32m4 0h1m1 0h1m5 0h1m8 0h1m5 0h1m1 0h1m7 0h1m2 0h1m1 0h1m5 0h2m5 0h1m1 0h2m1 0h1m5 0h1m2 0h1m6 0h1m-192 1h1m41 0h1m5 0h1m9 0h1m2 0h1m12 0h2m1 0h2m2 0h1m1 0h1m1 0h30m1 0h3m2 0h3m7 0h1m6 0h2m2 0h1m1 0h4m1 0h1m3 0h1m1 0h1m2 0h2m3 0h1m1 0h1m1 0h4m1 0h5m1 0h1m4 0h1m1 0h1m1 0h1m-188 1h1m60 0h1m2 0h1m1 0h2m2 0h1m1 0h1m3 0h7m1 0h30m1 0h2m2 0h1m3 0h4m10 0h1m4 0h4m9 0h2m2 0h1m3 0h7m1 0h1m1 0h2m1 0h1m1 0h1m11 0h1m1 0h3m-195 1h1m40 0h1m10 0h1m2 0h1m2 0h2m4 0h1m7 0h2m2 0h3m1 0h4m1 0h36m2 0h3m5 0h2m1 0h1m1 0h4m1 0h1m1 0h4m2 0h8m1 0h2m1 0h1m1 0h5m1 0h7m5 0h1m2 0h1m7 0h1m-193 1h1m43 0h1m17 0h2m3 0h1m1 0h2m6 0h1m1 0h1m1 0h34m1 0h5m1 0h1m1 0h5m1 0h1m1 0h2m1 0h3m1 0h2m1 0h5m1 0h9m1 0h5m1 0h3m1 0h7m1 0h5m1 0h2m3 0h2m2 0h1m-192 1h1m50 0h2m5 0h1m2 0h3m2 0h1m1 0h3m1 0h1m1 0h6m1 0h39m1 0h2m2 0h3m2 0h1m3 0h1m2 0h3m2 0h3m2 0h2m1 0h3m2 0h2m1 0h2m1 0h7m1 0h3m1 0h3m5 0h5m2 0h1m5 0h1m9 0h1m-205 1h1m33 0h1m16 0h1m2 0h1m3 0h1m2 0h1m1 0h1m3 0h2m3 0h2m1 0h41m1 0h5m1 0h2m1 0h2m2 0h1m1 0h1m2 0h1m1 0h1m2 0h4m1 0h5m1 0h23m1 0h2m1 0h2m3 0h1m1 0h2m3 0h1m2 0h1m2 0h1m-197 1h1m50 0h5m1 0h1m4 0h1m7 0h2m1 0h4m1 0h41m1 0h3m1 0h1m1 0h3m1 0h6m1 0h1m1 0h1m2 0h7m1 0h7m1 0h2m1 0h15m1 0h2m1 0h1m1 0h2m1 0h2m7 0h1m-195 1h1m27 0h1m6 0h1m1 0h1m11 0h2m4 0h1m1 0h1m1 0h2m2 0h2m2 0h5m1 0h48m2 0h8m1 0h20m1 0h12m1 0h10m2 0h3m3 0h1m3 0h1m3 0h2m-194 1h1m11 0h1m4 0h1m5 0h1m7 0h1m3 0h2m10 0h1m6 0h1m4 0h4m1 0h2m1 0h60m1 0h4m2 0h2m2 0h18m1 0h1m1 0h10m2 0h3m1 0h5m1 0h3m9 0h1m-194 1h1m43 0h6m9 0h1m5 0h1m1 0h60m1 0h4m1 0h2m1 0h36m1 0h10m2 0h1m-186 1h1m21 0h1m8 0h1m5 0h1m4 0h1m5 0h1m8 0h4m2 0h1m1 0h1m2 0h1m1 0h5m1 0h50m2 0h2m2 0h11m1 0h39m2 0h3m-188 1h1m25 0h1m4 0h1m7 0h1m4 0h1m5 0h1m3 0h1m5 0h1m6 0h63m1 0h19m1 0h7m1 0h8m1 0h2m1 0h14m5 0h1m-191 1h1m16 0h1m5 0h1m6 0h1m3 0h2m2 0h1m5 0h2m2 0h1m2 0h1m1 0h1m4 0h2m2 0h2m1 0h2m1 0h120m2 0h1m3 0h1m8 0h1m-204 1h1m5 0h1m19 0h1m5 0h2m5 0h2m8 0h2m1 0h1m3 0h1m1 0h2m1 0h2m2 0h1m1 0h77m1 0h8m1 0h3m1 0h23m2 0h1m9 0h1m3 0h1m-198 1h1m12 0h1m12 0h1m4 0h2m4 0h1m3 0h1m5 0h2m2 0h6m4 0h76m1 0h5m2 0h41m-186 1h1m22 0h1m1 0h1m8 0h1m2 0h1m1 0h1m1 0h3m1 0h1m1 0h1m6 0h2m2 0h1m1 0h1m1 0h2m1 0h55m1 0h14m1 0h2m1 0h32m1 0h15m6 0h1m5 0h1m-200 1h1m29 0h1m1 0h1m5 0h1m3 0h2m1 0h2m1 0h1m6 0h2m2 0h2m1 0h59m1 0h22m1 0h2m1 0h1m1 0h32m1 0h4m1 0h1m-189 1h1m6 0h2m12 0h1m8 0h1m3 0h1m1 0h2m5 0h2m1 0h1m2 0h1m3 0h3m1 0h4m1 0h7m1 0h82m1 0h33m1 0h1m5 0h2m-195 1h1m15 0h1m5 0h3m4 0h1m2 0h1m3 0h1m2 0h1m1 0h2m4 0h1m1 0h1m2 0h1m1 0h2m1 0h2m2 0h2m1 0h87m1 0h19m1 0h1m1 0h2m1 0h2m1 0h6m5 0h1m-192 1h1m30 0h1m5 0h2m1 0h2m1 0h1m2 0h3m1 0h1m1 0h6m1 0h65m1 0h36m2 0h10m1 0h7m1 0h6m1 0h1m-190 1h1m32 0h1m17 0h1m1 0h6m4 0h93m1 0h26m1 0h2m2 0h1m3 0h1m-193 1h1m14 0h1m8 0h2m1 0h1m5 0h1m1 0h1m1 0h1m1 0h1m1 0h2m2 0h1m1 0h1m2 0h1m1 0h13m1 0h112m1 0h9m1 0h1m-190 1h1m18 0h1m14 0h1m3 0h1m5 0h1m7 0h1m1 0h3m1 0h84m1 0h30m3 0h6m1 0h1m1 0h3m-188 1h1m13 0h2m11 0h1m1 0h1m3 0h1m2 0h1m3 0h1m4 0h2m1 0h2m1 0h2m2 0h2m3 0h101m1 0h15m1 0h5m1 0h1m1 0h1m1 0h1m1 0h1m-191 1h1m14 0h2m7 0h1m6 0h1m2 0h1m8 0h1m4 0h1m2 0h1m1 0h2m2 0h1m1 0h4m1 0h83m1 0h19m1 0h1m1 0h17m-187 1h1m26 0h1m10 0h1m5 0h2m2 0h1m1 0h1m1 0h6m1 0h90m1 0h8m1 0h13m1 0h9m1 0h1m3 0h1m2 0h1m7 0h1m-199 1h1m23 0h1m2 0h1m4 0h1m1 0h3m1 0h1m2 0h1m1 0h3m3 0h3m1 0h12m1 0h6m1 0h84m1 0h5m2 0h8m1 0h3m1 0h6m1 0h2m1 0h2m6 0h1m-197 1h1m6 0h1m15 0h1m1 0h1m1 0h1m7 0h2m4 0h1m2 0h1m1 0h1m1 0h1m3 0h4m1 0h2m1 0h11m1 0h81m1 0h7m1 0h23m3 0h3m-191 1h1m13 0h1m3 0h1m6 0h1m3 0h1m3 0h2m2 0h1m1 0h1m2 0h1m1 0h1m2 0h1m3 0h3m1 0h1m1 0h87m2 0h17m1 0h9m1 0h7m1 0h3m1 0h1m-187 1h1m6 0h1m9 0h1m1 0h1m4 0h1m12 0h1m5 0h1m2 0h1m1 0h3m1 0h5m1 0h84m1 0h23m1 0h11m1 0h2m1 0h3m3 0h1m1 0h1m-191 1h1m31 0h2m2 0h1m1 0h1m1 0h3m2 0h3m2 0h5m2 0h1m1 0h1m1 0h2m1 0h108m1 0h7m1 0h5m1 0h1m1 0h1m-190 1h1m5 0h1m12 0h1m11 0h1m4 0h1m5 0h1m2 0h1m2 0h1m3 0h6m1 0h80m1 0h9m1 0h29m1 0h1m1 0h4m1 0h2m-189 1h1m21 0h1m2 0h2m5 0h1m2 0h1m1 0h1m6 0h1m2 0h3m3 0h3m1 0h3m1 0h90m1 0h4m1 0h12m1 0h13m1 0h4m1 0h1m-190 1h1m26 0h1m2 0h1m3 0h1m7 0h1m4 0h1m3 0h2m1 0h1m2 0h1m1 0h9m1 0h2m1 0h57m1 0h14m2 0h1m1 0h39m2 0h1m3 0h1m-194 1h1m27 0h1m1 0h2m1 0h1m15 0h1m1 0h1m3 0h1m2 0h10m1 0h8m1 0h87m1 0h8m1 0h7m1 0h3m2 0h1m-189 1h1m5 0h1m4 0h1m4 0h1m4 0h1m9 0h1m6 0h2m6 0h2m2 0h2m1 0h1m1 0h8m1 0h91m1 0h11m1 0h13m2 0h4m2 0h1m5 0h1m-196 1h1m25 0h1m5 0h1m1 0h1m3 0h1m2 0h1m7 0h1m1 0h1m1 0h6m1 0h2m1 0h85m1 0h8m1 0h5m1 0h19m1 0h4m3 0h2m-193 1h1m11 0h1m3 0h1m1 0h2m3 0h1m7 0h1m4 0h1m2 0h1m2 0h2m6 0h1m2 0h4m1 0h5m1 0h2m1 0h68m1 0h43m1 0h3m2 0h1m3 0h1m2 0h1m-193 1h1m4 0h1m5 0h1m24 0h1m12 0h2m1 0h2m1 0h2m1 0h2m1 0h4m1 0h2m1 0h82m1 0h7m1 0h7m1 0h7m1 0h7m12 0h1m-196 1h1m31 0h1m9 0h1m10 0h2m1 0h1m1 0h2m1 0h1m1 0h62m1 0h11m1 0h46m1 0h2m7 0h1m-171 1h1m4 0h3m1 0h1m7 0h1m6 0h2m4 0h10m2 0h2m1 0h4m1 0h53m1 0h38m1 0h1m1 0h11m2 0h1m1 0h1m-185 1h1m7 0h1m5 0h1m13 0h1m6 0h1m4 0h1m7 0h1m3 0h1m2 0h2m1 0h1m4 0h1m2 0h11m1 0h68m1 0h8m2 0h1m2 0h1m1 0h1m1 0h5m3 0h1m1 0h5m1 0h3m3 0h1m1 0h1m-189 1h1m14 0h1m22 0h1m1 0h1m4 0h1m4 0h1m2 0h2m2 0h4m3 0h2m1 0h61m1 0h8m1 0h14m1 0h3m2 0h2m1 0h1m1 0h4m1 0h6m1 0h3m1 0h3m3 0h1m-186 1h1m17 0h1m6 0h1m5 0h1m20 0h2m2 0h4m3 0h71m2 0h7m1 0h2m1 0h13m1 0h6m1 0h6m2 0h8m2 0h1m-187 1h1m27 0h1m2 0h1m7 0h1m9 0h1m3 0h1m1 0h1m1 0h3m2 0h4m1 0h57m1 0h6m1 0h1m1 0h4m1 0h2m1 0h3m3 0h5m1 0h1m1 0h1m1 0h1m1 0h5m1 0h5m1 0h7m2 0h1m-177 1h1m16 0h1m15 0h1m2 0h3m4 0h1m7 0h1m1 0h3m1 0h1m2 0h5m1 0h10m1 0h36m1 0h7m1 0h3m1 0h2m2 0h8m1 0h1m1 0h3m1 0h1m1 0h2m2 0h4m1 0h1m1 0h2m2 0h4m1 0h1m2 0h1m1 0h2m1 0h1m1 0h1m2 0h1m8 0h1m1 0h1m-197 1h1m4 0h1m36 0h2m4 0h1m3 0h1m4 0h4m1 0h2m1 0h1m2 0h54m1 0h6m2 0h3m2 0h5m2 0h3m1 0h1m3 0h3m4 0h1m1 0h2m2 0h2m2 0h1m1 0h2m7 0h1m3 0h3m3 0h1m-190 1h1m52 0h2m3 0h2m1 0h1m2 0h1m1 0h1m1 0h2m1 0h8m1 0h38m1 0h1m1 0h2m1 0h2m1 0h2m1 0h5m4 0h4m5 0h1m1 0h2m3 0h1m7 0h4m4 0h1m3 0h1m1 0h1m1 0h1m6 0h1m2 0h1m2 0h1m-193 1h1m38 0h1m8 0h1m1 0h1m2 0h2m2 0h1m9 0h5m1 0h4m1 0h1m1 0h44m1 0h2m1 0h1m2 0h1m3 0h1m6 0h2m1 0h1m1 0h1m1 0h1m2 0h3m3 0h1m7 0h2m2 0h1m1 0h1m8 0h1m3 0h1m-186 1h1m37 0h2m4 0h1m1 0h2m12 0h1m5 0h4m2 0h3m2 0h4m1 0h37m1 0h2m2 0h1m2 0h1m1 0h1m8 0h1m2 0h1m8 0h2m1 0h1m4 0h1m1 0h1m2 0h2m5 0h2m13 0h1m-186 1h1m32 0h1m9 0h2m6 0h1m1 0h2m1 0h2m2 0h1m2 0h2m2 0h3m1 0h9m1 0h40m1 0h1m1 0h2m1 0h1m2 0h4m1 0h1m1 0h1m7 0h2m11 0h2m1 0h1m2 0h2m8 0h1m10 0h2m-187 1h1m30 0h1m5 0h1m4 0h1m1 0h1m1 0h1m6 0h1m4 0h1m1 0h2m7 0h5m1 0h2m1 0h3m1 0h28m1 0h7m2 0h2m1 0h1m2 0h1m1 0h3m7 0h1m2 0h1m8 0h1m14 0h4m2 0h2m5 0h1m7 0h1m-187 1h1m38 0h1m6 0h1m2 0h1m4 0h1m1 0h1m8 0h1m3 0h1m9 0h37m1 0h4m3 0h1m14 0h1m2 0h1m4 0h1m8 0h1m21 0h1m-179 1h1m45 0h1m3 0h1m5 0h2m3 0h1m4 0h1m2 0h2m2 0h1m1 0h1m2 0h42m3 0h3m6 0h1m18 0h3m1 0h1m3 0h1m4 0h1m14 0h1m6 0h1m-187 1h1m32 0h1m9 0h1m3 0h2m1 0h1m11 0h1m3 0h1m7 0h3m2 0h3m1 0h5m1 0h25m1 0h2m4 0h1m5 0h1m20 0h3m15 0h1m-167 1h1m37 0h1m19 0h1m1 0h1m4 0h1m3 0h1m3 0h2m1 0h1m1 0h2m2 0h2m1 0h34m1 0h1m3 0h1m3 0h2m4 0h1m5 0h1m7 0h1m10 0h1m-160 1h1m13 0h1m29 0h1m12 0h1m7 0h1m1 0h3m4 0h1m3 0h1m4 0h2m1 0h19m1 0h4m1 0h2m1 0h2m1 0h1m23 0h1m5 0h1m11 0h1m19 0h1m1 0h1m2 0h1m-185 1h1m49 0h1m4 0h1m4 0h1m7 0h3m8 0h1m3 0h2m1 0h6m1 0h16m1 0h2m1 0h4m11 0h1m13 0h1m23 0h1m10 0h1m-142 1h1m20 0h1m9 0h1m6 0h1m5 0h3m4 0h4m1 0h3m1 0h2m1 0h5m1 0h2m2 0h4m1 0h3m9 0h1m5 0h1m1 0h1m22 0h1m2 0h1m4 0h1m-166 1h1m55 0h1m3 0h1m1 0h1m5 0h1m12 0h1m2 0h1m3 0h2m1 0h8m1 0h2m1 0h6m4 0h1m3 0h1m3 0h1m24 0h2m1 0h1m2 0h1m-153 1h1m59 0h1m6 0h1m9 0h1m2 0h1m1 0h1m5 0h3m2 0h2m1 0h4m2 0h1m1 0h2m3 0h1m1 0h1m3 0h1m9 0h1m31 0h1m-79 1h1m7 0h1m1 0h4m1 0h2m3 0h1m1 0h1m1 0h1m1 0h4m5 0h1m3 0h2m12 0h1m3 0h1m-96 1h1m11 0h1m5 0h1m24 0h1m8 0h2m1 0h2m1 0h1m1 0h1m3 0h3m2 0h2m3 0h1m33 0h1m28 0h1m-86 1h1m6 0h2m5 0h1m2 0h1m17 0h1m-72 1h1m21 0h1m7 0h1m3 0h2m4 0h1m4 0h1m7 0h1m3 0h1m40 0h1m19 0h1m-89 1h1m8 0h1m1 0h1m4 0h1m5 0h1m1 0h1m3 0h1m34 0h1m-54 1h1m75 0h1m-88 1h1m9 0h1m59 1h1m-45 1h1m-64 1h1m8 1h1"/>
<path stroke="#0023ff" d="M98 167h7m-11 1h12m-15 1h20m-21 1h22m-24 1h24m-26 1h27m-30 1h31m-32 1h33m-34 1h35m-36 1h36m-36 1h37m-36 1h38m-38 1h39m-43 1h43m-43 1h42m-46 1h3m2 0h41m-119 1h1m77 0h41m-119 1h1m76 0h43m-120 1h1m75 0h44m-120 1h1m72 0h1m2 0h44m-120 1h1m70 0h50m-121 1h1m71 0h49m-121 1h1m69 0h52m28 0h1m-151 1h1m69 0h2m2 0h48m13 0h1m9 0h1m-146 1h1m70 0h1m1 0h48m8 0h2m4 0h1m7 0h3m-146 1h1m72 0h48m7 0h3m3 0h2m-136 1h1m75 0h47m6 0h1m-130 1h1m74 0h50m11 0h3m-139 1h1m73 0h53m8 0h3m-138 1h1m68 0h2m1 0h54m9 0h2m-137 1h1m70 0h4m1 0h48m1 0h1m9 0h1m-136 1h1m70 0h3m3 0h45m12 0h2m-136 1h1m71 0h2m1 0h48m-123 1h1m73 0h49m-123 1h1m74 0h1m2 0h45m-123 1h1m78 0h43m-122 1h1m78 0h39m-118 1h1m79 0h38m-118 1h1m80 0h37m-118 1h1m82 0h35m-34 1h33m-33 1h32m-37 1h36m-35 1h35m-34 1h34m-32 1h32m-32 1h1m2 0h29m-29 1h27m-26 1h26m-27 1h26m-25 1h25m-25 1h24m-24 1h22m-21 1h21m-17 1h14m1 0h2m-17 1h13m-11 1h8m-4 1h1"/>
<path stroke="#004bff" d="M96 168h7m-9 1h11m3 0h1m-18 1h19m-19 1h20m-23 1h24m-25 1h26m-26 1h27m-29 1h29m-33 1h34m-32 1h32m-32 1h34m-34 1h35m-35 1h35m-38 1h38m-38 1h38m-39 1h39m-118 1h1m78 0h40m-119 1h1m78 0h40m-119 1h1m76 0h41m-118 1h1m76 0h41m-118 1h1m77 0h42m-120 1h1m74 0h1m2 0h42m-120 1h1m74 0h2m1 0h42m-120 1h1m74 0h7m2 0h35m-119 1h1m76 0h42m-119 1h1m77 0h4m1 0h36m-119 1h1m76 0h5m1 0h36m-119 1h1m75 0h5m2 0h36m-119 1h1m75 0h44m-120 1h1m76 0h43m-120 1h1m77 0h42m-120 1h1m77 0h43m-121 1h1m77 0h43m-121 1h1m78 0h38m2 0h1m-120 1h1m79 0h37m-117 1h1m80 0h36m-117 1h1m80 0h36m-117 1h1m82 0h33m-116 1h1m84 0h30m-29 1h28m-28 1h28m-29 1h29m-33 1h1m3 0h29m-27 1h26m-27 1h28m-28 1h27m-26 1h24m-23 1h23m-23 1h23m-22 1h22m-22 1h19m-18 1h17m-15 1h13m-12 1h10m-7 1h6m-4 1h2"/>
<path stroke="#0078ff" d="M96 169h7m-8 1h10m2 0h2m-16 1h17m-18 1h18m-21 1h22m-22 1h24m-25 1h26m-26 1h26m-26 1h27m-30 1h30m-31 1h32m-33 1h33m-33 1h33m-33 1h33m-35 1h1m2 0h33m-117 1h1m83 0h33m-117 1h1m81 0h1m2 0h32m-117 1h1m78 0h2m4 0h32m-117 1h1m79 0h2m2 0h33m-117 1h1m80 0h1m2 0h34m-118 1h1m80 0h1m2 0h33m-117 1h1m83 0h33m-117 1h1m84 0h32m-117 1h1m84 0h33m-118 1h1m78 0h1m4 0h34m-118 1h1m78 0h1m4 0h34m-118 1h1m83 0h34m-118 1h1m82 0h34m-117 1h1m82 0h34m-117 1h1m80 0h36m-117 1h1m80 0h35m-116 1h1m84 0h31m-116 1h1m80 0h1m3 0h31m-116 1h1m84 0h31m-116 1h1m84 0h31m-116 1h1m85 0h29m-115 1h1m86 0h27m-26 1h25m-26 1h26m-25 1h24m-25 1h25m-23 1h23m-22 1h22m-24 1h24m-25 1h24m-23 1h21m-20 1h19m-18 1h16m-14 1h14m-13 1h12m-12 1h12m-10 1h9m-7 1h1m1 0h2"/>
<path stroke="#00a5ff" d="M101 169h1m-6 1h8m-9 1h14m-16 1h16m-17 1h18m-20 1h21m-22 1h24m-23 1h23m-23 1h24m-24 1h24m-25 1h25m-30 1h30m-29 1h29m-28 1h29m-29 1h30m-30 1h30m-116 1h1m86 0h29m-116 1h1m87 0h28m-116 1h1m85 0h1m1 0h27m-115 1h1m84 0h31m-116 1h1m84 0h30m-115 1h1m84 0h31m-116 1h1m84 0h32m-117 1h1m85 0h31m-117 1h1m85 0h31m-117 1h1m85 0h31m-117 1h1m84 0h32m-117 1h1m83 0h32m-116 1h1m83 0h1m1 0h30m-116 1h1m83 0h1m1 0h29m-115 1h1m86 0h28m-115 1h1m87 0h27m-115 1h1m85 0h1m1 0h27m-115 1h1m87 0h27m-115 1h1m88 0h25m-114 1h1m88 0h25m-24 1h23m-23 1h20m-20 1h18m-18 1h21m-20 1h19m-17 1h16m-17 1h17m-18 1h14m1 0h4m-21 1h16m3 0h1m-18 1h15m-14 1h13m-12 1h11m-11 1h11m-10 1h10m-8 1h2m1 0h1m1 0h3"/>
<path stroke="#00d2ff" d="M100 170h3m-6 1h7m-9 1h13m-13 1h14m-17 1h1m2 0h15m-19 1h20m-19 1h20m-20 1h21m-21 1h21m-21 1h21m-21 1h21m-21 1h21m-27 1h2m3 0h23m-23 1h23m-23 1h23m-22 1h23m-24 1h22m-23 1h24m-114 1h1m89 0h24m-114 1h1m88 0h25m-114 1h1m85 0h2m1 0h26m-115 1h1m85 0h29m-115 1h1m86 0h29m-116 1h1m87 0h28m-116 1h1m86 0h30m-117 1h1m86 0h29m-116 1h1m85 0h29m-28 1h28m-115 1h1m87 0h27m-115 1h1m88 0h25m-114 1h1m89 0h24m-114 1h1m89 0h24m-114 1h1m89 0h23m-113 1h1m89 0h23m-22 1h21m-21 1h18m-17 1h16m-15 1h14m-14 1h14m-12 1h10m1 0h1m-12 1h10m-10 1h9m-11 1h7m1 0h3m-12 1h9m1 0h2m-10 1h1m1 0h4m-4 1h2m-1 1h1"/>
<path stroke="#00faf5" d="M101 171h1m-4 1h6m-8 1h12m-11 1h12m-14 1h15m-16 1h17m-18 1h19m-19 1h19m-20 1h21m-21 1h21m-21 1h21m-21 1h21m-21 1h21m-21 1h22m-22 1h21m-21 1h21m-21 1h21m-22 1h22m-22 1h22m-22 1h22m-23 1h23m-25 1h27m-115 1h1m89 0h25m-115 1h1m90 0h25m-25 1h24m-25 1h25m-25 1h24m-24 1h24m-114 1h1m90 0h22m-113 1h1m90 0h22m-113 1h1m91 0h21m-113 1h1m90 0h21m-21 1h21m-20 1h1m1 0h16m-16 1h13m-13 1h12m-11 1h11m-10 1h7m-5 1h2m1 0h1m1 0h1m-7 1h1"/>
<path stroke="#00ffa0" d="M98 173h7m-8 1h11m-11 1h12m-14 1h15m-16 1h17m-18 1h18m-18 1h19m-19 1h19m-19 1h19m-19 1h19m-19 1h19m-19 1h20m-20 1h20m-20 1h19m-20 1h20m-20 1h20m-20 1h20m-20 1h20m-21 1h21m-21 1h22m-22 1h23m-22 1h22m-22 1h22m-23 1h23m-22 1h22m-23 1h21m-21 1h20m-19 1h19m-18 1h17m-17 1h18m-17 1h15m-14 1h13m-13 1h12m-12 1h10m-9 1h3m1 0h3"/>
<path stroke="#00ff32" d="M98 173h2m2 0h2m-6 1h9m-10 1h11m-11 1h12m-14 1h15m-16 1h16m-16 1h17m-17 1h17m-18 1h18m-18 1h18m-18 1h19m-18 1h18m-18 1h18m-18 1h17m-18 1h18m-18 1h19m-20 1h19m-19 1h20m-20 1h20m-20 1h20m-20 1h21m-21 1h21m-20 1h21m-21 1h20m-20 1h19m-19 1h19m-19 1h17m-16 1h16m-16 1h16m-16 1h15m-14 1h13m-12 1h10m-10 1h9m-8 1h1m3 0h4"/>
<path stroke="#3cff00" d="M99 175h1m-2 1h3m4 0h1m-8 1h9m-10 1h11m-12 1h13m-14 1h14m-14 1h14m-14 1h14m-13 1h13m-13 1h13m-13 1h13m-12 1h11m-12 1h13m-14 1h14m-15 1h15m-15 1h16m-16 1h16m-16 1h16m-17 1h18m-17 1h17m-17 1h18m-17 1h16m-16 1h16m-16 1h14m-14 1h14m-13 1h13m-12 1h11m-10 1h8m-9 1h8m-5 1h3"/>
<path stroke="#a0ff00" d="M98 178h3m2 0h3m-8 1h9m-10 1h9m-9 1h9m-9 1h9m-9 1h9m-9 1h1m1 0h8m-8 1h7m-6 1h6m-6 1h6m-10 1h1m2 0h7m-10 1h10m-10 1h2m1 0h8m-9 1h10m-12 1h12m-13 1h14m-14 1h14m-14 1h15m-14 1h14m-14 1h12m-12 1h12m-11 1h10m-9 1h8m-3 1h2"/>
<path stroke="#f0fa00" d="M99 179h1m4 0h1m-8 1h2m0 1h2m-1 1h5m-4 1h5m-4 1h3m-3 1h3m-4 1h4m-5 1h5m-5 1h4m-4 1h6m-6 1h6m-6 1h7m-9 1h9m-11 1h13m-13 1h13m-13 1h13m-13 1h13m-13 1h12m-11 1h10m-10 1h9m-7 1h3"/>
<path stroke="#ffc300" d="M102 182h2m-1 1h2m-2 1h2m-2 1h1m-1 1h1m-2 1h2m-3 1h1m-2 2h6m-6 1h6m-7 1h7m-8 1h9m-11 1h12m-12 1h12m-12 1h12m-12 1h11m-10 1h9m-8 1h6m-5 1h2"/>
<path stroke="#ff7300" d="M103 186h1m-4 4h3m-3 1h5m-5 1h6m-8 1h9m-11 1h10m-9 1h11m-11 1h10m-10 1h10m-9 1h8m-8 1h4"/>
<path stroke="#ff2800" d="M100 191h5m-5 1h6m-7 1h6m-8 1h9m-9 1h9m-9 1h10m-10 1h9m-8 1h8m-7 1h3"/>
</g>
<path d="M963.7 948.5L973.3 948.5M963.7 868.4L973.3 868.4M963.7 788.3L973.3 788.3M963.7 708.2L973.3 708.2M963.7 628.1L973.3 628.1" stroke="#222" stroke-width="1.2" fill="none"/>
<path d="M969.1 921.8L973.3 921.8M969.1 895.1L973.3 895.1M969.1 841.7L973.3 841.7M969.1 815.0L973.3 815.0M969.1 761.6L973.3 761.6M969.1 734.9L973.3 734.9M969.1 681.5L973.3 681.5M969.1 654.8L973.3 654.8" stroke="#222" stroke-width="1.1" fill="none"/>
<path d="M998.7 949.2L998.7 958.8M1049.4 949.2L1049.4 958.8M1100.0 949.2L1100.0 958.8M1150.7 949.2L1150.7 958.8M1201.4 949.2L1201.4 958.8M1252.0 949.2L1252.0 958.8M1302.7 949.2L1302.7 958.8" stroke="#222" stroke-width="1.3" fill="none"/>
<path d="M983.4 949.2L983.4 956.2M1034.1 949.2L1034.1 956.2M1084.8 949.2L1084.8 956.2M1135.5 949.2L1135.5 956.2M1186.1 949.2L1186.1 956.2M1236.8 949.2L1236.8 956.2M1287.5 949.2L1287.5 956.2" stroke="#222" stroke-width="1.2" fill="none"/>
<path d="M978.5 949.2L978.5 953.6M987.5 949.2L987.5 953.6M990.9 949.2L990.9 953.6M993.8 949.2L993.8 953.6M996.4 949.2L996.4 953.6M1014.0 949.2L1014.0 953.6M1022.9 949.2L1022.9 953.6M1029.2 949.2L1029.2 953.6M1038.1 949.2L1038.1 953.6M1041.5 949.2L1041.5 953.6M1044.5 949.2L1044.5 953.6M1047.1 949.2L1047.1 953.6M1064.6 949.2L1064.6 953.6M1073.5 949.2L1073.5 953.6M1079.9 949.2L1079.9 953.6M1088.8 949.2L1088.8 953.6M1092.2 949.2L1092.2 953.6M1095.1 949.2L1095.1 953.6M1097.7 949.2L1097.7 953.6M1115.3 949.2L1115.3 953.6M1124.2 949.2L1124.2 953.6M1130.5 949.2L1130.5 953.6M1139.5 949.2L1139.5 953.6M1142.9 949.2L1142.9 953.6M1145.8 949.2L1145.8 953.6M1148.4 949.2L1148.4 953.6M1166.0 949.2L1166.0 953.6M1174.9 949.2L1174.9 953.6M1181.2 949.2L1181.2 953.6M1190.1 949.2L1190.1 953.6M1193.5 949.2L1193.5 953.6M1196.5 949.2L1196.5 953.6M1199.1 949.2L1199.1 953.6M1216.6 949.2L1216.6 953.6M1225.6 949.2L1225.6 953.6M1231.9 949.2L1231.9 953.6M1240.8 949.2L1240.8 953.6M1244.2 949.2L1244.2 953.6M1247.1 949.2L1247.1 953.6M1249.7 949.2L1249.7 953.6M1267.3 949.2L1267.3 953.6M1276.2 949.2L1276.2 953.6M1282.6 949.2L1282.6 953.6M1291.5 949.2L1291.5 953.6M1294.9 949.2L1294.9 953.6M1297.8 949.2L1297.8 953.6M1300.4 949.2L1300.4 953.6" stroke="#222" stroke-width="1.2" fill="none"/>
<text x="960.1" y="879.9" font-size="23.2" text-anchor="end">300K</text>
<text x="960.1" y="799.8" font-size="23.2" text-anchor="end">600K</text>
<text x="960.1" y="719.7" font-size="23.2" text-anchor="end">900K</text>
<text x="960.1" y="639.6" font-size="23.2" text-anchor="end">1.2M</text>
<text x="940.7" y="954.8" font-size="23.2" text-anchor="end">0</text>
<text x="988.9" y="981.7" font-size="23.2">10<tspan dy="-11.1" dx="-1.4" font-size="20.2">1</tspan></text>
<text x="1090.3" y="981.7" font-size="23.2">10<tspan dy="-11.1" dx="-3.0" font-size="20.2">3</tspan></text>
<text x="1191.7" y="981.7" font-size="23.2">10<tspan dy="-11.1" dx="-3.0" font-size="20.2">5</tspan></text>
<text x="1285.5" y="981.7" font-size="23.2">10<tspan dy="-11.1" dx="-3.0" font-size="20.2">7</tspan></text>
<text x="1147.2" y="595.7" font-size="23.3" text-anchor="middle" font-weight="bold">Optimized</text>
<rect x="1162.0" y="798.8" width="101.7" height="125.6" fill="none" stroke="#000" stroke-width="1.5"/>
<text x="1215.5" y="787.1" font-size="23.2" text-anchor="middle">6.11%</text>
<text x="0.5" y="937.8" font-size="23.2">FSC-A</text>
<path d="M35.0 1018.0L35.0 944.5M28.6 951.7L35.0 944.8L41.4 951.7M16.8 999.7L88.5 999.7M81.3 993.3L88.2 999.7L81.3 1006.1" stroke="#111" stroke-width="1.5" fill="none" stroke-linejoin="miter"/>
<text x="96.5" y="1005.4" font-size="23.2">Thiazole orange</text>
<text x="0.3" y="19.3" font-size="31.5" font-weight="bold">a</text>
<text x="10.5" y="571.4" font-size="33" font-weight="bold">b</text>
</svg>
</body></html>
